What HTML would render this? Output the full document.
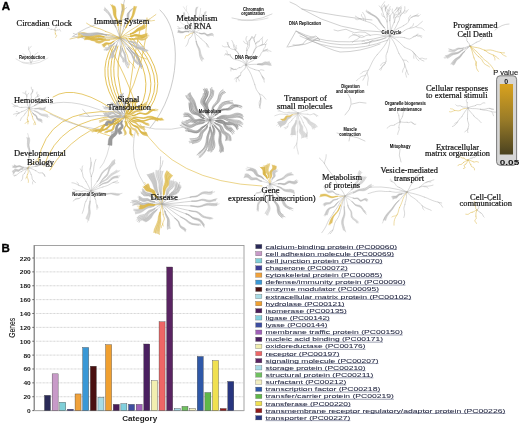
<!DOCTYPE html><html><head><meta charset="utf-8"><style>
*{margin:0;padding:0}
html,body{width:520px;height:425px;overflow:hidden;background:#fff}
svg{display:block;will-change:transform;filter:blur(0.3px)}
text{font-family:"Liberation Sans",sans-serif}
.sf{font-family:"Liberation Serif",serif;font-size:8.5px;fill:#111;stroke:#111;stroke-width:0.2px}
.sm{font-size:4.7px;font-weight:bold;fill:#111;stroke:#111;stroke-width:0.05px}
.yl{font-size:5.7px;font-weight:bold;fill:#1a1a1a}
.cat{font-size:7.6px;font-weight:bold;fill:#222}
.gn{font-size:8.2px;fill:#111;stroke:#111;stroke-width:0.1px}
.pl{font-size:11.5px;font-weight:bold;fill:#000;stroke:#000;stroke-width:0.35px}
.lg{font-size:6.0px;fill:#262a44;stroke:#262a44;stroke-width:0.06px}
.pv{font-size:7px;fill:#111;stroke:#111;stroke-width:0.1px}
.pvb{font-size:7px;font-weight:bold;fill:#111}
</style></head><body>
<svg width="520" height="425" viewBox="0 0 520 425">
<rect width="520" height="425" fill="#fff"/>
<g id="trees"><g fill="none" stroke-linecap="round" stroke-linejoin="round"><path d="M112,46 Q95,75 118,108" stroke="#dfb83c" stroke-width="0.85"/><path d="M114,46 Q99,75 120,108" stroke="#dfb83c" stroke-width="0.85"/><path d="M116,46 Q103,75 122,108" stroke="#dfb83c" stroke-width="0.85"/><path d="M118,46 Q107,75 124,108" stroke="#dfb83c" stroke-width="0.85"/><path d="M121,46 Q112.5,75 126,108" stroke="#dfb83c" stroke-width="0.85"/><path d="M126,38 Q157,77 140,108" stroke="#dfb83c" stroke-width="0.85"/><path d="M129,38 Q163.5,77 144,108" stroke="#dfb83c" stroke-width="0.85"/><path d="M132,38 Q168.5,77 147,108" stroke="#dfb83c" stroke-width="0.85"/><path d="M136,38 Q171,77 150,108" stroke="#dfb83c" stroke-width="0.85"/><path d="M147,18 Q146.5,62 124,106" stroke="#dfb83c" stroke-width="0.7"/><path d="M140,30 Q132,64 128,106" stroke="#dfb83c" stroke-width="0.7"/><path d="M108,44 Q125.5,74 137,108" stroke="#dfb83c" stroke-width="0.7"/><path d="M160,10 C182,30 182,90 150,128" stroke="#b4b4b4" stroke-width="0.7"/><path d="M122,116 Q76.5,81.5 53,97" stroke="#dfb83c" stroke-width="0.75"/><path d="M118,118 Q76,97 50,104" stroke="#b0b0b0" stroke-width="0.5"/><path d="M40,108 Q65,122 110,136" stroke="#dfb83c" stroke-width="0.6"/><path d="M50,114 Q79,130 112,130" stroke="#b0b0b0" stroke-width="0.55"/><path d="M116,112 Q47,107 38,162" stroke="#dfb83c" stroke-width="0.75"/><path d="M118,116 Q59,119 44,166" stroke="#dfb83c" stroke-width="0.75"/><path d="M121,120 Q74.5,129 50,170" stroke="#dfb83c" stroke-width="0.7"/><path d="M140,124 Q172,182 262,186" stroke="#dfb83c" stroke-width="0.6"/><path d="M140,126 Q170,135 205,121" stroke="#b0b0b0" stroke-width="0.5"/><path d="M136,128 Q125,170 158,200" stroke="#b0b0b0" stroke-width="0.5"/><path d="M112,132 Q108,160 100,168" stroke="#b0b0b0" stroke-width="0.45"/><path d="M290,2 Q296,4 302,9 M302,9 Q340,32 384,32 M302,9 Q335,16 372,20 M296,31 Q335,50 386,36 M298,33 Q340,54 386,38 M300,36 Q342,58 388,40 M306,38 Q330,50 340,52 Q360,52 380,44" stroke="#aaa" stroke-width="0.55"/><path d="M287,47 L296,31 L306,37 Q312,42 320,40 L316,36 Q306,38 303,44 L288,47 M293,45 Q305,47 318,38" stroke="#9e9e9e" stroke-width="0.5"/><path d="M334,30 q4,2 8,0 q4,-2 8,1 q4,3 10,1 q5,-1 10,3" stroke="#aaa" stroke-width="0.5"/><path d="M345,196 Q370,180 407,192" stroke="#b0b0b0" stroke-width="0.5"/><path d="M210,120 211.6,120 213.1,120.1 214.6,120.4 216.1,120.8" stroke="#848484" stroke-width="0.62"/><path d="M216.1,120.5 218,120.1 219.9,119.7 221.8,120 223.6,120.9 225.4,122.1 227.2,122.6 229.1,122.4 231.2,121.9 233.2,121.7 235,122.3 236.6,123.9 238,125.9 237.2,129.8 235.9,127.6 234.4,125.8 232.7,124.9 230.8,124.8 228.9,125.1 227,125 225.3,124.3 223.6,122.8 221.8,121.5 219.9,121 218,121 216.1,121.1Z" fill="#d0d0d0" stroke="none"/><path d="M216.1,120.5 218,120.1 219.9,119.7 221.8,120 223.6,120.9 225.4,122.1 227.2,122.6 229.1,122.4 231.2,121.9 233.2,121.7 235,122.3 236.6,123.9 238,125.9" stroke="#848484" stroke-width="0.496"/><path d="M216.1,120.7 218,120.3 220,120 221.9,120.3 223.7,121.3 225.5,122.6 227.3,123.1 229.2,122.9 231.3,122.5 233.3,122.4 235.1,123.1 236.7,124.7 238.1,126.8" stroke="#848484" stroke-width="0.496"/><path d="M216.1,120.8 217.9,120.5 219.7,120.2 221.4,120.6 223.1,121.6 224.8,122.9 226.4,123.5 228.2,123.3 230.1,122.9 232,122.7 233.7,123.4 235.1,125 236.3,127.1" stroke="#848484" stroke-width="0.496"/><path d="M216.1,120.9 218.1,120.7 220.1,120.5 222,120.9 223.9,122.1 225.7,123.5 227.5,124.1 229.5,124.1 231.5,123.7 233.5,123.7 235.4,124.6 237,126.3 238.3,128.6" stroke="#848484" stroke-width="0.496"/><path d="M216.1,121 218,120.8 219.9,120.7 221.8,121.2 223.6,122.4 225.3,123.8 227.1,124.5 229,124.5 230.9,124.2 232.8,124.2 234.6,125.1 236.1,126.8 237.4,129.1" stroke="#848484" stroke-width="0.496"/><path d="M216.1,121.1 218,121 219.9,121 221.8,121.5 223.6,122.8 225.3,124.3 227,125 228.9,125.1 230.8,124.8 232.7,124.9 234.4,125.8 235.9,127.6 237.2,129.8" stroke="#848484" stroke-width="0.496"/><path d="M216.2,120.5 217.6,121.1 219.1,121.5 220.7,121.5 222.4,121.5 223.7,122.3 224.7,123.9 225.6,125.5 226.8,126.4 228.4,126.8 230.1,127 231.5,127.7 232.4,129.2 232.5,134.2 231.7,132.4 230.3,131.3 228.6,130.7 227.1,130 225.9,128.7 225,126.7 224,124.8 222.6,123.6 220.9,123.2 219.1,122.8 217.6,122.1 216,121.1Z" fill="#e4e4e4" stroke="none"/><path d="M216.2,120.5 217.6,121.1 219.1,121.5 220.7,121.5 222.4,121.5 223.7,122.3 224.7,123.9 225.6,125.5 226.8,126.4 228.4,126.8 230.1,127 231.5,127.7 232.4,129.2" stroke="#848484" stroke-width="0.496"/><path d="M216.2,120.7 217.8,121.3 219.5,121.9 221.3,122.1 223.2,122.3 224.7,123.2 225.8,125 226.9,126.8 228.3,128 230,128.5 231.8,129 233.3,129.9 234.3,131.7" stroke="#848484" stroke-width="0.496"/><path d="M216.1,120.8 217.6,121.5 219,122 220.6,122.1 222.3,122.3 223.6,123.2 224.5,124.9 225.4,126.6 226.5,127.7 228.1,128.1 229.7,128.4 231.1,129.3 231.9,130.9" stroke="#848484" stroke-width="0.496"/><path d="M216.1,120.9 217.7,121.7 219.4,122.4 221.3,122.7 223.1,123.1 224.6,124.1 225.7,126 226.8,127.9 228.1,129.2 229.8,129.9 231.5,130.4 233,131.5 234,133.4" stroke="#848484" stroke-width="0.496"/><path d="M216.1,121 217.4,121.8 218.8,122.4 220.3,122.7 221.8,122.9 223.1,123.9 223.9,125.6 224.7,127.4 225.7,128.5 227.1,129 228.6,129.4 229.9,130.2 230.6,131.9" stroke="#848484" stroke-width="0.496"/><path d="M216,121.1 217.6,122.1 219.1,122.8 220.9,123.2 222.6,123.6 224,124.8 225,126.7 225.9,128.7 227.1,130 228.6,130.7 230.3,131.3 231.7,132.4 232.5,134.2" stroke="#848484" stroke-width="0.496"/><path d="M210,120 211.4,120.5 212.6,121.3 213.8,122.2 215,123" stroke="#949494" stroke-width="0.62"/><path d="M215.1,122.7 216.9,123.6 218.9,124.2 220.7,125.1 222.2,126.5 223.1,128.6 224.1,130.5 225.5,132 227.2,133 229,134.1 230.3,135.7 231,137.9 231.1,140.4 225.6,140.7 226,138.3 225.7,136.3 224.8,134.9 223.4,133.9 222.1,133 221.2,131.6 220.6,129.6 220.1,127.6 219.1,126.1 217.7,125.2 216.2,124.4 214.8,123.3Z" fill="#d0d0d0" stroke="none"/><path d="M215.1,122.7 216.9,123.6 218.9,124.2 220.7,125.1 222.2,126.5 223.1,128.6 224.1,130.5 225.5,132 227.2,133 229,134.1 230.3,135.7 231,137.9 231.1,140.4" stroke="#949494" stroke-width="0.496"/><path d="M215,122.9 216.8,123.8 218.6,124.5 220.4,125.4 221.8,126.9 222.7,129 223.6,131 224.8,132.4 226.5,133.5 228.2,134.6 229.5,136.2 230,138.4 230,140.9" stroke="#949494" stroke-width="0.496"/><path d="M215,123 216.4,123.9 218,124.5 219.5,125.3 220.6,126.7 221.2,128.6 221.8,130.4 222.9,131.7 224.3,132.5 225.8,133.4 226.9,134.7 227.3,136.7 227.1,138.9" stroke="#949494" stroke-width="0.496"/><path d="M214.9,123.2 216.3,124.1 217.8,124.8 219.3,125.7 220.3,127.1 220.9,129.1 221.5,130.9 222.5,132.3 223.8,133.2 225.3,134.1 226.3,135.5 226.6,137.4 226.3,139.8" stroke="#949494" stroke-width="0.496"/><path d="M214.8,123.3 216.2,124.4 217.7,125.2 219.1,126.1 220.1,127.6 220.6,129.6 221.2,131.6 222.1,133 223.4,133.9 224.8,134.9 225.7,136.3 226,138.3 225.6,140.7" stroke="#949494" stroke-width="0.496"/><path d="M210,120 211.2,121.2 212.2,122.6 213.2,123.9 214.3,125.2" stroke="#949494" stroke-width="0.62"/><path d="M214.5,125 216.1,126.7 217.8,128.3 219.5,130 220.8,132 221.3,134.5 221.2,137.3 221.2,139.9 221.6,142.3 222.3,144.5 223.2,146.7 223.6,149.1 223.3,151.7 219.3,151.4 219.9,149 219.8,146.7 219.2,144.7 218.7,142.6 218.6,140.3 218.9,137.8 219.3,135.1 219.1,132.7 218.1,130.6 216.7,128.9 215.3,127.2 214.1,125.3Z" fill="#d6d6d6" stroke="none"/><path d="M214.5,125 216.1,126.7 217.8,128.3 219.5,130 220.8,132 221.3,134.5 221.2,137.3 221.2,139.9 221.6,142.3 222.3,144.5 223.2,146.7 223.6,149.1 223.3,151.7" stroke="#949494" stroke-width="0.496"/><path d="M214.4,125 215.9,126.7 217.5,128.3 219.1,130 220.3,131.9 220.7,134.3 220.6,137 220.4,139.5 220.7,141.8 221.5,143.9 222.3,146 222.7,148.3 222.3,150.8" stroke="#949494" stroke-width="0.496"/><path d="M214.3,125.1 215.8,126.9 217.4,128.6 219,130.4 220.2,132.5 220.6,135 220.4,137.7 220.3,140.4 220.5,142.8 221.2,145 222,147.2 222.3,149.6 221.8,152.2" stroke="#949494" stroke-width="0.496"/><path d="M214.2,125.2 215.6,127 217.2,128.7 218.7,130.5 219.8,132.5 220.2,135 219.9,137.8 219.7,140.4 219.9,142.7 220.6,144.9 221.3,147.1 221.5,149.4 221,152" stroke="#949494" stroke-width="0.496"/><path d="M214.2,125.3 215.5,127.2 217.1,129 218.6,130.8 219.7,132.9 220,135.5 219.7,138.3 219.4,141 219.6,143.4 220.2,145.6 220.8,147.8 221,150.2 220.4,152.8" stroke="#949494" stroke-width="0.496"/><path d="M214.1,125.3 215.3,127.2 216.7,128.9 218.1,130.6 219.1,132.7 219.3,135.1 218.9,137.8 218.6,140.3 218.7,142.6 219.2,144.7 219.8,146.7 219.9,149 219.3,151.4" stroke="#949494" stroke-width="0.496"/><path d="M210,120 210.5,121.6 211.2,123 212,124.5 212.5,126" stroke="#848484" stroke-width="0.62"/><path d="M212.9,125.9 214,127.6 214.8,129.5 215,131.5 214.7,133.7 214.1,135.8 214,137.8 214.1,139.8 214.5,141.8 214.9,143.9 214.9,146 214.3,148.1 213,150.1 207.7,150.7 209.3,148.8 210.3,146.9 210.7,144.8 210.7,142.8 210.7,140.8 210.9,138.8 211.5,136.8 212.4,134.6 213.1,132.3 213.3,130.1 212.9,128.1 212.2,126.1Z" fill="#d0d0d0" stroke="none"/><path d="M212.9,125.9 214,127.6 214.8,129.5 215,131.5 214.7,133.7 214.1,135.8 214,137.8 214.1,139.8 214.5,141.8 214.9,143.9 214.9,146 214.3,148.1 213,150.1" stroke="#848484" stroke-width="0.496"/><path d="M212.6,126 213.6,127.6 214.2,129.4 214.3,131.4 213.8,133.4 213.1,135.4 212.9,137.3 212.9,139.1 213.2,141 213.5,142.9 213.4,144.8 212.8,146.7 211.5,148.6" stroke="#848484" stroke-width="0.496"/><path d="M212.4,126 213.2,127.7 213.6,129.4 213.6,131.3 213,133.2 212.2,135.1 211.8,136.9 211.7,138.6 211.9,140.3 212.1,142.1 212,143.9 211.3,145.6 209.9,147.3" stroke="#848484" stroke-width="0.496"/><path d="M212.2,126.1 212.9,128.1 213.3,130.1 213.1,132.3 212.4,134.6 211.5,136.8 210.9,138.8 210.7,140.8 210.7,142.8 210.7,144.8 210.3,146.9 209.3,148.8 207.7,150.7" stroke="#848484" stroke-width="0.496"/><path d="M210,120 210.3,121.8 210.2,123.7 210.2,125.5 210.2,127.3" stroke="#949494" stroke-width="0.62"/><path d="M210.5,127.3 211.1,129.2 211.8,131.1 212.5,133.1 212.8,135.1 212.6,137.2 212,139.3 211.6,141.4 211.5,143.4 211.6,145.4 212,147.5 212.1,149.5 211.9,151.6 208.1,151.2 208.6,149.2 208.6,147.2 208.5,145.3 208.6,143.3 209,141.4 209.7,139.4 210.5,137.3 211,135.3 211,133.3 210.6,131.3 210.2,129.4 209.9,127.4Z" fill="#e4e4e4" stroke="none"/><path d="M210.5,127.3 211.1,129.2 211.8,131.1 212.5,133.1 212.8,135.1 212.6,137.2 212,139.3 211.6,141.4 211.5,143.4 211.6,145.4 212,147.5 212.1,149.5 211.9,151.6" stroke="#949494" stroke-width="0.496"/><path d="M210.3,127.3 210.9,129.3 211.5,131.3 212.1,133.3 212.4,135.4 212.1,137.5 211.5,139.7 211,141.8 210.8,143.9 210.9,146 211.1,148.1 211.2,150.2 210.9,152.3" stroke="#949494" stroke-width="0.496"/><path d="M210.2,127.3 210.6,129.2 211.2,131.1 211.7,132.9 211.9,134.9 211.5,136.9 210.8,138.9 210.3,140.8 210,142.7 210.1,144.7 210.3,146.6 210.4,148.5 210.1,150.4" stroke="#949494" stroke-width="0.496"/><path d="M210.1,127.4 210.4,129.3 210.9,131.3 211.3,133.2 211.5,135.3 211,137.3 210.3,139.4 209.6,141.4 209.3,143.4 209.3,145.4 209.4,147.4 209.4,149.4 209,151.4" stroke="#949494" stroke-width="0.496"/><path d="M209.9,127.4 210.2,129.4 210.6,131.3 211,133.3 211,135.3 210.5,137.3 209.7,139.4 209,141.4 208.6,143.3 208.5,145.3 208.6,147.2 208.6,149.2 208.1,151.2" stroke="#949494" stroke-width="0.496"/><path d="M210.5,127.4 210.2,130 209.6,132.6 208.9,135.2 208.4,137.8 208.2,140.5 208.1,143.2 207.7,145.9 207,148.5 205.7,151 204,153.3 202.1,155.5 200,157.6 196.9,154.8 199.1,153 201.3,151.1 203.1,149 204.5,146.8 205.4,144.4 206,142 206.3,139.5 206.7,137 207.5,134.6 208.4,132.2 209.3,129.8 209.9,127.3Z" fill="#e4e4e4" stroke="none"/><path d="M210.5,127.4 210.2,130 209.6,132.6 208.9,135.2 208.4,137.8 208.2,140.5 208.1,143.2 207.7,145.9 207,148.5 205.7,151 204,153.3 202.1,155.5 200,157.6" stroke="#949494" stroke-width="0.496"/><path d="M210.4,127.3 210,130 209.3,132.6 208.6,135.2 208,137.8 207.7,140.4 207.5,143.1 207.1,145.8 206.3,148.4 205,150.9 203.2,153.1 201.2,155.3 199,157.4" stroke="#949494" stroke-width="0.496"/><path d="M210.2,127.3 209.8,129.6 209.1,131.9 208.3,134.1 207.8,136.4 207.5,138.7 207.4,141.1 207,143.4 206.3,145.7 205.1,147.8 203.4,149.8 201.5,151.6 199.5,153.3" stroke="#949494" stroke-width="0.496"/><path d="M210.1,127.3 209.6,129.6 208.8,131.8 208,134 207.3,136.3 207,138.6 206.8,140.9 206.4,143.2 205.6,145.4 204.4,147.5 202.7,149.4 200.7,151.1 198.7,152.8" stroke="#949494" stroke-width="0.496"/><path d="M209.9,127.3 209.3,129.8 208.4,132.2 207.5,134.6 206.7,137 206.3,139.5 206,142 205.4,144.4 204.5,146.8 203.1,149 201.3,151.1 199.1,153 196.9,154.8" stroke="#949494" stroke-width="0.496"/><path d="M210,120 209.3,121.5 208.5,122.9 207.8,124.4 207.3,125.9" stroke="#949494" stroke-width="0.62"/><path d="M207.6,126.1 207.1,128 206.1,129.6 204.7,131.1 203.4,132.6 202.5,134.3 202,136.4 201.5,138.4 200.6,140.3 199.1,141.6 197,142.5 194.6,143.1 192.3,143.7 189.8,138.8 192.1,138.7 194.5,138.5 196.7,138 198.3,137 199.3,135.6 199.9,133.9 200.5,132.2 201.6,130.8 203.1,129.8 204.8,128.6 206,127.3 206.9,125.8Z" fill="#d6d6d6" stroke="none"/><path d="M207.6,126.1 207.1,128 206.1,129.6 204.7,131.1 203.4,132.6 202.5,134.3 202,136.4 201.5,138.4 200.6,140.3 199.1,141.6 197,142.5 194.6,143.1 192.3,143.7" stroke="#949494" stroke-width="0.496"/><path d="M207.4,126 206.9,127.6 205.9,129.1 204.6,130.3 203.3,131.5 202.4,133 202.1,134.9 201.7,136.7 200.9,138.3 199.5,139.5 197.5,140.2 195.3,140.6 193.1,140.9" stroke="#949494" stroke-width="0.496"/><path d="M207.3,125.9 206.5,127.8 205.3,129.5 203.7,130.9 202.1,132.4 201,134 200.4,136 199.7,138 198.6,139.8 196.8,141.1 194.6,141.9 192,142.4 189.5,142.8" stroke="#949494" stroke-width="0.496"/><path d="M207.1,125.8 206.2,127.6 204.9,129.2 203.3,130.5 201.7,131.8 200.6,133.4 199.9,135.3 199.2,137.2 198.1,138.8 196.4,140 194.1,140.7 191.6,141.1 189.1,141.4" stroke="#949494" stroke-width="0.496"/><path d="M206.9,125.8 206,127.3 204.8,128.6 203.1,129.8 201.6,130.8 200.5,132.2 199.9,133.9 199.3,135.6 198.3,137 196.7,138 194.5,138.5 192.1,138.7 189.8,138.8" stroke="#949494" stroke-width="0.496"/><path d="M210,120 209.1,121.2 208.2,122.5 207.3,123.8 206.2,124.9" stroke="#848484" stroke-width="0.62"/><path d="M206.4,125 205.3,126.2 204,127.1 202.7,128.1 201.7,129.3 200.8,130.7 199.6,132 198,132.6 196.1,132.7 194,132.2 192,131.6 190.1,131.2 188.4,131.2 184.9,128.4 186.8,128.8 188.8,129.5 191.1,130.3 193.3,131.1 195.5,131.3 197.3,130.8 198.7,129.8 199.9,128.5 201.3,127.4 202.9,126.6 204.5,125.7 206,124.7Z" fill="#d0d0d0" stroke="none"/><path d="M206.4,125 205.3,126.2 204,127.1 202.7,128.1 201.7,129.3 200.8,130.7 199.6,132 198,132.6 196.1,132.7 194,132.2 192,131.6 190.1,131.2 188.4,131.2" stroke="#848484" stroke-width="0.496"/><path d="M206.3,124.9 205,126.2 203.5,127.2 202,128.2 200.8,129.5 199.6,130.9 198.3,132.2 196.5,132.8 194.3,132.8 192,132.3 189.8,131.7 187.7,131.2 185.8,131" stroke="#848484" stroke-width="0.496"/><path d="M206.2,124.9 204.8,126 203.3,127 201.8,127.9 200.5,129.1 199.3,130.6 197.9,131.7 196.1,132.3 194,132.3 191.7,131.7 189.4,130.9 187.3,130.4 185.5,130.2" stroke="#848484" stroke-width="0.496"/><path d="M206.1,124.8 204.8,125.7 203.3,126.5 202,127.3 200.8,128.3 199.8,129.6 198.6,130.6 197,131.1 195,130.9 193,130.3 190.9,129.4 189.1,128.8 187.4,128.6" stroke="#848484" stroke-width="0.496"/><path d="M206,124.7 204.5,125.7 202.9,126.6 201.3,127.4 199.9,128.5 198.7,129.8 197.3,130.8 195.5,131.3 193.3,131.1 191.1,130.3 188.8,129.5 186.8,128.8 184.9,128.4" stroke="#848484" stroke-width="0.496"/><path d="M210,120 208.5,120.7 206.9,121.2 205.4,121.8 203.9,122.5" stroke="#949494" stroke-width="0.62"/><path d="M204.1,122.8 202.2,123.6 200.2,124 198.3,124.4 196.3,125 194.5,125.9 192.7,126.9 190.7,127.7 188.7,128.1 186.6,128 184.4,127.4 182.2,126.4 180.1,125.3 182.6,121.2 184.4,122.6 186.3,123.7 188.2,124.6 190,124.9 191.8,124.8 193.5,124.3 195.1,123.5 196.7,123 198.4,122.8 200.2,122.7 202.1,122.6 203.8,122.2Z" fill="#e4e4e4" stroke="none"/><path d="M204.1,122.8 202.2,123.6 200.2,124 198.3,124.4 196.3,125 194.5,125.9 192.7,126.9 190.7,127.7 188.7,128.1 186.6,128 184.4,127.4 182.2,126.4 180.1,125.3" stroke="#949494" stroke-width="0.496"/><path d="M204,122.6 202.4,123.2 200.6,123.6 198.9,123.8 197.2,124.3 195.6,125 194,126 192.4,126.7 190.6,127 188.8,126.9 186.9,126.2 185,125.3 183.1,124.1" stroke="#949494" stroke-width="0.496"/><path d="M203.9,122.5 202.2,123.1 200.4,123.3 198.5,123.5 196.8,123.9 195.1,124.6 193.5,125.5 191.7,126.1 189.9,126.4 188,126.2 186,125.5 184.1,124.4 182.2,123.2" stroke="#949494" stroke-width="0.496"/><path d="M203.9,122.4 202.1,122.9 200.2,123.1 198.3,123.2 196.4,123.5 194.7,124.2 193,125 191.2,125.6 189.4,125.8 187.4,125.5 185.4,124.7 183.4,123.6 181.5,122.3" stroke="#949494" stroke-width="0.496"/><path d="M203.8,122.2 202.1,122.6 200.2,122.7 198.4,122.8 196.7,123 195.1,123.5 193.5,124.3 191.8,124.8 190,124.9 188.2,124.6 186.3,123.7 184.4,122.6 182.6,121.2" stroke="#949494" stroke-width="0.496"/><path d="M210,120 208.6,120.4 207.2,120.4 205.7,120.4 204.3,120.5" stroke="#949494" stroke-width="0.62"/><path d="M204.4,120.8 202.7,121.1 201.1,121.6 199.7,122.5 198.2,123.9 196.7,124.6 194.8,124 192.9,122.9 191.1,122.1 189.5,122.2 187.9,123.1 186.2,124.1 184.5,124.4 186,120.4 187.5,120.4 188.9,119.6 190.3,118.9 191.8,119.1 193.4,120.2 195.2,121.6 196.9,122.4 198.4,122 199.7,120.9 201,120.3 202.6,120.2 204.2,120.2Z" fill="#e4e4e4" stroke="none"/><path d="M204.4,120.8 202.7,121.1 201.1,121.6 199.7,122.5 198.2,123.9 196.7,124.6 194.8,124 192.9,122.9 191.1,122.1 189.5,122.2 187.9,123.1 186.2,124.1 184.5,124.4" stroke="#949494" stroke-width="0.496"/><path d="M204.3,120.6 202.8,120.8 201.4,121.2 200.1,122 198.8,123.3 197.4,123.9 195.7,123.3 194,122.1 192.4,121.2 191,121.2 189.5,122.1 188.1,123.1 186.6,123.3" stroke="#949494" stroke-width="0.496"/><path d="M204.3,120.5 202.6,120.7 201.1,120.9 199.6,121.7 198.3,122.9 196.7,123.5 194.9,122.8 193.1,121.5 191.4,120.6 189.8,120.6 188.3,121.4 186.8,122.3 185.1,122.4" stroke="#949494" stroke-width="0.496"/><path d="M204.2,120.4 202.5,120.4 200.9,120.6 199.4,121.4 198,122.5 196.4,123.1 194.6,122.3 192.7,120.9 190.9,119.9 189.3,119.8 187.8,120.6 186.2,121.4 184.5,121.4" stroke="#949494" stroke-width="0.496"/><path d="M204.2,120.2 202.6,120.2 201,120.3 199.7,120.9 198.4,122 196.9,122.4 195.2,121.6 193.4,120.2 191.8,119.1 190.3,118.9 188.9,119.6 187.5,120.4 186,120.4" stroke="#949494" stroke-width="0.496"/><path d="M204.3,120.8 202.5,120.6 200.8,120.4 199.1,120.6 197.2,121.3 195.4,121.9 193.6,121.4 192.1,120 190.6,118.4 189.1,117 187.5,116.4 185.6,116.5 183.7,116.7 184.6,112.9 186.4,112.9 188.1,113.1 189.6,113.9 191,115.5 192.4,117.4 193.9,119 195.5,119.8 197.3,119.5 199.1,119.1 200.8,119.1 202.5,119.7 204.3,120.2Z" fill="#d6d6d6" stroke="none"/><path d="M204.3,120.8 202.5,120.6 200.8,120.4 199.1,120.6 197.2,121.3 195.4,121.9 193.6,121.4 192.1,120 190.6,118.4 189.1,117 187.5,116.4 185.6,116.5 183.7,116.7" stroke="#949494" stroke-width="0.496"/><path d="M204.3,120.7 202.7,120.4 201.1,120.2 199.5,120.4 197.9,121 196.2,121.6 194.6,121 193.2,119.7 191.9,118 190.5,116.7 189.1,116.2 187.4,116.2 185.6,116.5" stroke="#949494" stroke-width="0.496"/><path d="M204.3,120.6 202.5,120.2 200.7,119.9 199,120 197.1,120.6 195.3,121 193.5,120.4 191.9,118.9 190.5,117.2 189,115.7 187.4,115 185.6,114.9 183.7,115" stroke="#949494" stroke-width="0.496"/><path d="M204.3,120.4 202.5,120 200.7,119.6 198.8,119.7 197,120.2 195.1,120.6 193.3,119.9 191.7,118.3 190.2,116.5 188.7,115 187.1,114.2 185.2,114.1 183.3,114.1" stroke="#949494" stroke-width="0.496"/><path d="M204.3,120.3 202.8,119.9 201.3,119.4 199.7,119.5 198.2,120 196.6,120.3 195.1,119.7 193.8,118.2 192.6,116.4 191.4,115 190.1,114.3 188.5,114.3 186.9,114.4" stroke="#949494" stroke-width="0.496"/><path d="M204.3,120.2 202.5,119.7 200.8,119.1 199.1,119.1 197.3,119.5 195.5,119.8 193.9,119 192.4,117.4 191,115.5 189.6,113.9 188.1,113.1 186.4,112.9 184.6,112.9" stroke="#949494" stroke-width="0.496"/><path d="M210,120 208.4,119.6 206.9,119.4 205.3,118.9 203.8,118.3" stroke="#848484" stroke-width="0.62"/><path d="M203.7,118.7 202,118.3 200.5,117.4 199.1,116.3 197.6,115.3 195.9,114.7 194.1,114.3 192.3,113.7 190.9,112.5 189.9,110.6 189.5,108.4 189.3,105.9 189.1,103.6 192.7,100.2 192.4,102.6 192.3,105.1 192.4,107.5 193,109.5 194.1,110.9 195.6,111.8 197.2,112.4 198.6,113.2 199.8,114.5 201,115.9 202.4,117.2 203.9,118Z" fill="#d6d6d6" stroke="none"/><path d="M203.7,118.7 202,118.3 200.5,117.4 199.1,116.3 197.6,115.3 195.9,114.7 194.1,114.3 192.3,113.7 190.9,112.5 189.9,110.6 189.5,108.4 189.3,105.9 189.1,103.6" stroke="#848484" stroke-width="0.496"/><path d="M203.8,118.5 202,118 200.4,117 199,115.8 197.5,114.7 195.8,114 193.9,113.5 192.1,112.7 190.7,111.4 189.8,109.5 189.3,107.1 189.2,104.5 189.1,102.1" stroke="#848484" stroke-width="0.496"/><path d="M203.8,118.4 202.2,117.9 200.9,116.9 199.6,115.7 198.3,114.6 196.8,114 195.1,113.6 193.5,112.9 192.3,111.7 191.5,109.9 191.2,107.7 191.2,105.3 191.2,103" stroke="#848484" stroke-width="0.496"/><path d="M203.9,118.3 202.2,117.6 200.7,116.5 199.3,115.1 197.9,113.9 196.3,113.1 194.6,112.6 192.9,111.7 191.7,110.3 190.9,108.3 190.6,105.9 190.6,103.3 190.6,100.9" stroke="#848484" stroke-width="0.496"/><path d="M203.9,118.1 202.5,117.5 201.2,116.3 200.2,115.1 199,113.9 197.7,113.3 196.2,112.9 194.8,112.2 193.7,111 193.1,109.2 193,107 193.2,104.7 193.4,102.5" stroke="#848484" stroke-width="0.496"/><path d="M203.9,118 202.4,117.2 201,115.9 199.8,114.5 198.6,113.2 197.2,112.4 195.6,111.8 194.1,110.9 193,109.5 192.4,107.5 192.3,105.1 192.4,102.6 192.7,100.2" stroke="#848484" stroke-width="0.496"/><path d="M210,120 208.4,119.1 206.9,118.3 205.4,117.2 204.1,116.1" stroke="#949494" stroke-width="0.62"/><path d="M203.8,116.4 201.8,115.3 199.8,114.3 197.7,113.2 195.9,111.7 194.6,109.7 193.6,107.4 192.6,105.1 191.4,103.1 189.9,101.4 188.3,99.7 186.8,97.9 185.7,95.8 190.1,92.4 190.8,94.7 191.9,96.6 193.2,98.4 194.3,100.3 195.2,102.5 195.8,104.9 196.5,107.4 197.5,109.7 199,111.4 200.8,112.9 202.6,114.2 204.3,115.7Z" fill="#d0d0d0" stroke="none"/><path d="M203.8,116.4 201.8,115.3 199.8,114.3 197.7,113.2 195.9,111.7 194.6,109.7 193.6,107.4 192.6,105.1 191.4,103.1 189.9,101.4 188.3,99.7 186.8,97.9 185.7,95.8" stroke="#949494" stroke-width="0.496"/><path d="M203.9,116.3 202.3,115.3 200.5,114.4 198.7,113.4 197.2,112.1 196.1,110.3 195.4,108.2 194.7,106.2 193.7,104.5 192.4,103 191,101.6 189.7,100.1 188.8,98.3" stroke="#949494" stroke-width="0.496"/><path d="M204,116.1 202.5,115.1 200.8,114.2 199.1,113.2 197.7,111.9 196.8,110.1 196.2,108 195.5,106 194.6,104.3 193.5,102.9 192.1,101.5 190.9,100.1 190.1,98.3" stroke="#949494" stroke-width="0.496"/><path d="M204.1,116 202.3,114.7 200.4,113.4 198.5,112.2 196.9,110.5 195.8,108.4 195,105.9 194.2,103.6 193.2,101.5 191.9,99.6 190.5,97.9 189.3,96 188.4,93.8" stroke="#949494" stroke-width="0.496"/><path d="M204.2,115.9 202.5,114.5 200.6,113.2 198.8,111.9 197.3,110.2 196.3,108 195.6,105.6 194.9,103.2 193.9,101.1 192.8,99.3 191.4,97.5 190.3,95.6 189.5,93.5" stroke="#949494" stroke-width="0.496"/><path d="M204.3,115.7 202.6,114.2 200.8,112.9 199,111.4 197.5,109.7 196.5,107.4 195.8,104.9 195.2,102.5 194.3,100.3 193.2,98.4 191.9,96.6 190.8,94.7 190.1,92.4" stroke="#949494" stroke-width="0.496"/><path d="M210,120 209.2,118.5 208.5,116.9 207.6,115.4 206.6,113.9" stroke="#949494" stroke-width="0.62"/><path d="M206.3,114.1 205.2,112.7 204.5,111.1 204.3,109.3 203.9,107.6 202.9,106.1 201.6,104.6 200.7,103 200.6,101.1 201.2,99.1 202.3,97.1 203.1,95.2 203.4,93.4 208.5,91.7 207.8,93.4 206.6,95.3 205.2,97.4 204.1,99.4 203.9,101.4 204.4,103.1 205.4,104.6 206,106.3 206,108.2 205.9,110.2 206.2,112.1 207,113.7Z" fill="#e4e4e4" stroke="none"/><path d="M206.3,114.1 205.2,112.7 204.5,111.1 204.3,109.3 203.9,107.6 202.9,106.1 201.6,104.6 200.7,103 200.6,101.1 201.2,99.1 202.3,97.1 203.1,95.2 203.4,93.4" stroke="#949494" stroke-width="0.496"/><path d="M206.5,114 205.4,112.6 204.9,110.9 204.7,109.1 204.4,107.3 203.5,105.8 202.3,104.3 201.5,102.6 201.5,100.8 202.2,98.7 203.4,96.7 204.3,94.8 204.7,93" stroke="#949494" stroke-width="0.496"/><path d="M206.6,113.9 205.7,112.5 205.3,110.8 205.2,109 205,107.2 204.3,105.7 203.1,104.3 202.4,102.7 202.5,100.9 203.3,98.9 204.6,97 205.6,95.1 206.1,93.4" stroke="#949494" stroke-width="0.496"/><path d="M206.8,113.8 206,112.4 205.7,110.7 205.8,108.9 205.7,107.2 205,105.8 204,104.4 203.4,102.8 203.5,101.1 204.5,99.2 205.8,97.4 206.9,95.6 207.4,94" stroke="#949494" stroke-width="0.496"/><path d="M207,113.7 206.2,112.1 205.9,110.2 206,108.2 206,106.3 205.4,104.6 204.4,103.1 203.9,101.4 204.1,99.4 205.2,97.4 206.6,95.3 207.8,93.4 208.5,91.7" stroke="#949494" stroke-width="0.496"/><path d="M210,120 209.8,118.4 209.3,116.9 208.7,115.4 208.2,113.8" stroke="#848484" stroke-width="0.62"/><path d="M207.9,113.9 207.1,112 206.8,109.9 206.5,107.8 205.4,106 203.8,104.2 202.8,102.3 203,100 204.1,97.7 205.1,95.4 205.2,93.2 204.4,91.2 203.3,89.2 206.9,88.5 207.7,90.5 208.3,92.5 207.9,94.6 206.7,96.9 205.4,99.3 204.9,101.5 205.7,103.6 207,105.4 207.8,107.3 207.9,109.5 207.9,111.7 208.4,113.7Z" fill="#d0d0d0" stroke="none"/><path d="M207.9,113.9 207.1,112 206.8,109.9 206.5,107.8 205.4,106 203.8,104.2 202.8,102.3 203,100 204.1,97.7 205.1,95.4 205.2,93.2 204.4,91.2 203.3,89.2" stroke="#848484" stroke-width="0.496"/><path d="M208,113.9 207.3,112.2 207.2,110.3 206.9,108.4 206,106.7 204.5,105.2 203.6,103.5 203.9,101.5 205,99.4 206,97.3 206.1,95.4 205.3,93.6 204.3,91.9" stroke="#848484" stroke-width="0.496"/><path d="M208.1,113.8 207.4,111.8 207.2,109.6 207,107.5 206,105.5 204.5,103.7 203.6,101.7 203.9,99.3 205.1,96.9 206.1,94.6 206.4,92.4 205.6,90.3 204.7,88.2" stroke="#848484" stroke-width="0.496"/><path d="M208.2,113.8 207.7,112 207.6,110 207.4,108 206.6,106.3 205.1,104.7 204.3,102.9 204.7,100.8 205.9,98.7 207.1,96.5 207.3,94.6 206.6,92.8 205.7,91" stroke="#848484" stroke-width="0.496"/><path d="M208.3,113.8 207.8,111.9 207.8,109.8 207.7,107.8 206.9,106 205.5,104.4 204.7,102.5 205.1,100.4 206.4,98.1 207.6,96 207.9,94 207.2,92.1 206.4,90.3" stroke="#848484" stroke-width="0.496"/><path d="M208.4,113.7 207.9,111.7 207.9,109.5 207.8,107.3 207,105.4 205.7,103.6 204.9,101.5 205.4,99.3 206.7,96.9 207.9,94.6 208.3,92.5 207.7,90.5 206.9,88.5" stroke="#848484" stroke-width="0.496"/><path d="M207.9,113.9 207.7,111.8 207.2,109.7 206.5,107.6 206,105.5 206,103.3 206.8,101.2 208,99.1 209.1,97.1 210,95.1 210.4,93 210.5,90.9 210.4,88.7 213.8,90.7 213.7,92.7 213.5,94.6 212.9,96.4 211.8,98.2 210.4,100.1 209,102 207.9,103.9 207.7,105.9 208,107.9 208.4,109.9 208.6,111.8 208.4,113.8Z" fill="#dedede" stroke="none"/><path d="M207.9,113.9 207.7,111.8 207.2,109.7 206.5,107.6 206,105.5 206,103.3 206.8,101.2 208,99.1 209.1,97.1 210,95.1 210.4,93 210.5,90.9 210.4,88.7" stroke="#848484" stroke-width="0.496"/><path d="M208.1,113.8 208,111.6 207.6,109.4 207,107.2 206.5,105 206.6,102.7 207.5,100.5 208.8,98.3 210.1,96.2 211.1,94 211.7,91.9 211.8,89.7 211.8,87.4" stroke="#848484" stroke-width="0.496"/><path d="M208.3,113.8 208.3,111.8 208,109.7 207.5,107.7 207.1,105.7 207.3,103.6 208.2,101.6 209.6,99.6 210.9,97.7 211.9,95.7 212.5,93.8 212.7,91.8 212.7,89.7" stroke="#848484" stroke-width="0.496"/><path d="M208.4,113.8 208.6,111.8 208.4,109.9 208,107.9 207.7,105.9 207.9,103.9 209,102 210.4,100.1 211.8,98.2 212.9,96.4 213.5,94.6 213.7,92.7 213.8,90.7" stroke="#848484" stroke-width="0.496"/><path d="M210,120 210.2,118.4 210.7,116.8 211.3,115.2 211.8,113.7" stroke="#949494" stroke-width="0.62"/><path d="M211.5,113.6 211.7,111.4 211.9,109.1 212.4,107 213.5,105 215.1,103.2 216.5,101.3 217.6,99.4 218.2,97.2 218.7,95 219.5,92.9 220.9,91.1 223,89.6 225.6,92.5 223.4,93.7 221.9,95.2 221,97.1 220.3,99.1 219.6,101 218.4,102.7 216.8,104.3 215,105.9 213.7,107.7 213,109.7 212.6,111.7 212,113.7Z" fill="#dedede" stroke="none"/><path d="M211.5,113.6 211.7,111.4 211.9,109.1 212.4,107 213.5,105 215.1,103.2 216.5,101.3 217.6,99.4 218.2,97.2 218.7,95 219.5,92.9 220.9,91.1 223,89.6" stroke="#949494" stroke-width="0.496"/><path d="M211.7,113.6 212,111.7 212.2,109.7 212.7,107.7 213.8,105.9 215.3,104.4 216.8,102.8 217.8,101.1 218.3,99.1 218.7,97.1 219.5,95.3 220.8,93.7 222.8,92.4" stroke="#949494" stroke-width="0.496"/><path d="M211.8,113.7 212.3,111.6 212.7,109.5 213.3,107.4 214.5,105.5 216.2,103.9 217.8,102.2 218.9,100.4 219.6,98.4 220.2,96.3 221.1,94.4 222.6,92.7 224.7,91.5" stroke="#949494" stroke-width="0.496"/><path d="M212,113.7 212.6,111.7 213,109.7 213.7,107.7 215,105.9 216.8,104.3 218.4,102.7 219.6,101 220.3,99.1 221,97.1 221.9,95.2 223.4,93.7 225.6,92.5" stroke="#949494" stroke-width="0.496"/><path d="M210,120 210.8,118.4 211.8,117 212.9,115.6 213.9,114.2" stroke="#949494" stroke-width="0.62"/><path d="M213.6,114 214.5,112.6 215.6,111.3 216.8,110.1 217.8,108.7 218.6,107.2 219.4,105.6 220.4,104.2 221.7,103 223.3,102.2 225.2,101.6 227.2,101.4 229.2,101.3 233.5,103.9 231.2,103.7 229,103.7 226.8,104 225,104.6 223.4,105.5 222.1,106.8 221,108.2 219.8,109.6 218.5,110.8 217,111.9 215.5,113.1 214.2,114.4Z" fill="#d6d6d6" stroke="none"/><path d="M213.6,114 214.5,112.6 215.6,111.3 216.8,110.1 217.8,108.7 218.6,107.2 219.4,105.6 220.4,104.2 221.7,103 223.3,102.2 225.2,101.6 227.2,101.4 229.2,101.3" stroke="#949494" stroke-width="0.496"/><path d="M213.8,114.1 214.9,112.6 216.3,111.2 217.7,109.9 218.9,108.4 220,106.8 221.1,105.2 222.3,103.7 223.9,102.5 225.8,101.6 227.9,101.1 230.2,100.9 232.6,100.8" stroke="#949494" stroke-width="0.496"/><path d="M214,114.2 215.2,112.8 216.6,111.6 218,110.4 219.3,109.1 220.4,107.6 221.4,106.1 222.7,104.8 224.2,103.7 226.1,103 228.2,102.6 230.5,102.5 232.7,102.6" stroke="#949494" stroke-width="0.496"/><path d="M214.2,114.4 215.5,113.1 217,111.9 218.5,110.8 219.8,109.6 221,108.2 222.1,106.8 223.4,105.5 225,104.6 226.8,104 229,103.7 231.2,103.7 233.5,103.9" stroke="#949494" stroke-width="0.496"/><path d="M210,120 211.4,118.9 212.7,117.5 214,116.3 215.4,115.1" stroke="#848484" stroke-width="0.62"/><path d="M215.2,114.9 216.8,113.6 218.3,112.1 219.6,110.5 221.3,109.3 223.6,108.9 225.9,108.9 227.9,108.3 229.6,107 231.2,105.5 233.1,104.6 235.4,104.7 237.9,105.4 241.3,108 238.6,107 236.1,106.7 234,107.4 232.2,108.7 230.3,109.8 228,110.2 225.4,110.1 222.9,110.3 220.9,111.3 219.2,112.8 217.5,114.2 215.6,115.3Z" fill="#dedede" stroke="none"/><path d="M215.2,114.9 216.8,113.6 218.3,112.1 219.6,110.5 221.3,109.3 223.6,108.9 225.9,108.9 227.9,108.3 229.6,107 231.2,105.5 233.1,104.6 235.4,104.7 237.9,105.4" stroke="#848484" stroke-width="0.496"/><path d="M215.3,115 216.9,113.8 218.3,112.4 219.7,110.8 221.4,109.8 223.6,109.5 225.9,109.5 227.9,109 229.5,107.8 231.1,106.4 232.9,105.5 235.2,105.7 237.6,106.5" stroke="#848484" stroke-width="0.496"/><path d="M215.4,115.1 217.3,113.8 219,112.2 220.7,110.6 222.7,109.4 225.2,109.1 227.8,109 230.1,108.5 232,107.2 233.9,105.8 236.1,105 238.7,105.2 241.5,106.1" stroke="#848484" stroke-width="0.496"/><path d="M215.5,115.2 217.5,113.9 219.2,112.4 221,110.8 223,109.7 225.6,109.4 228.3,109.4 230.6,108.9 232.6,107.7 234.5,106.4 236.7,105.6 239.3,105.9 242.1,106.8" stroke="#848484" stroke-width="0.496"/><path d="M215.6,115.3 217.5,114.2 219.2,112.8 220.9,111.3 222.9,110.3 225.4,110.1 228,110.2 230.3,109.8 232.2,108.7 234,107.4 236.1,106.7 238.6,107 241.3,108" stroke="#848484" stroke-width="0.496"/><path d="M210,120 211.7,119.4 213.5,118.9 215.4,118.7 217.2,118.5" stroke="#949494" stroke-width="0.62"/><path d="M217,118.1 218.8,116.9 220.7,115.9 222.8,115.3 225,115.2 227.3,115.4 229.4,115.3 231.5,114.7 233.5,114 235.6,113.3 237.8,113.1 240.1,113.6 242.3,114.6 243.5,119.6 241.3,118.2 239.1,117.4 236.9,117.2 234.8,117.5 232.7,117.9 230.6,118.1 228.4,117.9 226,117.4 223.6,117.1 221.4,117.3 219.4,118 217.3,118.8Z" fill="#d0d0d0" stroke="none"/><path d="M217,118.1 218.8,116.9 220.7,115.9 222.8,115.3 225,115.2 227.3,115.4 229.4,115.3 231.5,114.7 233.5,114 235.6,113.3 237.8,113.1 240.1,113.6 242.3,114.6" stroke="#949494" stroke-width="0.496"/><path d="M217.1,118.4 219.1,117.3 221.1,116.3 223.2,115.8 225.6,115.9 227.9,116.2 230.2,116.1 232.3,115.7 234.4,115.1 236.6,114.6 238.8,114.5 241.1,115.1 243.4,116.3" stroke="#949494" stroke-width="0.496"/><path d="M217.2,118.6 219.1,117.7 221,116.9 223.1,116.6 225.3,116.7 227.6,117.2 229.7,117.3 231.7,117 233.7,116.5 235.7,116 237.8,116.1 240,116.7 242.1,118" stroke="#949494" stroke-width="0.496"/><path d="M217.3,118.8 219.4,118 221.4,117.3 223.6,117.1 226,117.4 228.4,117.9 230.6,118.1 232.7,117.9 234.8,117.5 236.9,117.2 239.1,117.4 241.3,118.2 243.5,119.6" stroke="#949494" stroke-width="0.496"/><path d="M217.2,118.1 219.1,117.5 221.1,117.1 223.1,117.1 225.2,117.6 227.2,118.4 229.1,119.1 231.1,119.5 233.1,119.8 235.1,120 237.2,120.2 239.2,120.6 241.1,121.4 242,126.8 240.1,125.7 238.1,124.8 236.1,124.3 234,123.7 232,123 230,122.2 228,121.1 225.9,119.9 223.7,119.1 221.6,118.7 219.4,118.7 217.2,118.8Z" fill="#e4e4e4" stroke="none"/><path d="M217.2,118.1 219.1,117.5 221.1,117.1 223.1,117.1 225.2,117.6 227.2,118.4 229.1,119.1 231.1,119.5 233.1,119.8 235.1,120 237.2,120.2 239.2,120.6 241.1,121.4" stroke="#949494" stroke-width="0.496"/><path d="M217.2,118.3 219.3,117.8 221.5,117.5 223.7,117.6 225.9,118.2 228,119.1 230.1,119.9 232.2,120.5 234.4,121 236.5,121.3 238.7,121.6 240.8,122.2 242.9,123.2" stroke="#949494" stroke-width="0.496"/><path d="M217.2,118.5 219.4,118.1 221.6,117.9 223.8,118.1 226,118.8 228.1,119.8 230.2,120.7 232.3,121.4 234.4,121.9 236.6,122.3 238.7,122.7 240.8,123.4 242.8,124.5" stroke="#949494" stroke-width="0.496"/><path d="M217.2,118.7 219.2,118.4 221.1,118.3 223.1,118.6 225,119.3 226.9,120.4 228.8,121.3 230.6,122 232.5,122.5 234.4,122.9 236.3,123.3 238.1,124 239.9,125" stroke="#949494" stroke-width="0.496"/><path d="M217.2,118.8 219.4,118.7 221.6,118.7 223.7,119.1 225.9,119.9 228,121.1 230,122.2 232,123 234,123.7 236.1,124.3 238.1,124.8 240.1,125.7 242,126.8" stroke="#949494" stroke-width="0.496"/><path d="M125,117 127.2,116.8 129.4,116.9 131.6,117.2 133.8,117.3" stroke="#d8b036" stroke-width="0.6"/><path d="M133.8,117.2 136.1,117 138.5,117.2 140.8,117.6 143.2,117.7 145.5,117.2 147.9,116.4 150.2,116.2 152.6,116.5 154.9,117.4 157.2,118.1 159.5,118.4 161.9,118.1 163.8,120 161.2,120.2 158.8,119.8 156.3,118.9 153.8,117.9 151.3,117.4 148.8,117.6 146.3,118.1 143.8,118.5 141.3,118.3 138.8,117.8 136.3,117.4 133.8,117.4Z" fill="#e6cc78" stroke="none"/><path d="M133.8,117.2 136.1,117 138.5,117.2 140.8,117.6 143.2,117.7 145.5,117.2 147.9,116.4 150.2,116.2 152.6,116.5 154.9,117.4 157.2,118.1 159.5,118.4 161.9,118.1" stroke="#d8b036" stroke-width="0.48"/><path d="M133.8,117.3 136.2,117.2 138.6,117.5 141,117.9 143.4,118.1 145.8,117.6 148.2,117 150.6,116.8 153,117.2 155.3,118.1 157.7,118.9 160.1,119.3 162.5,119" stroke="#d8b036" stroke-width="0.48"/><path d="M133.8,117.4 136.3,117.4 138.8,117.8 141.3,118.3 143.8,118.5 146.3,118.1 148.8,117.6 151.3,117.4 153.8,117.9 156.3,118.9 158.8,119.8 161.2,120.2 163.8,120" stroke="#d8b036" stroke-width="0.48"/><path d="M125,117 126.9,116.9 128.7,116.6 130.5,116.1 132.3,115.5" stroke="#d8b036" stroke-width="0.6"/><path d="M132.3,115.4 134.2,115.1 136.1,114.4 137.9,113.4 139.7,112.8 141.7,113.2 143.8,113.7 145.8,113.5 147.5,112.4 149.2,110.8 150.9,109.6 152.8,109.3 154.9,109.7 157.4,110.8 155.1,110.3 153,110.6 151.1,111.7 149.2,113.3 147.3,114.3 145.1,114.5 142.8,113.8 140.6,113.4 138.5,113.9 136.5,114.8 134.5,115.5 132.4,115.6Z" fill="#e6cc78" stroke="none"/><path d="M132.3,115.4 134.2,115.1 136.1,114.4 137.9,113.4 139.7,112.8 141.7,113.2 143.8,113.7 145.8,113.5 147.5,112.4 149.2,110.8 150.9,109.6 152.8,109.3 154.9,109.7" stroke="#d8b036" stroke-width="0.48"/><path d="M132.3,115.5 134.5,115.2 136.6,114.5 138.7,113.5 140.8,112.9 143.1,113.2 145.4,113.7 147.6,113.5 149.6,112.4 151.6,110.8 153.5,109.5 155.7,109.2 158,109.6" stroke="#d8b036" stroke-width="0.48"/><path d="M132.3,115.6 134.3,115.4 136.1,114.7 137.9,113.8 139.8,113.3 141.8,113.7 143.9,114.4 145.9,114.3 147.6,113.2 149.3,111.7 151,110.5 152.9,110.3 155,110.8" stroke="#d8b036" stroke-width="0.48"/><path d="M132.4,115.6 134.5,115.5 136.5,114.8 138.5,113.9 140.6,113.4 142.8,113.8 145.1,114.5 147.3,114.3 149.2,113.3 151.1,111.7 153,110.6 155.1,110.3 157.4,110.8" stroke="#d8b036" stroke-width="0.48"/><path d="M125,117 126.9,117.4 128.9,118 130.8,118.3 132.8,118.5" stroke="#d8b036" stroke-width="0.6"/><path d="M132.8,118.4 135,118.5 137.2,119 139.4,119.7 141.6,120.4 143.8,120.5 146.2,119.8 148.5,118.9 150.8,118.2 153,117.8 155.2,118 157.4,118.5 159.6,119.2 157.8,121.1 155.7,120.3 153.7,119.6 151.6,119.3 149.5,119.5 147.3,120.2 145.1,120.9 143,121.4 140.9,121.2 138.8,120.5 136.8,119.6 134.8,119 132.8,118.7Z" fill="#dfc068" stroke="none"/><path d="M132.8,118.4 135,118.5 137.2,119 139.4,119.7 141.6,120.4 143.8,120.5 146.2,119.8 148.5,118.9 150.8,118.2 153,117.8 155.2,118 157.4,118.5 159.6,119.2" stroke="#d8b036" stroke-width="0.48"/><path d="M132.8,118.5 135.1,118.8 137.3,119.3 139.5,120.1 141.7,120.9 144.1,121 146.4,120.4 148.8,119.6 151.2,118.9 153.5,118.7 155.8,118.9 158.1,119.5 160.3,120.2" stroke="#d8b036" stroke-width="0.48"/><path d="M132.8,118.7 134.8,119 136.8,119.6 138.8,120.5 140.9,121.2 143,121.4 145.1,120.9 147.3,120.2 149.5,119.5 151.6,119.3 153.7,119.6 155.7,120.3 157.8,121.1" stroke="#d8b036" stroke-width="0.48"/><path d="M125,117 126.5,117.6 128,118.4 129.6,119 131.2,119.4" stroke="#d8b036" stroke-width="0.6"/><path d="M131.2,119.3 132.5,119.8 133.9,120.3 135.4,120.6 136.9,120.7 138.4,120.6 139.9,120.6 141.3,121 142.7,121.5 144,122.1 145.3,122.8 146.7,123.2 148.2,123.5 149.1,125.5 147.5,125.2 146,124.6 144.6,123.8 143.2,123 141.8,122.3 140.2,121.9 138.7,121.7 137,121.6 135.5,121.4 133.9,120.9 132.5,120.3 131.1,119.5Z" fill="#ead69a" stroke="none"/><path d="M131.2,119.3 132.5,119.8 133.9,120.3 135.4,120.6 136.9,120.7 138.4,120.6 139.9,120.6 141.3,121 142.7,121.5 144,122.1 145.3,122.8 146.7,123.2 148.2,123.5" stroke="#d8b036" stroke-width="0.48"/><path d="M131.2,119.3 132.6,120 134,120.6 135.5,120.9 137.1,121 138.8,121 140.3,121.2 141.8,121.5 143.3,122.1 144.7,122.8 146.1,123.5 147.6,124 149.1,124.3" stroke="#d8b036" stroke-width="0.48"/><path d="M131.1,119.4 132.4,120.1 133.6,120.6 135,121 136.4,121.1 137.8,121 139.2,121.2 140.5,121.6 141.8,122.1 143,122.9 144.2,123.6 145.5,124.1 146.8,124.4" stroke="#d8b036" stroke-width="0.48"/><path d="M131.1,119.5 132.5,120.3 133.9,120.9 135.5,121.4 137,121.6 138.7,121.7 140.2,121.9 141.8,122.3 143.2,123 144.6,123.8 146,124.6 147.5,125.2 149.1,125.5" stroke="#d8b036" stroke-width="0.48"/><path d="M125,117 126.3,116.4 127.5,115.6 128.8,114.9 130.1,114.4" stroke="#d8b036" stroke-width="0.6"/><path d="M130,114.2 131.5,113.3 132.9,112.3 134.3,111.3 135.9,110.7 137.7,110.3 139.2,109.5 140.5,108.3 141.6,106.7 142.6,105.1 143.8,103.8 145.2,102.9 146.8,102.2 147,104 145.4,104.6 144,105.4 142.8,106.6 141.7,108 140.6,109.5 139.3,110.6 137.8,111.2 136.1,111.5 134.4,112 133,112.8 131.6,113.7 130.1,114.5Z" fill="#ead69a" stroke="none"/><path d="M130,114.2 131.5,113.3 132.9,112.3 134.3,111.3 135.9,110.7 137.7,110.3 139.2,109.5 140.5,108.3 141.6,106.7 142.6,105.1 143.8,103.8 145.2,102.9 146.8,102.2" stroke="#d8b036" stroke-width="0.48"/><path d="M130.1,114.4 131.3,113.7 132.5,112.8 133.7,112 135.1,111.6 136.6,111.4 137.9,110.8 139,109.8 139.9,108.5 140.7,107.1 141.7,106 142.9,105.3 144.3,104.9" stroke="#d8b036" stroke-width="0.48"/><path d="M130.1,114.5 131.6,113.7 133,112.8 134.4,112 136.1,111.5 137.8,111.2 139.3,110.6 140.6,109.5 141.7,108 142.8,106.6 144,105.4 145.4,104.6 147,104" stroke="#d8b036" stroke-width="0.48"/><path d="M125,117 125.7,116 126.7,115.3 127.7,114.6 128.6,113.8" stroke="#d8b036" stroke-width="0.6"/><path d="M128.6,113.7 129.4,112.6 130.1,111.3 130.8,110 131.9,109.2 133.4,108.6 134.6,107.8 135.2,106.4 135.3,104.7 135.3,102.9 135.6,101.4 136.5,100.3 137.7,99.5 137.7,102.1 136.4,102.7 135.6,103.6 135.3,104.9 135.3,106.5 135.2,108.1 134.6,109.2 133.4,109.8 132,110.2 130.9,110.8 130.2,111.8 129.6,113 128.7,113.9Z" fill="#ead69a" stroke="none"/><path d="M128.6,113.7 129.4,112.6 130.1,111.3 130.8,110 131.9,109.2 133.4,108.6 134.6,107.8 135.2,106.4 135.3,104.7 135.3,102.9 135.6,101.4 136.5,100.3 137.7,99.5" stroke="#d8b036" stroke-width="0.48"/><path d="M128.6,113.8 129.4,112.9 129.9,111.7 130.6,110.7 131.6,110 133,109.7 134.1,109 134.7,107.9 134.7,106.4 134.6,104.8 134.8,103.5 135.6,102.6 136.9,102" stroke="#d8b036" stroke-width="0.48"/><path d="M128.7,113.9 129.6,113 130.2,111.8 130.9,110.8 132,110.2 133.4,109.8 134.6,109.2 135.2,108.1 135.3,106.5 135.3,104.9 135.6,103.6 136.4,102.7 137.7,102.1" stroke="#d8b036" stroke-width="0.48"/><path d="M125,117 125.5,116.1 125.7,115.1 126,114.2 126.4,113.3" stroke="#e2c060" stroke-width="0.6"/><path d="M126.3,113.3 126.5,112.2 126.8,111.1 127.4,110.2 128.3,109.5 129.1,108.7 129.2,107.5 128.8,106.2 128.5,104.9 128.7,103.8 129.4,103 130.5,102.3 131.4,101.5 133.4,100.4 132.4,101.3 131.2,102.1 130.3,103 130,104.2 130.2,105.6 130.4,107.1 130.2,108.3 129.2,109.2 128.1,110 127.3,111 126.9,112.2 126.5,113.4Z" fill="#e6cc78" stroke="none"/><path d="M126.3,113.3 126.5,112.2 126.8,111.1 127.4,110.2 128.3,109.5 129.1,108.7 129.2,107.5 128.8,106.2 128.5,104.9 128.7,103.8 129.4,103 130.5,102.3 131.4,101.5" stroke="#e2c060" stroke-width="0.48"/><path d="M126.4,113.3 126.7,112.2 127,111.2 127.7,110.3 128.7,109.5 129.6,108.7 129.7,107.5 129.4,106.2 129.1,104.9 129.3,103.8 130.1,103 131.3,102.2 132.2,101.4" stroke="#e2c060" stroke-width="0.48"/><path d="M126.5,113.4 126.9,112.2 127.3,111 128.1,110 129.2,109.2 130.2,108.3 130.4,107.1 130.2,105.6 130,104.2 130.3,103 131.2,102.1 132.4,101.3 133.4,100.4" stroke="#e2c060" stroke-width="0.48"/><path d="M125,117 126.3,117.6 127.6,118.3 128.7,119.2 129.8,120.2" stroke="#d8b036" stroke-width="0.6"/><path d="M129.9,120 131,120.7 132.2,121.2 133.5,121.6 134.9,121.8 136.1,122.4 137.1,123.3 138,124.3 139,125.3 140.1,126.1 141.3,126.5 142.8,126.6 144.3,126.6 145.1,129.4 143.5,129.2 142,128.9 140.6,128.2 139.4,127.3 138.4,126.1 137.4,124.9 136.3,123.7 135,123 133.6,122.5 132.2,122 130.9,121.2 129.7,120.3Z" fill="#ead69a" stroke="none"/><path d="M129.9,120 131,120.7 132.2,121.2 133.5,121.6 134.9,121.8 136.1,122.4 137.1,123.3 138,124.3 139,125.3 140.1,126.1 141.3,126.5 142.8,126.6 144.3,126.6" stroke="#d8b036" stroke-width="0.48"/><path d="M129.8,120.2 130.9,121 132.1,121.5 133.4,121.9 134.7,122.3 135.9,122.9 136.9,123.9 137.8,125 138.7,126.1 139.8,126.9 141.1,127.3 142.5,127.5 144,127.6" stroke="#d8b036" stroke-width="0.48"/><path d="M129.7,120.3 130.9,121.2 132.2,122 133.6,122.5 135,123 136.3,123.7 137.4,124.9 138.4,126.1 139.4,127.3 140.6,128.2 142,128.9 143.5,129.2 145.1,129.4" stroke="#d8b036" stroke-width="0.48"/><path d="M125,117 126,118.3 127.1,119.5 128.4,120.6 129.7,121.6" stroke="#d8b036" stroke-width="0.6"/><path d="M129.8,121.5 131,122.7 132.1,124 133.4,124.9 135.1,125.5 136.9,126.1 138.2,127.1 139.1,128.5 140,130 141.1,131.3 142.6,132 144.5,132.3 146.5,132.5 147.6,136 145.5,135.5 143.5,135 141.8,134 140.5,132.5 139.6,130.7 138.5,129 137.1,127.7 135.2,126.9 133.4,126 132,124.8 130.8,123.2 129.6,121.7Z" fill="#dfc068" stroke="none"/><path d="M129.8,121.5 131,122.7 132.1,124 133.4,124.9 135.1,125.5 136.9,126.1 138.2,127.1 139.1,128.5 140,130 141.1,131.3 142.6,132 144.5,132.3 146.5,132.5" stroke="#d8b036" stroke-width="0.48"/><path d="M129.8,121.6 130.9,122.9 132.1,124.3 133.6,125.4 135.3,126.1 137.1,126.8 138.5,127.9 139.5,129.5 140.5,131.1 141.7,132.5 143.3,133.3 145.3,133.7 147.4,134.1" stroke="#d8b036" stroke-width="0.48"/><path d="M129.7,121.6 130.7,122.9 131.7,124.2 133,125.2 134.6,125.9 136.3,126.5 137.5,127.5 138.3,129 139.1,130.6 140.2,131.9 141.6,132.7 143.4,133 145.3,133.3" stroke="#d8b036" stroke-width="0.48"/><path d="M129.6,121.7 130.8,123.2 132,124.8 133.4,126 135.2,126.9 137.1,127.7 138.5,129 139.6,130.7 140.5,132.5 141.8,134 143.5,135 145.5,135.5 147.6,136" stroke="#d8b036" stroke-width="0.48"/><path d="M125,117 125.9,118.1 126.8,119.3 127.5,120.5 128.1,121.8" stroke="#e2c060" stroke-width="0.6"/><path d="M128.2,121.8 129.1,122.7 130,123.8 130.6,125 131.1,126.3 131.7,127.4 133,128.2 134.5,128.7 135.9,129.3 136.8,130.2 137.5,131.4 138,132.7 138.8,133.8 138.3,136 137.5,134.8 137,133.3 136.3,131.9 135.4,130.8 134,130.1 132.5,129.4 131.3,128.5 130.6,127.1 130.2,125.6 129.7,124.3 128.8,123.1 128,121.9Z" fill="#ead69a" stroke="none"/><path d="M128.2,121.8 129.1,122.7 130,123.8 130.6,125 131.1,126.3 131.7,127.4 133,128.2 134.5,128.7 135.9,129.3 136.8,130.2 137.5,131.4 138,132.7 138.8,133.8" stroke="#e2c060" stroke-width="0.48"/><path d="M128.1,121.8 128.9,122.8 129.7,123.8 130.2,125 130.5,126.3 131.1,127.4 132.3,128.1 133.7,128.7 135,129.3 135.8,130.2 136.4,131.4 136.8,132.6 137.5,133.7" stroke="#e2c060" stroke-width="0.48"/><path d="M128,121.9 128.8,123.1 129.7,124.3 130.2,125.6 130.6,127.1 131.3,128.5 132.5,129.4 134,130.1 135.4,130.8 136.3,131.9 137,133.3 137.5,134.8 138.3,136" stroke="#e2c060" stroke-width="0.48"/><path d="M125,117 125.4,118.3 125.6,119.6 125.9,120.9 126.4,122.1" stroke="#d8b036" stroke-width="0.6"/><path d="M126.6,122 127,123.2 127.2,124.4 127.5,125.6 128.2,126.6 129.4,127.4 130.5,128.3 131,129.4 131.1,130.6 131,132 131.2,133.2 132,134.2 133.3,134.9 131.5,135.2 130.3,134.5 129.6,133.5 129.5,132.2 129.7,130.8 129.8,129.6 129.4,128.5 128.4,127.6 127.4,126.7 126.8,125.7 126.6,124.5 126.5,123.3 126.3,122.1Z" fill="#dfc068" stroke="none"/><path d="M126.6,122 127,123.2 127.2,124.4 127.5,125.6 128.2,126.6 129.4,127.4 130.5,128.3 131,129.4 131.1,130.6 131,132 131.2,133.2 132,134.2 133.3,134.9" stroke="#d8b036" stroke-width="0.48"/><path d="M126.5,122.1 126.9,123.3 127,124.6 127.3,125.8 128,126.9 129.2,127.8 130.3,128.7 130.8,129.8 130.8,131.2 130.8,132.6 131,133.9 131.7,134.9 133,135.7" stroke="#d8b036" stroke-width="0.48"/><path d="M126.4,122.1 126.7,123.4 126.9,124.8 127.2,126.2 127.9,127.4 129.1,128.4 130.2,129.4 130.7,130.7 130.8,132.1 130.7,133.7 130.9,135.1 131.7,136.2 133,137.1" stroke="#d8b036" stroke-width="0.48"/><path d="M126.3,122.1 126.5,123.3 126.6,124.5 126.8,125.7 127.4,126.7 128.4,127.6 129.4,128.5 129.8,129.6 129.7,130.8 129.5,132.2 129.6,133.5 130.3,134.5 131.5,135.2" stroke="#d8b036" stroke-width="0.48"/><path d="M125,117 125.3,118.1 125.4,119.2 125.3,120.3 125.2,121.4" stroke="#d8b036" stroke-width="0.6"/><path d="M125.3,121.4 125.6,122.5 126,123.6 126.3,124.7 126.1,125.8 125.3,126.9 124.7,128 124.6,129.1 125,130.2 125.7,131.4 126.2,132.5 126.3,133.7 125.7,134.8 124.1,135.4 124.8,134.3 124.8,133.1 124.4,131.9 123.8,130.7 123.5,129.6 123.7,128.4 124.5,127.3 125.3,126.1 125.7,124.9 125.5,123.7 125.2,122.6 125.1,121.4Z" fill="#ead69a" stroke="none"/><path d="M125.3,121.4 125.6,122.5 126,123.6 126.3,124.7 126.1,125.8 125.3,126.9 124.7,128 124.6,129.1 125,130.2 125.7,131.4 126.2,132.5 126.3,133.7 125.7,134.8" stroke="#d8b036" stroke-width="0.48"/><path d="M125.2,121.4 125.4,122.4 125.8,123.4 126,124.4 125.7,125.4 124.9,126.5 124.2,127.5 124.1,128.5 124.4,129.5 125.1,130.5 125.6,131.5 125.6,132.6 125,133.5" stroke="#d8b036" stroke-width="0.48"/><path d="M125.1,121.4 125.2,122.6 125.5,123.7 125.7,124.9 125.3,126.1 124.5,127.3 123.7,128.4 123.5,129.6 123.8,130.7 124.4,131.9 124.8,133.1 124.8,134.3 124.1,135.4" stroke="#d8b036" stroke-width="0.48"/><path d="M125,117 124.4,118.2 123.6,119.3 122.7,120.2 121.8,121.2" stroke="#a8a8a8" stroke-width="0.6"/><path d="M121.9,121.3 121.4,122.6 120.5,123.7 119.3,124.6 118,125.4 117.1,126.4 116.7,127.8 116.6,129.5 116.4,131.1 115.9,132.5 115,133.6 113.7,134.4 112.2,134.9 111.3,132 112.9,131.7 114.2,131.2 115.1,130.3 115.6,129.1 115.8,127.7 116,126.2 116.4,125 117.4,124.2 118.8,123.6 120,123 121,122.1 121.6,121.1Z" fill="#dedede" stroke="none"/><path d="M121.9,121.3 121.4,122.6 120.5,123.7 119.3,124.6 118,125.4 117.1,126.4 116.7,127.8 116.6,129.5 116.4,131.1 115.9,132.5 115,133.6 113.7,134.4 112.2,134.9" stroke="#a8a8a8" stroke-width="0.48"/><path d="M121.8,121.2 121.2,122.5 120.2,123.6 118.9,124.5 117.6,125.3 116.5,126.4 116.1,127.8 115.9,129.5 115.6,131.1 115.1,132.6 114.1,133.7 112.7,134.4 111,135" stroke="#a8a8a8" stroke-width="0.48"/><path d="M121.7,121.2 121.1,122.3 120.2,123.2 119,123.9 117.7,124.6 116.7,125.4 116.3,126.8 116.1,128.2 115.9,129.7 115.4,131 114.5,131.9 113.2,132.5 111.6,132.9" stroke="#a8a8a8" stroke-width="0.48"/><path d="M121.6,121.1 121,122.1 120,123 118.8,123.6 117.4,124.2 116.4,125 116,126.2 115.8,127.7 115.6,129.1 115.1,130.3 114.2,131.2 112.9,131.7 111.3,132" stroke="#a8a8a8" stroke-width="0.48"/><path d="M125,117 124,118.2 122.7,119.1 121.4,119.9 120.2,120.9" stroke="#d8b036" stroke-width="0.6"/><path d="M120.3,121 119.4,122.2 118.2,123 116.7,123.7 115.5,124.4 114.7,125.8 114.3,127.5 113.8,129.2 112.8,130.3 111.4,130.9 109.7,131.2 108.1,131.7 107,132.7 104.4,132.4 105.7,131.4 107.4,130.9 109.3,130.6 111,130 112.1,128.9 112.8,127.2 113.4,125.4 114.4,124.1 115.9,123.4 117.5,122.8 119,121.9 120.1,120.8Z" fill="#ead69a" stroke="none"/><path d="M120.3,121 119.4,122.2 118.2,123 116.7,123.7 115.5,124.4 114.7,125.8 114.3,127.5 113.8,129.2 112.8,130.3 111.4,130.9 109.7,131.2 108.1,131.7 107,132.7" stroke="#d8b036" stroke-width="0.48"/><path d="M120.3,120.9 119.2,122.1 117.9,123 116.4,123.6 115,124.4 114.1,125.8 113.6,127.6 113,129.3 112,130.4 110.4,131.1 108.6,131.4 107,131.9 105.8,132.9" stroke="#d8b036" stroke-width="0.48"/><path d="M120.2,120.9 119.1,122 117.7,122.9 116.1,123.5 114.7,124.3 113.7,125.6 113.2,127.4 112.6,129.1 111.5,130.2 109.9,130.8 108,131.2 106.3,131.7 105.1,132.7" stroke="#d8b036" stroke-width="0.48"/><path d="M120.1,120.8 119,121.9 117.5,122.8 115.9,123.4 114.4,124.1 113.4,125.4 112.8,127.2 112.1,128.9 111,130 109.3,130.6 107.4,130.9 105.7,131.4 104.4,132.4" stroke="#d8b036" stroke-width="0.48"/><path d="M125,117 123.1,117.9 121.4,119.1 119.7,120.4 118,121.6" stroke="#d8b036" stroke-width="0.6"/><path d="M118.1,121.8 116.4,122.9 114.5,123.7 112.6,124.4 110.9,125.4 109.4,126.9 107.9,128.5 106.2,129.6 104.3,130.2 102.1,130.4 99.8,130.3 97.7,130.6 95.8,131.2 93.5,130 95.6,129.4 97.9,129.3 100.3,129.4 102.6,129.4 104.8,128.9 106.7,127.8 108.3,126.3 110,124.9 111.9,123.9 114,123.2 116.1,122.5 118,121.5Z" fill="#dfc068" stroke="none"/><path d="M118.1,121.8 116.4,122.9 114.5,123.7 112.6,124.4 110.9,125.4 109.4,126.9 107.9,128.5 106.2,129.6 104.3,130.2 102.1,130.4 99.8,130.3 97.7,130.6 95.8,131.2" stroke="#d8b036" stroke-width="0.48"/><path d="M118.1,121.7 116.1,122.9 113.9,123.8 111.8,124.6 109.8,125.7 108,127.3 106.2,128.9 104.3,130.2 102,130.8 99.5,131 97,131 94.5,131.3 92.4,132" stroke="#d8b036" stroke-width="0.48"/><path d="M118,121.6 116,122.8 113.8,123.6 111.5,124.4 109.5,125.5 107.6,127.1 105.8,128.7 103.8,129.9 101.5,130.5 98.9,130.7 96.3,130.7 93.9,130.9 91.6,131.6" stroke="#d8b036" stroke-width="0.48"/><path d="M118,121.5 116.1,122.5 114,123.2 111.9,123.9 110,124.9 108.3,126.3 106.7,127.8 104.8,128.9 102.6,129.4 100.3,129.4 97.9,129.3 95.6,129.4 93.5,130" stroke="#d8b036" stroke-width="0.48"/><path d="M125,117 123.5,117.9 121.8,118.5 120.1,119 118.4,119.4" stroke="#d8b036" stroke-width="0.6"/><path d="M118.4,119.6 116.7,120.2 115.2,121.3 113.9,122.6 112.5,123.9 110.8,124.6 108.9,124.7 106.9,124.9 105.3,125.7 104,127.1 102.9,129 102,131 100.9,132.5 98.6,131.5 99.9,130 101.1,128 102.2,126.2 103.7,124.8 105.6,124.1 107.7,123.9 109.8,123.9 111.6,123.3 113.2,122.1 114.8,120.8 116.5,119.8 118.3,119.3Z" fill="#dfc068" stroke="none"/><path d="M118.4,119.6 116.7,120.2 115.2,121.3 113.9,122.6 112.5,123.9 110.8,124.6 108.9,124.7 106.9,124.9 105.3,125.7 104,127.1 102.9,129 102,131 100.9,132.5" stroke="#d8b036" stroke-width="0.48"/><path d="M118.4,119.5 116.4,120.2 114.6,121.3 113,122.7 111.3,124.1 109.4,124.9 107.2,125.1 105,125.4 103.1,126.2 101.5,127.8 100.3,129.8 99.1,131.9 97.7,133.6" stroke="#d8b036" stroke-width="0.48"/><path d="M118.4,119.4 116.6,119.9 115.1,120.8 113.7,122.1 112.3,123.3 110.6,123.9 108.7,123.9 106.7,124 105,124.7 103.7,126 102.6,127.8 101.6,129.7 100.5,131.2" stroke="#d8b036" stroke-width="0.48"/><path d="M118.3,119.3 116.5,119.8 114.8,120.8 113.2,122.1 111.6,123.3 109.8,123.9 107.7,123.9 105.6,124.1 103.7,124.8 102.2,126.2 101.1,128 99.9,130 98.6,131.5" stroke="#d8b036" stroke-width="0.48"/><path d="M125,117 123.6,117.1 122.2,117.4 120.8,117.9 119.4,118.3" stroke="#e2c060" stroke-width="0.6"/><path d="M119.4,118.4 117.8,118.7 116.1,118.8 114.5,119.1 112.9,119.9 111.4,120.8 109.7,121 107.9,120.6 106.2,120.1 104.5,120.1 102.9,120.8 101.3,121.8 99.7,122.4 99.2,120.7 100.9,120.2 102.5,119.3 104.1,118.7 105.8,118.9 107.6,119.5 109.4,120 111.1,119.9 112.7,119.1 114.3,118.4 116,118.2 117.7,118.3 119.4,118.1Z" fill="#ead69a" stroke="none"/><path d="M119.4,118.4 117.8,118.7 116.1,118.8 114.5,119.1 112.9,119.9 111.4,120.8 109.7,121 107.9,120.6 106.2,120.1 104.5,120.1 102.9,120.8 101.3,121.8 99.7,122.4" stroke="#e2c060" stroke-width="0.48"/><path d="M119.4,118.3 118,118.4 116.5,118.4 115.1,118.6 113.8,119.3 112.5,120.2 111,120.3 109.5,119.8 108,119.2 106.5,119.1 105.2,119.7 103.9,120.6 102.5,121.2" stroke="#e2c060" stroke-width="0.48"/><path d="M119.4,118.1 117.7,118.3 116,118.2 114.3,118.4 112.7,119.1 111.1,119.9 109.4,120 107.6,119.5 105.8,118.9 104.1,118.7 102.5,119.3 100.9,120.2 99.2,120.7" stroke="#e2c060" stroke-width="0.48"/><path d="M125,117 121.6,116.7 118.1,116.5 114.7,116.3 111.2,116.1 107.8,116 104.3,115.8" stroke="#a8a8a8" stroke-width="0.6"/><path d="M104.3,115.8 101.9,115.7 99.4,115.5 96.9,115.5 94.4,115.8 92,116.2 89.5,116.4 87,116.4 84.6,116.2 82.1,116 79.6,115.9" stroke="#a8a8a8" stroke-width="0.6"/><path d="M89.5,116.4 88,115.2 86.5,114 85.3,112.5 84.2,110.9 82.8,109.6" stroke="#a8a8a8" stroke-width="0.54"/><path d="M125,117 123.8,117.2 122.6,117.4 121.4,117.3 120.2,117.1" stroke="#a8a8a8" stroke-width="0.6"/><path d="M120.2,117.3 119.1,117.4 117.9,117.3 116.8,117 115.7,116.9 114.6,117.1 113.4,117.7 112.3,118.2 111.1,118.4 110,118.1 108.9,117.4 107.9,116.6 106.8,115.8 106,113.2 107.1,114.1 108.2,115.2 109.3,116 110.5,116.5 111.7,116.5 112.9,116.2 114.1,115.8 115.3,115.7 116.5,116 117.7,116.5 118.9,116.8 120.2,116.9Z" fill="#d0d0d0" stroke="none"/><path d="M120.2,117.3 119.1,117.4 117.9,117.3 116.8,117 115.7,116.9 114.6,117.1 113.4,117.7 112.3,118.2 111.1,118.4 110,118.1 108.9,117.4 107.9,116.6 106.8,115.8" stroke="#a8a8a8" stroke-width="0.48"/><path d="M120.2,117.2 119,117.2 117.8,117 116.6,116.6 115.5,116.5 114.3,116.7 113.1,117.2 111.9,117.6 110.6,117.7 109.5,117.4 108.3,116.6 107.2,115.7 106.2,114.9" stroke="#a8a8a8" stroke-width="0.48"/><path d="M120.2,117.1 118.9,117 117.7,116.7 116.5,116.3 115.3,116.1 114.1,116.2 112.9,116.7 111.6,117 110.4,117.1 109.2,116.7 108.1,115.9 106.9,114.9 105.8,114" stroke="#a8a8a8" stroke-width="0.48"/><path d="M120.2,116.9 118.9,116.8 117.7,116.5 116.5,116 115.3,115.7 114.1,115.8 112.9,116.2 111.7,116.5 110.5,116.5 109.3,116 108.2,115.2 107.1,114.1 106,113.2" stroke="#a8a8a8" stroke-width="0.48"/><path d="M125,117 123.8,116.9 122.6,116.6 121.5,116.2 120.4,115.6" stroke="#a8a8a8" stroke-width="0.6"/><path d="M120.3,115.8 119,115.9 117.7,115.9 116.4,115.7 115.3,115 114.2,114.1 113,113.6 111.6,113.6 110.2,114.2 108.8,115.1 107.4,115.8 106.1,116.1 104.9,115.9 103.3,113.1 104.7,113.6 106.2,113.4 107.7,112.9 109.3,112.2 110.9,111.8 112.3,111.9 113.7,112.6 114.9,113.8 116.2,114.6 117.5,115.1 119,115.2 120.4,115.4Z" fill="#d6d6d6" stroke="none"/><path d="M120.3,115.8 119,115.9 117.7,115.9 116.4,115.7 115.3,115 114.2,114.1 113,113.6 111.6,113.6 110.2,114.2 108.8,115.1 107.4,115.8 106.1,116.1 104.9,115.9" stroke="#a8a8a8" stroke-width="0.48"/><path d="M120.4,115.6 119,115.6 117.7,115.5 116.4,115.2 115.3,114.4 114.1,113.4 112.9,112.8 111.6,112.7 110.2,113.3 108.7,114 107.3,114.7 105.9,114.9 104.7,114.6" stroke="#a8a8a8" stroke-width="0.48"/><path d="M120.4,115.4 119,115.2 117.5,115.1 116.2,114.6 114.9,113.8 113.7,112.6 112.3,111.9 110.9,111.8 109.3,112.2 107.7,112.9 106.2,113.4 104.7,113.6 103.3,113.1" stroke="#a8a8a8" stroke-width="0.48"/><path d="M125,117 123.7,116.3 122.6,115.4 121.4,114.6 120.2,113.9" stroke="#a8a8a8" stroke-width="0.6"/><path d="M120.1,114.1 118.7,113.6 117.2,113.3 115.8,112.9 114.6,112 113.7,110.8 112.7,109.6 111.5,108.9 109.9,108.7 108.2,108.9 106.5,109.1 105,109 103.7,108.2 105.5,106.3 106.7,107.2 108,107.5 109.6,107.4 111.2,107.3 112.6,107.6 113.8,108.4 114.6,109.7 115.4,111.1 116.5,112.1 117.7,112.7 119.1,113.1 120.3,113.8Z" fill="#e4e4e4" stroke="none"/><path d="M120.1,114.1 118.7,113.6 117.2,113.3 115.8,112.9 114.6,112 113.7,110.8 112.7,109.6 111.5,108.9 109.9,108.7 108.2,108.9 106.5,109.1 105,109 103.7,108.2" stroke="#a8a8a8" stroke-width="0.48"/><path d="M120.2,113.9 118.7,113.3 117.2,112.8 115.7,112.2 114.4,111.3 113.4,109.8 112.3,108.5 111,107.7 109.4,107.4 107.5,107.5 105.7,107.5 104.1,107.2 102.8,106.4" stroke="#a8a8a8" stroke-width="0.48"/><path d="M120.3,113.8 119.1,113.1 117.7,112.7 116.5,112.1 115.4,111.1 114.6,109.7 113.8,108.4 112.6,107.6 111.2,107.3 109.6,107.4 108,107.5 106.7,107.2 105.5,106.3" stroke="#a8a8a8" stroke-width="0.48"/><path d="M125,117 124.1,116 123.1,115.2 122,114.4 121.1,113.5" stroke="#a8a8a8" stroke-width="0.6"/><path d="M120.9,113.6 120,113 118.9,112.4 117.9,111.8 117.1,111 116.7,109.9 116.4,108.6 115.9,107.5 115.2,106.7 114.2,106.1 112.9,105.7 111.7,105.2 110.6,104.6 112.2,102.6 113.2,103.4 114.3,103.9 115.4,104.5 116.3,105.2 117,106.2 117.3,107.4 117.5,108.8 117.8,110.1 118.5,111.1 119.4,111.8 120.4,112.5 121.2,113.3Z" fill="#d6d6d6" stroke="none"/><path d="M120.9,113.6 120,113 118.9,112.4 117.9,111.8 117.1,111 116.7,109.9 116.4,108.6 115.9,107.5 115.2,106.7 114.2,106.1 112.9,105.7 111.7,105.2 110.6,104.6" stroke="#a8a8a8" stroke-width="0.48"/><path d="M121,113.5 120,112.7 118.9,112.1 117.9,111.4 117.1,110.4 116.6,109.2 116.2,107.8 115.8,106.5 115,105.6 113.9,104.8 112.7,104.3 111.4,103.7 110.4,103" stroke="#a8a8a8" stroke-width="0.48"/><path d="M121.1,113.4 120.2,112.6 119.2,111.9 118.2,111.2 117.5,110.3 117,109 116.8,107.6 116.4,106.4 115.7,105.4 114.7,104.7 113.5,104.1 112.3,103.6 111.3,102.8" stroke="#a8a8a8" stroke-width="0.48"/><path d="M121.2,113.3 120.4,112.5 119.4,111.8 118.5,111.1 117.8,110.1 117.5,108.8 117.3,107.4 117,106.2 116.3,105.2 115.4,104.5 114.3,103.9 113.2,103.4 112.2,102.6" stroke="#a8a8a8" stroke-width="0.48"/><path d="M125,117 124.6,116 124.2,114.9 123.5,114 122.8,113.2" stroke="#a8a8a8" stroke-width="0.6"/><path d="M122.6,113.3 121.9,112.5 121.4,111.6 121.1,110.6 121,109.5 120.8,108.5 120.2,107.7 119.4,107 118.4,106.3 117.5,105.6 116.9,104.7 116.7,103.7 116.8,102.6 118.1,100.7 118,102 118.1,103.1 118.6,104.1 119.4,105 120.3,105.8 121,106.6 121.6,107.6 121.7,108.8 121.7,110 121.9,111.2 122.3,112.2 122.9,113.1Z" fill="#d0d0d0" stroke="none"/><path d="M122.6,113.3 121.9,112.5 121.4,111.6 121.1,110.6 121,109.5 120.8,108.5 120.2,107.7 119.4,107 118.4,106.3 117.5,105.6 116.9,104.7 116.7,103.7 116.8,102.6" stroke="#a8a8a8" stroke-width="0.48"/><path d="M122.7,113.2 122,112.3 121.4,111.2 121.1,110 121,108.8 120.7,107.6 120.1,106.5 119.2,105.7 118.2,104.8 117.3,103.9 116.7,102.9 116.5,101.7 116.5,100.3" stroke="#a8a8a8" stroke-width="0.48"/><path d="M122.8,113.2 122.2,112.3 121.8,111.4 121.6,110.3 121.5,109.1 121.4,108.1 120.9,107.2 120.1,106.4 119.2,105.7 118.4,104.9 117.9,104 117.7,102.9 117.8,101.7" stroke="#a8a8a8" stroke-width="0.48"/><path d="M122.9,113.1 122.3,112.2 121.9,111.2 121.7,110 121.7,108.8 121.6,107.6 121,106.6 120.3,105.8 119.4,105 118.6,104.1 118.1,103.1 118,102 118.1,100.7" stroke="#a8a8a8" stroke-width="0.48"/><path d="M125,117 124.7,115.7 124.8,114.4 124.7,113 124.5,111.7" stroke="#949494" stroke-width="0.6"/><path d="M124.3,111.8 123.8,110.4 123.5,108.9 123.5,107.4 123.7,105.9 123.8,104.4 123.3,103 122.5,101.6 121.5,100.2 120.6,98.9 120.2,97.4 120.1,96 120.5,94.4 123.3,93.3 122.8,94.9 122.7,96.5 122.9,98 123.6,99.5 124.4,100.9 125.1,102.4 125.4,103.9 125.1,105.5 124.6,107.1 124.4,108.7 124.5,110.2 124.8,111.7Z" fill="#d0d0d0" stroke="none"/><path d="M124.3,111.8 123.8,110.4 123.5,108.9 123.5,107.4 123.7,105.9 123.8,104.4 123.3,103 122.5,101.6 121.5,100.2 120.6,98.9 120.2,97.4 120.1,96 120.5,94.4" stroke="#949494" stroke-width="0.48"/><path d="M124.5,111.7 124.1,110.3 123.9,108.9 124.1,107.4 124.4,105.8 124.6,104.3 124.3,102.9 123.5,101.5 122.6,100.2 121.8,98.8 121.5,97.4 121.5,95.9 122,94.4" stroke="#949494" stroke-width="0.48"/><path d="M124.8,111.7 124.5,110.2 124.4,108.7 124.6,107.1 125.1,105.5 125.4,103.9 125.1,102.4 124.4,100.9 123.6,99.5 122.9,98 122.7,96.5 122.8,94.9 123.3,93.3" stroke="#949494" stroke-width="0.48"/><path d="M125,117 125,116 125.2,115 125.6,114.1 125.9,113.1" stroke="#d8b036" stroke-width="0.6"/><path d="M125.8,113.1 126.1,112.2 126.1,111.1 125.7,110 125.1,108.9 125,107.9 125.7,107 126.8,106.1 127.6,105.2 127.9,104.2 127.5,103.1 126.7,102 125.8,100.9 127.1,103 127.9,104 128.6,104.9 128.9,105.8 128.5,106.6 127.6,107.4 126.5,108.1 125.7,108.8 125.7,109.7 126.2,110.6 126.6,111.5 126.5,112.4 126,113.2Z" fill="#ead69a" stroke="none"/><path d="M125.8,113.1 126.1,112.2 126.1,111.1 125.7,110 125.1,108.9 125,107.9 125.7,107 126.8,106.1 127.6,105.2 127.9,104.2 127.5,103.1 126.7,102 125.8,100.9" stroke="#d8b036" stroke-width="0.48"/><path d="M125.9,113.1 126.3,112.2 126.4,111.3 126,110.3 125.5,109.2 125.4,108.3 126.1,107.4 127.2,106.6 128.1,105.8 128.4,104.9 128.1,103.9 127.3,102.8 126.5,101.7" stroke="#d8b036" stroke-width="0.48"/><path d="M126,113.2 126.5,112.4 126.6,111.5 126.2,110.6 125.7,109.7 125.7,108.8 126.5,108.1 127.6,107.4 128.5,106.6 128.9,105.8 128.6,104.9 127.9,104 127.1,103" stroke="#d8b036" stroke-width="0.48"/><path d="M125,117 125.4,115.9 126,115 126.7,114.2 127.4,113.3" stroke="#d8b036" stroke-width="0.6"/><path d="M127.3,113.3 127.8,112 128.1,110.7 128.6,109.5 129.6,108.6 131,107.9 132.1,107.1 132.5,105.8 132.4,104.3 132.3,102.7 132.6,101.3 133.5,100.4 135,99.8 135.4,102 133.9,102.4 133,103.2 132.6,104.4 132.8,105.8 132.9,107.2 132.4,108.3 131.3,108.9 129.9,109.4 128.9,110.2 128.4,111.2 128,112.3 127.5,113.4Z" fill="#e6cc78" stroke="none"/><path d="M127.3,113.3 127.8,112 128.1,110.7 128.6,109.5 129.6,108.6 131,107.9 132.1,107.1 132.5,105.8 132.4,104.3 132.3,102.7 132.6,101.3 133.5,100.4 135,99.8" stroke="#d8b036" stroke-width="0.48"/><path d="M127.4,113.3 127.9,112.2 128.1,111 128.6,109.9 129.6,109.1 131,108.5 132,107.8 132.4,106.6 132.3,105.2 132.1,103.7 132.4,102.4 133.3,101.6 134.8,101.1" stroke="#d8b036" stroke-width="0.48"/><path d="M127.5,113.3 128,112.2 128.3,110.9 128.9,109.8 129.9,108.9 131.4,108.3 132.5,107.6 133,106.4 132.9,104.9 132.8,103.3 133.1,102.1 134.1,101.2 135.6,100.6" stroke="#d8b036" stroke-width="0.48"/><path d="M127.5,113.4 128,112.3 128.4,111.2 128.9,110.2 129.9,109.4 131.3,108.9 132.4,108.3 132.9,107.2 132.8,105.8 132.6,104.4 133,103.2 133.9,102.4 135.4,102" stroke="#d8b036" stroke-width="0.48"/><path d="M125,117 125.9,116.2 126.7,115.2 127.6,114.4 128.6,113.8" stroke="#d8b036" stroke-width="0.6"/><path d="M128.5,113.7 129.7,112.9 130.8,112.1 131.6,111 132.3,109.7 133,108.4 134.1,107.6 135.6,107.2 137.2,107.1 138.6,106.7 139.8,106 140.6,104.9 141.3,103.5 142.4,104.5 141.7,105.8 140.8,106.9 139.5,107.6 138,107.8 136.3,107.9 134.8,108.2 133.6,108.9 132.8,110.2 132.1,111.5 131.1,112.5 129.9,113.2 128.7,113.9Z" fill="#e6cc78" stroke="none"/><path d="M128.5,113.7 129.7,112.9 130.8,112.1 131.6,111 132.3,109.7 133,108.4 134.1,107.6 135.6,107.2 137.2,107.1 138.6,106.7 139.8,106 140.6,104.9 141.3,103.5" stroke="#d8b036" stroke-width="0.48"/><path d="M128.6,113.7 129.7,113.1 130.8,112.3 131.7,111.3 132.3,110 133,108.7 134.1,108 135.5,107.7 137.1,107.6 138.5,107.3 139.7,106.6 140.5,105.5 141.1,104.2" stroke="#d8b036" stroke-width="0.48"/><path d="M128.6,113.8 129.8,113.2 130.8,112.5 131.7,111.5 132.3,110.3 133,109.1 134.1,108.4 135.5,108.2 137,108.1 138.4,107.9 139.6,107.3 140.4,106.2 141,104.9" stroke="#d8b036" stroke-width="0.48"/><path d="M128.7,113.9 129.9,113.2 131.1,112.5 132.1,111.5 132.8,110.2 133.6,108.9 134.8,108.2 136.3,107.9 138,107.8 139.5,107.6 140.8,106.9 141.7,105.8 142.4,104.5" stroke="#d8b036" stroke-width="0.48"/><path d="M125,117 126.4,116.7 127.7,116.1 129,115.4 130.3,114.8" stroke="#e2c060" stroke-width="0.6"/><path d="M130.2,114.7 131.7,114.1 133.1,113.3 134.4,112.3 135.7,111.4 137.1,110.7 138.7,110.4 140.3,110 141.8,109.4 143,108.5 144.2,107.2 145.2,105.7 146.2,104.3 146,106.2 145,107.4 144,108.8 142.9,109.9 141.6,110.8 140.1,111.2 138.6,111.4 137,111.6 135.6,112.1 134.4,113 133.1,113.8 131.8,114.5 130.3,114.9Z" fill="#e6cc78" stroke="none"/><path d="M130.2,114.7 131.7,114.1 133.1,113.3 134.4,112.3 135.7,111.4 137.1,110.7 138.7,110.4 140.3,110 141.8,109.4 143,108.5 144.2,107.2 145.2,105.7 146.2,104.3" stroke="#e2c060" stroke-width="0.48"/><path d="M130.3,114.8 131.8,114.3 133.2,113.5 134.6,112.6 135.9,111.6 137.4,111 139,110.7 140.7,110.4 142.2,109.9 143.5,108.9 144.7,107.6 145.7,106.2 146.8,104.8" stroke="#e2c060" stroke-width="0.48"/><path d="M130.3,114.9 131.8,114.5 133.1,113.8 134.4,113 135.6,112.1 137,111.6 138.6,111.4 140.1,111.2 141.6,110.8 142.9,109.9 144,108.8 145,107.4 146,106.2" stroke="#e2c060" stroke-width="0.48"/><path d="M118.5,122.7 117.3,124.4 116.1,126.3 115.5,128.5 115.4,130.4 115.1,131.9 114,133.2 112.2,134.6 110.2,136.3 108.8,138.6 108.3,140.9 108.2,142.9 107.8,145 112,145.5 112.1,143.4 112.1,141 112.3,139.3 113.1,138.1 114.3,137 115.9,135.4 117.3,133.4 117.8,130.9 117.7,128.5 117.9,126.7 118.7,125.1 119.5,123.3Z" fill="#9a9a9a" stroke="#888" stroke-width="0.3"/><path d="M121.4,120.8 120.8,121.8 120.3,123.2 120.5,124.7 121,125.6 121.3,126 121,126.6 119.8,127.4 118.3,128.8 117.7,130.8 118.1,132.3 118.6,133.4 119,134.6 122.2,133.3 121.7,132.2 120.8,130.7 120.6,130 120.9,130 121.5,129.5 122.5,128.5 123.3,127.1 123.2,125.2 122.2,123.7 122.1,122.9 122.3,122.3 122.6,121.2Z" fill="#9a9a9a" stroke="#888" stroke-width="0.3"/><path d="M115.9,118.4 114.8,118.6 113.4,119 112.5,120.1 112.1,121 112.1,121.4 111.4,121.5 110.1,121.1 108.2,120.7 106.4,121.4 105.6,122.6 105.1,123.7 104.5,124.7 107.1,126.1 107.7,125 108.1,123.5 108.6,122.9 108.8,123.1 109.5,123.4 110.8,123.7 112.3,123.5 113.6,122.2 114.2,120.7 114.6,120.1 115.2,119.9 116.1,119.6Z" fill="#9a9a9a" stroke="#888" stroke-width="0.3"/><path d="M72,37 Q98,16 150,20" stroke="#b8b8b8" stroke-width="0.6"/><path d="M70,39 Q100,30 119,37" stroke="#d0b050" stroke-width="0.6"/><path d="M120,38 116.4,38.1 112.8,38 109.2,37.9 105.6,37.8 102,37.8 98.4,37.8" stroke="#a8a8a8" stroke-width="0.55"/><path d="M98.4,37.8 95.9,38 93.4,38.3 90.9,38.6 88.4,38.6 85.8,38.3 83.3,38 80.8,37.5 78.3,37 75.8,36.6 73.3,36.2" stroke="#a8a8a8" stroke-width="0.55"/><path d="M83.3,38 81.4,36.9 79.5,35.7 77.5,34.9 75.4,34.2 73.3,33.4" stroke="#a8a8a8" stroke-width="0.49500000000000005"/><path d="M120,38 116,37.4 112,37.1 108,37 103.9,36.8" stroke="#d8b036" stroke-width="0.55"/><path d="M103.9,37.2 101.8,37.1 99.6,37 97.4,37.1 95.2,37.7 93,38.2 90.9,38.1 88.8,37.6 86.6,37.1 84.5,36.8 82.3,37 80.1,37.6 77.9,38.3 78.2,33.3 80.4,33 82.6,32.6 84.8,32.7 86.9,33.4 89,34.3 91.1,35.1 93.2,35.5 95.4,35.3 97.6,35.2 99.7,35.4 101.9,35.9 104,36.5Z" fill="#ead69a" stroke="none"/><path d="M103.9,37.2 101.8,37.1 99.6,37 97.4,37.1 95.2,37.7 93,38.2 90.9,38.1 88.8,37.6 86.6,37.1 84.5,36.8 82.3,37 80.1,37.6 77.9,38.3" stroke="#d8b036" stroke-width="0.44000000000000006"/><path d="M103.9,37.1 101.8,36.9 99.6,36.7 97.4,36.8 95.2,37.2 93,37.6 90.8,37.5 88.7,37 86.6,36.3 84.4,36 82.3,36.1 80.1,36.7 77.8,37.3" stroke="#d8b036" stroke-width="0.44000000000000006"/><path d="M103.9,36.9 102.1,36.7 100.2,36.4 98.3,36.4 96.4,36.8 94.5,37.2 92.6,37 90.7,36.4 88.9,35.7 87,35.3 85.1,35.4 83.2,35.9 81.3,36.5" stroke="#d8b036" stroke-width="0.44000000000000006"/><path d="M103.9,36.8 102.1,36.4 100.2,36.1 98.3,36 96.4,36.3 94.5,36.7 92.6,36.4 90.7,35.8 88.9,35 87,34.5 85.1,34.5 83.2,35 81.3,35.5" stroke="#d8b036" stroke-width="0.44000000000000006"/><path d="M104,36.6 101.9,36.2 99.8,35.7 97.7,35.6 95.5,35.8 93.4,36 91.3,35.7 89.2,35 87.1,34.1 85,33.6 82.9,33.5 80.8,33.9 78.6,34.4" stroke="#d8b036" stroke-width="0.44000000000000006"/><path d="M104,36.5 101.9,35.9 99.7,35.4 97.6,35.2 95.4,35.3 93.2,35.5 91.1,35.1 89,34.3 86.9,33.4 84.8,32.7 82.6,32.6 80.4,33 78.2,33.3" stroke="#d8b036" stroke-width="0.44000000000000006"/><path d="M120,38 116.3,38.3 112.7,38.7 109,39.1 105.4,39.2" stroke="#d8b036" stroke-width="0.55"/><path d="M105.4,39.5 103.6,39.8 101.9,39.9 100.2,39.9 98.4,40.1 96.7,40.6 94.9,40.9 93.1,40.8 91.4,40.4 89.7,39.8 87.9,39.5 86.2,39.6 84.4,39.8 85.8,35.9 87.4,35.9 89,36.1 90.6,36.7 92.2,37.4 93.8,38.1 95.5,38.5 97.1,38.4 98.7,38.2 100.4,38.3 102,38.6 103.7,38.9 105.3,38.9Z" fill="#dfc068" stroke="none"/><path d="M105.4,39.5 103.6,39.8 101.9,39.9 100.2,39.9 98.4,40.1 96.7,40.6 94.9,40.9 93.1,40.8 91.4,40.4 89.7,39.8 87.9,39.5 86.2,39.6 84.4,39.8" stroke="#d8b036" stroke-width="0.44000000000000006"/><path d="M105.4,39.4 103.6,39.6 101.8,39.6 100,39.6 98.2,39.7 96.5,40.1 94.7,40.4 92.9,40.3 91.1,39.8 89.3,39.2 87.6,38.8 85.8,38.8 84,38.9" stroke="#d8b036" stroke-width="0.44000000000000006"/><path d="M105.4,39.3 103.7,39.4 102.1,39.3 100.5,39.2 98.9,39.3 97.3,39.7 95.7,39.9 94,39.7 92.4,39.2 90.8,38.6 89.2,38.2 87.6,38.2 86,38.3" stroke="#d8b036" stroke-width="0.44000000000000006"/><path d="M105.3,39.2 103.6,39.2 101.8,39.1 100.1,38.9 98.3,39 96.6,39.3 94.8,39.4 93.1,39.2 91.3,38.6 89.6,37.9 87.9,37.4 86.1,37.3 84.4,37.3" stroke="#d8b036" stroke-width="0.44000000000000006"/><path d="M105.3,39.1 103.4,39.1 101.5,38.9 99.6,38.6 97.6,38.6 95.7,38.8 93.8,38.9 91.9,38.6 90,38 88.1,37.2 86.2,36.6 84.3,36.4 82.4,36.4" stroke="#d8b036" stroke-width="0.44000000000000006"/><path d="M105.3,38.9 103.7,38.9 102,38.6 100.4,38.3 98.7,38.2 97.1,38.4 95.5,38.5 93.8,38.1 92.2,37.4 90.6,36.7 89,36.1 87.4,35.9 85.8,35.9" stroke="#d8b036" stroke-width="0.44000000000000006"/><path d="M120,38 116.5,37.5 113.1,36.7 109.7,35.8 106.3,35" stroke="#a8a8a8" stroke-width="0.55"/><path d="M106.3,35.3 104.4,35 102.5,34.6 100.7,34.3 98.8,34.3 96.8,34.5 94.9,35 93,35.4 91.1,35.7 89.2,35.9 87.3,36 85.4,35.9 83.5,35.9 79.1,32.8 81.4,33 83.7,33.2 85.9,33.3 88.2,33.3 90.5,33.2 92.8,32.9 95.2,32.7 97.5,32.7 99.7,33 102,33.6 104.2,34.2 106.4,34.8Z" fill="#d0d0d0" stroke="none"/><path d="M106.3,35.3 104.4,35 102.5,34.6 100.7,34.3 98.8,34.3 96.8,34.5 94.9,35 93,35.4 91.1,35.7 89.2,35.9 87.3,36 85.4,35.9 83.5,35.9" stroke="#a8a8a8" stroke-width="0.44000000000000006"/><path d="M106.3,35.1 104.4,34.7 102.5,34.3 100.6,33.9 98.7,33.8 96.8,34 94.8,34.3 92.8,34.7 90.9,35 89,35.1 87.1,35.1 85.1,35 83.2,34.9" stroke="#a8a8a8" stroke-width="0.44000000000000006"/><path d="M106.3,35 104.3,34.5 102.2,33.9 100.2,33.5 98.1,33.3 96,33.3 93.8,33.6 91.7,33.9 89.6,34.1 87.5,34.2 85.4,34.1 83.3,34 81.2,33.9" stroke="#a8a8a8" stroke-width="0.44000000000000006"/><path d="M106.4,34.8 104.2,34.2 102,33.6 99.7,33 97.5,32.7 95.2,32.7 92.8,32.9 90.5,33.2 88.2,33.3 85.9,33.3 83.7,33.2 81.4,33 79.1,32.8" stroke="#a8a8a8" stroke-width="0.44000000000000006"/><path d="M120,38 117.6,36.9 115.3,35.7 113,34.5 110.6,33.3 108.2,32.3 105.7,31.5" stroke="#d8b036" stroke-width="0.55"/><path d="M105.7,31.5 103.8,30.5 101.9,29.7 100,28.9 97.9,28.3 95.9,27.7 94,27.1 92,26.3 90.1,25.4 88.3,24.3 86.6,23.2" stroke="#d8b036" stroke-width="0.55"/><path d="M120,38 117.5,38.7 114.9,39.2 112.3,39.5 109.7,39.9" stroke="#e2c060" stroke-width="0.55"/><path d="M109.7,40.1 108.6,40.5 107.5,40.6 106.3,40.7 105.1,40.8 104,41.3 103,42 101.9,42.6 100.8,43.1 99.7,43.3 98.5,43.2 97.3,42.9 96,42.6 94,39.9 95.4,40.3 96.7,40.8 98.1,41.1 99.4,41.1 100.6,40.8 101.9,40.3 103.1,39.8 104.4,39.6 105.7,39.6 107,39.7 108.3,39.8 109.6,39.7Z" fill="#dfc068" stroke="none"/><path d="M109.7,40.1 108.6,40.5 107.5,40.6 106.3,40.7 105.1,40.8 104,41.3 103,42 101.9,42.6 100.8,43.1 99.7,43.3 98.5,43.2 97.3,42.9 96,42.6" stroke="#e2c060" stroke-width="0.44000000000000006"/><path d="M109.7,40 108.5,40.3 107.2,40.3 106,40.3 104.7,40.4 103.6,40.8 102.4,41.4 101.2,42 100.1,42.5 98.8,42.6 97.5,42.4 96.2,42.1 95,41.8" stroke="#e2c060" stroke-width="0.44000000000000006"/><path d="M109.7,39.8 108.4,40 107,40.1 105.7,40 104.4,40 103.1,40.3 101.8,40.9 100.6,41.5 99.3,41.8 98,41.9 96.7,41.7 95.3,41.3 93.9,40.9" stroke="#e2c060" stroke-width="0.44000000000000006"/><path d="M109.6,39.7 108.3,39.8 107,39.7 105.7,39.6 104.4,39.6 103.1,39.8 101.9,40.3 100.6,40.8 99.4,41.1 98.1,41.1 96.7,40.8 95.4,40.3 94,39.9" stroke="#e2c060" stroke-width="0.44000000000000006"/><path d="M120,38 119.6,34.9 119,31.8 118.4,28.7 118,25.6" stroke="#d8b036" stroke-width="0.55"/><path d="M117.7,25.6 117.5,23.8 117.1,22 116.4,20.2 115.4,18.5 114.4,16.8 113.7,15.1 113.3,13.3 113.1,11.5 112.8,9.7 112.4,7.9 111.7,6.1 110.6,4.5 114.8,6.1 115.5,7.6 115.9,9.2 116.1,10.9 116,12.6 116,14.3 116.1,16 116.5,17.5 117.2,19.1 117.8,20.6 118.2,22.2 118.3,23.9 118.2,25.5Z" fill="#e6cc78" stroke="none"/><path d="M117.7,25.6 117.5,23.8 117.1,22 116.4,20.2 115.4,18.5 114.4,16.8 113.7,15.1 113.3,13.3 113.1,11.5 112.8,9.7 112.4,7.9 111.7,6.1 110.6,4.5" stroke="#d8b036" stroke-width="0.44000000000000006"/><path d="M117.9,25.6 117.7,23.9 117.4,22.2 116.8,20.5 115.9,18.9 115,17.4 114.4,15.7 114.1,14.1 113.9,12.3 113.8,10.6 113.5,8.9 112.9,7.3 111.9,5.8" stroke="#d8b036" stroke-width="0.44000000000000006"/><path d="M118,25.6 117.9,23.7 117.6,22 117.1,20.2 116.3,18.5 115.4,16.9 114.8,15.2 114.5,13.4 114.4,11.6 114.3,9.7 114,7.9 113.4,6.2 112.5,4.6" stroke="#d8b036" stroke-width="0.44000000000000006"/><path d="M118.1,25.5 118.1,23.9 118,22.3 117.5,20.8 116.8,19.3 116.1,17.8 115.6,16.3 115.5,14.7 115.5,13.1 115.5,11.4 115.3,9.8 114.9,8.2 114,6.8" stroke="#d8b036" stroke-width="0.44000000000000006"/><path d="M118.2,25.5 118.3,23.9 118.2,22.2 117.8,20.6 117.2,19.1 116.5,17.5 116.1,16 116,14.3 116,12.6 116.1,10.9 115.9,9.2 115.5,7.6 114.8,6.1" stroke="#d8b036" stroke-width="0.44000000000000006"/><path d="M120,38 120.4,34.9 120.5,31.7 120.7,28.6 121,25.4" stroke="#e2c060" stroke-width="0.55"/><path d="M120.8,25.4 120.8,23.6 120.7,21.8 120.6,19.9 120.6,18.1 120.8,16.3 121.2,14.6 121.6,12.8 121.9,11 121.9,9.2 121.8,7.3 121.6,5.5 121.2,3.7 124.1,4.8 124.3,6.6 124.4,8.3 124.3,10.1 124,11.8 123.6,13.5 123,15.2 122.4,16.9 122,18.6 121.7,20.3 121.6,22 121.5,23.7 121.3,25.5Z" fill="#e6cc78" stroke="none"/><path d="M120.8,25.4 120.8,23.6 120.7,21.8 120.6,19.9 120.6,18.1 120.8,16.3 121.2,14.6 121.6,12.8 121.9,11 121.9,9.2 121.8,7.3 121.6,5.5 121.2,3.7" stroke="#e2c060" stroke-width="0.44000000000000006"/><path d="M121,25.4 121.2,23.7 121.2,21.9 121.2,20.1 121.3,18.4 121.6,16.6 122.1,14.9 122.6,13.2 122.9,11.5 123.1,9.7 123.1,7.9 122.9,6.1 122.7,4.4" stroke="#e2c060" stroke-width="0.44000000000000006"/><path d="M121.3,25.5 121.5,23.7 121.6,22 121.7,20.3 122,18.6 122.4,16.9 123,15.2 123.6,13.5 124,11.8 124.3,10.1 124.4,8.3 124.3,6.6 124.1,4.8" stroke="#e2c060" stroke-width="0.44000000000000006"/><path d="M120,38 121.3,35.1 122.4,32.2 123.3,29.2 124.2,26.1" stroke="#a8a8a8" stroke-width="0.55"/><path d="M124.1,26.1 124.4,24.6 124.6,23.2 125.1,21.9 126,20.7 126.9,19.4 127.2,18 127.1,16.4 127,14.9 127.5,13.5 128.4,12.3 129.5,11.2 130.2,9.9 133.1,8.1 132.1,9.5 130.8,10.8 129.7,12.2 129.1,13.7 128.9,15.4 128.8,17.2 128.3,18.8 127.2,20.1 126.1,21.5 125.4,23 124.9,24.6 124.3,26.2Z" fill="#dedede" stroke="none"/><path d="M124.1,26.1 124.4,24.6 124.6,23.2 125.1,21.9 126,20.7 126.9,19.4 127.2,18 127.1,16.4 127,14.9 127.5,13.5 128.4,12.3 129.5,11.2 130.2,9.9" stroke="#a8a8a8" stroke-width="0.44000000000000006"/><path d="M124.2,26.1 124.5,24.7 124.8,23.2 125.4,21.8 126.4,20.6 127.3,19.3 127.7,17.9 127.6,16.3 127.6,14.7 128.1,13.3 129.1,12.1 130.2,10.9 131.1,9.7" stroke="#a8a8a8" stroke-width="0.44000000000000006"/><path d="M124.2,26.1 124.7,24.6 125.1,23 125.8,21.6 126.9,20.2 127.9,18.9 128.3,17.3 128.3,15.6 128.4,14 129,12.4 130.1,11.1 131.3,9.9 132.2,8.5" stroke="#a8a8a8" stroke-width="0.44000000000000006"/><path d="M124.3,26.2 124.9,24.6 125.4,23 126.1,21.5 127.2,20.1 128.3,18.8 128.8,17.2 128.9,15.4 129.1,13.7 129.7,12.2 130.8,10.8 132.1,9.5 133.1,8.1" stroke="#a8a8a8" stroke-width="0.44000000000000006"/><path d="M120,38 119,35.2 118,32.4 116.9,29.6 115.7,26.9" stroke="#a8a8a8" stroke-width="0.55"/><path d="M115.5,27 114.7,25.5 113.8,24 112.9,22.5 112.1,21 111.4,19.4 110.7,17.9 109.9,16.4 109,14.9 107.9,13.6 106.6,12.3 105.3,11.1 103.9,10 104.7,7.5 106.1,8.8 107.4,10.2 108.6,11.7 109.7,13.2 110.7,14.8 111.4,16.5 112.1,18.3 112.7,20.1 113.5,21.8 114.3,23.5 115.1,25.1 115.8,26.9Z" fill="#e4e4e4" stroke="none"/><path d="M115.5,27 114.7,25.5 113.8,24 112.9,22.5 112.1,21 111.4,19.4 110.7,17.9 109.9,16.4 109,14.9 107.9,13.6 106.6,12.3 105.3,11.1 103.9,10" stroke="#a8a8a8" stroke-width="0.44000000000000006"/><path d="M115.7,26.9 114.9,25.3 114,23.7 113.2,22.2 112.4,20.6 111.8,18.9 111.1,17.3 110.3,15.6 109.4,14.1 108.3,12.7 107,11.3 105.7,10 104.3,8.8" stroke="#a8a8a8" stroke-width="0.44000000000000006"/><path d="M115.8,26.9 115.1,25.1 114.3,23.5 113.5,21.8 112.7,20.1 112.1,18.3 111.4,16.5 110.7,14.8 109.7,13.2 108.6,11.7 107.4,10.2 106.1,8.8 104.7,7.5" stroke="#a8a8a8" stroke-width="0.44000000000000006"/><path d="M120,38 121.4,35.4 122.7,32.7 124.2,30.1 125.9,27.7" stroke="#d8b036" stroke-width="0.55"/><path d="M125.7,27.6 126.4,25.8 127.2,24 128,22.3 129.1,20.7 130.1,19.2 131.1,17.5 131.9,15.8 132.4,13.9 132.8,12 133.2,10.1 133.5,8.1 134,6.2 136.6,6.6 136,8.5 135.4,10.4 134.9,12.4 134.3,14.3 133.6,16.1 132.6,17.9 131.5,19.5 130.2,21 129,22.6 127.9,24.3 127,26 126,27.8Z" fill="#e6cc78" stroke="none"/><path d="M125.7,27.6 126.4,25.8 127.2,24 128,22.3 129.1,20.7 130.1,19.2 131.1,17.5 131.9,15.8 132.4,13.9 132.8,12 133.2,10.1 133.5,8.1 134,6.2" stroke="#d8b036" stroke-width="0.44000000000000006"/><path d="M125.8,27.6 126.6,25.9 127.4,24.1 128.4,22.4 129.4,20.8 130.6,19.3 131.6,17.6 132.4,15.9 133.1,14 133.5,12.1 133.9,10.2 134.3,8.2 134.9,6.4" stroke="#d8b036" stroke-width="0.44000000000000006"/><path d="M125.9,27.7 126.7,26.1 127.5,24.5 128.5,23 129.5,21.5 130.7,20.1 131.7,18.6 132.5,17 133.1,15.3 133.6,13.5 134,11.7 134.4,10 134.9,8.2" stroke="#d8b036" stroke-width="0.44000000000000006"/><path d="M126,27.8 127,26 127.9,24.3 129,22.6 130.2,21 131.5,19.5 132.6,17.9 133.6,16.1 134.3,14.3 134.9,12.4 135.4,10.4 136,8.5 136.6,6.6" stroke="#d8b036" stroke-width="0.44000000000000006"/><path d="M120,38 119.9,35.1 119.8,32.3 120,29.4 120.3,26.6 120.5,23.8 120.7,20.9" stroke="#a8a8a8" stroke-width="0.55"/><path d="M120.7,20.9 120.7,18.7 120.8,16.4 121.2,14.2 121.7,12 122.3,9.8 122.8,7.6 123.3,5.4 123.8,3.2 124.3,1 124.8,-1.2" stroke="#a8a8a8" stroke-width="0.55"/><path d="M121.7,12 122.5,10.9 123.3,9.9 124.4,9.1 125.6,8.4 126.6,7.6" stroke="#a8a8a8" stroke-width="0.49500000000000005"/><path d="M120,38 122.8,35.9 125.5,33.8 128.3,31.8 131.2,29.9 134.1,28.1 137.1,26.3" stroke="#d8b036" stroke-width="0.55"/><path d="M137.1,26.3 138.9,25 140.7,23.7 142.5,22.5 144.5,21.5 146.6,20.5 148.5,19.5 150.5,18.4 152.3,17.1 154.1,15.8 155.9,14.5" stroke="#d8b036" stroke-width="0.55"/><path d="M146.6,20.5 148.1,20.6 149.7,20.9 151.3,20.9 152.9,20.6 154.5,20.4" stroke="#d8b036" stroke-width="0.49500000000000005"/><path d="M120,38 122.5,36.7 125.1,35.7 127.8,34.8 130.5,34" stroke="#d8b036" stroke-width="0.55"/><path d="M130.3,33.7 131.7,33.1 132.9,32.4 134.1,31.5 135.3,30.5 136.3,29.4 137.5,28.5 138.7,27.8 140,27.1 141.3,26.4 142.5,25.7 143.6,24.8 144.7,23.7 145.3,27.9 144.2,28.7 143,29.3 141.8,29.8 140.4,30.2 139.1,30.6 137.9,31.1 136.7,31.7 135.6,32.4 134.4,33.1 133.2,33.6 131.9,34 130.6,34.3Z" fill="#e6cc78" stroke="none"/><path d="M130.3,33.7 131.7,33.1 132.9,32.4 134.1,31.5 135.3,30.5 136.3,29.4 137.5,28.5 138.7,27.8 140,27.1 141.3,26.4 142.5,25.7 143.6,24.8 144.7,23.7" stroke="#d8b036" stroke-width="0.44000000000000006"/><path d="M130.4,33.8 131.6,33.3 132.8,32.7 133.9,31.9 135,31 136,30.1 137.1,29.3 138.2,28.6 139.4,28.1 140.6,27.5 141.7,26.9 142.8,26.1 143.8,25.1" stroke="#d8b036" stroke-width="0.44000000000000006"/><path d="M130.4,33.9 131.9,33.4 133.3,32.7 134.7,31.9 136,31 137.2,30 138.6,29.1 139.9,28.4 141.4,27.7 142.8,27 144.2,26.3 145.5,25.4 146.7,24.4" stroke="#d8b036" stroke-width="0.44000000000000006"/><path d="M130.5,34 131.9,33.6 133.4,33 134.7,32.3 136,31.4 137.2,30.4 138.5,29.7 139.9,29 141.3,28.4 142.7,27.8 144.1,27.1 145.4,26.3 146.6,25.3" stroke="#d8b036" stroke-width="0.44000000000000006"/><path d="M130.5,34.2 132,33.8 133.4,33.3 134.8,32.6 136.1,31.7 137.3,30.9 138.7,30.1 140,29.5 141.5,29 142.9,28.4 144.3,27.8 145.7,27.1 146.9,26.1" stroke="#d8b036" stroke-width="0.44000000000000006"/><path d="M130.6,34.3 131.9,34 133.2,33.6 134.4,33.1 135.6,32.4 136.7,31.7 137.9,31.1 139.1,30.6 140.4,30.2 141.8,29.8 143,29.3 144.2,28.7 145.3,27.9" stroke="#d8b036" stroke-width="0.44000000000000006"/><path d="M120,38 122.6,37.8 125.2,37.3 127.8,36.7 130.4,36.2" stroke="#d8b036" stroke-width="0.55"/><path d="M130.3,35.9 131.7,35.5 133,35 134.4,34.6 135.8,34.3 137.2,34.5 138.7,34.8 140.1,35 141.5,35 142.9,34.7 144.3,34.3 145.7,33.8 147.2,33.5 147,37.5 145.6,37.6 144.3,37.8 142.9,37.9 141.5,37.9 140.2,37.7 138.8,37.2 137.3,36.6 135.9,36.2 134.5,36.1 133.2,36.3 131.8,36.5 130.4,36.5Z" fill="#e6cc78" stroke="none"/><path d="M130.3,35.9 131.7,35.5 133,35 134.4,34.6 135.8,34.3 137.2,34.5 138.7,34.8 140.1,35 141.5,35 142.9,34.7 144.3,34.3 145.7,33.8 147.2,33.5" stroke="#d8b036" stroke-width="0.44000000000000006"/><path d="M130.3,36.1 131.7,35.7 133,35.3 134.4,34.9 135.8,34.7 137.2,34.9 138.6,35.2 140.1,35.5 141.5,35.6 142.8,35.4 144.2,35 145.6,34.6 147,34.3" stroke="#d8b036" stroke-width="0.44000000000000006"/><path d="M130.3,36.2 131.8,35.9 133.3,35.5 134.8,35.2 136.3,35 137.8,35.3 139.3,35.7 140.9,36 142.4,36.1 143.9,36 145.3,35.7 146.8,35.3 148.3,35.1" stroke="#d8b036" stroke-width="0.44000000000000006"/><path d="M130.4,36.3 131.9,36.1 133.4,35.7 135,35.4 136.5,35.4 138.1,35.7 139.7,36.1 141.3,36.5 142.8,36.7 144.4,36.6 145.9,36.3 147.4,36.1 149,35.9" stroke="#d8b036" stroke-width="0.44000000000000006"/><path d="M130.4,36.4 131.8,36.3 133.2,36 134.5,35.8 135.9,35.8 137.4,36.2 138.8,36.7 140.2,37.1 141.6,37.3 143,37.3 144.4,37.1 145.8,36.8 147.2,36.7" stroke="#d8b036" stroke-width="0.44000000000000006"/><path d="M130.4,36.5 131.8,36.5 133.2,36.3 134.5,36.1 135.9,36.2 137.3,36.6 138.8,37.2 140.2,37.7 141.5,37.9 142.9,37.9 144.3,37.8 145.6,37.6 147,37.5" stroke="#d8b036" stroke-width="0.44000000000000006"/><path d="M120,38 122.4,38.4 124.9,38.7 127.3,38.8 129.8,38.8" stroke="#d8b036" stroke-width="0.55"/><path d="M129.8,38.6 131.2,38.7 132.7,38.8 134.1,38.6 135.5,38.1 137,37.6 138.4,37.5 139.8,37.7 141.3,37.9 142.7,37.9 144.1,37.4 145.5,36.6 146.9,35.7 146.4,38.8 145.1,39.4 143.7,40 142.3,40.3 140.9,40.2 139.5,39.7 138.1,39.3 136.7,39.2 135.3,39.5 133.9,39.8 132.5,39.7 131.1,39.4 129.7,39Z" fill="#ead69a" stroke="none"/><path d="M129.8,38.6 131.2,38.7 132.7,38.8 134.1,38.6 135.5,38.1 137,37.6 138.4,37.5 139.8,37.7 141.3,37.9 142.7,37.9 144.1,37.4 145.5,36.6 146.9,35.7" stroke="#d8b036" stroke-width="0.44000000000000006"/><path d="M129.8,38.7 131,38.9 132.2,39 133.5,39 134.7,38.5 135.9,38.1 137.2,38 138.4,38.3 139.6,38.7 140.8,38.8 142.1,38.4 143.2,37.6 144.4,36.9" stroke="#d8b036" stroke-width="0.44000000000000006"/><path d="M129.8,38.9 131.2,39.1 132.7,39.4 134.2,39.4 135.7,39 137.2,38.7 138.7,38.7 140.2,39 141.6,39.4 143.1,39.5 144.6,39.1 146.1,38.4 147.5,37.7" stroke="#d8b036" stroke-width="0.44000000000000006"/><path d="M129.7,39 131.1,39.4 132.5,39.7 133.9,39.8 135.3,39.5 136.7,39.2 138.1,39.3 139.5,39.7 140.9,40.2 142.3,40.3 143.7,40 145.1,39.4 146.4,38.8" stroke="#d8b036" stroke-width="0.44000000000000006"/><path d="M120,38 122.5,38.7 125,39.7 127.4,40.7 129.9,41.5" stroke="#a8a8a8" stroke-width="0.55"/><path d="M130,41.3 131.2,41.6 132.5,41.7 133.9,41.8 135.2,42.1 136.3,42.7 137.4,43.6 138.3,44.6 139.3,45.5 140.4,46.2 141.6,46.7 142.9,47 144.2,47.2 142.7,49.8 141.5,49.4 140.4,49 139.3,48.3 138.3,47.5 137.5,46.4 136.6,45.2 135.7,44.1 134.6,43.4 133.4,42.9 132.2,42.6 131,42.2 129.8,41.7Z" fill="#dedede" stroke="none"/><path d="M130,41.3 131.2,41.6 132.5,41.7 133.9,41.8 135.2,42.1 136.3,42.7 137.4,43.6 138.3,44.6 139.3,45.5 140.4,46.2 141.6,46.7 142.9,47 144.2,47.2" stroke="#a8a8a8" stroke-width="0.44000000000000006"/><path d="M129.9,41.5 131.1,41.9 132.4,42.1 133.6,42.3 134.9,42.7 136,43.4 136.9,44.4 137.8,45.5 138.8,46.4 139.8,47.2 140.9,47.8 142.1,48.2 143.4,48.5" stroke="#a8a8a8" stroke-width="0.44000000000000006"/><path d="M129.8,41.7 131,42.2 132.2,42.6 133.4,42.9 134.6,43.4 135.7,44.1 136.6,45.2 137.5,46.4 138.3,47.5 139.3,48.3 140.4,49 141.5,49.4 142.7,49.8" stroke="#a8a8a8" stroke-width="0.44000000000000006"/><path d="M120,38 122.6,39.1 125,40.6 127.3,42.1 129.8,43.5" stroke="#a8a8a8" stroke-width="0.55"/><path d="M129.8,43.3 131.4,44 132.8,44.7 134.2,45.5 135.6,46.3 137.1,47 138.7,47.5 140.3,48 141.9,48.3 143.5,48.7 145.1,49.2 146.6,49.8 148.1,50.5 145.3,51.9 144,51.1 142.7,50.5 141.4,49.9 140,49.4 138.5,49 137.1,48.5 135.8,47.9 134.6,47.1 133.4,46.1 132.2,45.2 130.9,44.4 129.7,43.7Z" fill="#dedede" stroke="none"/><path d="M129.8,43.3 131.4,44 132.8,44.7 134.2,45.5 135.6,46.3 137.1,47 138.7,47.5 140.3,48 141.9,48.3 143.5,48.7 145.1,49.2 146.6,49.8 148.1,50.5" stroke="#a8a8a8" stroke-width="0.44000000000000006"/><path d="M129.8,43.5 131.2,44.1 132.6,44.9 134,45.7 135.4,46.6 136.8,47.4 138.3,47.9 139.9,48.4 141.4,48.8 143,49.2 144.5,49.7 146,50.4 147.4,51.1" stroke="#a8a8a8" stroke-width="0.44000000000000006"/><path d="M129.7,43.6 131,44.2 132.2,44.9 133.3,45.7 134.5,46.6 135.7,47.3 137,47.8 138.3,48.2 139.7,48.6 141.1,49 142.4,49.5 143.7,50.1 144.9,50.8" stroke="#a8a8a8" stroke-width="0.44000000000000006"/><path d="M129.7,43.7 130.9,44.4 132.2,45.2 133.4,46.1 134.6,47.1 135.8,47.9 137.1,48.5 138.5,49 140,49.4 141.4,49.9 142.7,50.5 144,51.1 145.3,51.9" stroke="#a8a8a8" stroke-width="0.44000000000000006"/><path d="M120,38 122.1,39.7 124.1,41.5 126,43.4 128,45.3 130,47.1 132,48.9" stroke="#d8b036" stroke-width="0.55"/><path d="M132,48.9 133.4,50 134.8,51.1 136,52.4 137,53.9 138.1,55.3 139.5,56.5 141.1,57.3 142.9,57.9 144.8,58.4 146.5,59" stroke="#d8b036" stroke-width="0.55"/><path d="M137,53.9 136.9,55.4 136.6,56.8 136.6,58.3 136.9,59.7 137.1,61.2" stroke="#d8b036" stroke-width="0.49500000000000005"/><path d="M120,38 122.2,40.2 124.3,42.6 126.4,45 128.6,47.2" stroke="#949494" stroke-width="0.55"/><path d="M128.7,47.1 130,48.5 131.2,49.9 132.4,51.3 133.9,52.5 135.4,53.7 136.8,55 137.9,56.5 138.7,58.3 139.4,60.1 140.1,61.9 141,63.6 142.1,65.1 141.6,68.7 140.5,66.9 139.7,64.9 139,62.9 138.3,60.8 137.5,58.8 136.4,57 135.1,55.4 133.5,54 132.1,52.4 130.9,50.8 129.7,49 128.4,47.4Z" fill="#d0d0d0" stroke="none"/><path d="M128.7,47.1 130,48.5 131.2,49.9 132.4,51.3 133.9,52.5 135.4,53.7 136.8,55 137.9,56.5 138.7,58.3 139.4,60.1 140.1,61.9 141,63.6 142.1,65.1" stroke="#949494" stroke-width="0.44000000000000006"/><path d="M128.6,47.2 129.8,48.7 131,50.3 132.3,51.8 133.7,53.2 135.2,54.5 136.6,55.9 137.7,57.6 138.5,59.4 139.1,61.4 139.8,63.3 140.7,65.1 141.7,66.8" stroke="#949494" stroke-width="0.44000000000000006"/><path d="M128.4,47.4 129.7,49 130.9,50.8 132.1,52.4 133.5,54 135.1,55.4 136.4,57 137.5,58.8 138.3,60.8 139,62.9 139.7,64.9 140.5,66.9 141.6,68.7" stroke="#949494" stroke-width="0.44000000000000006"/><path d="M120,38 121.6,40.7 123.3,43.4 125.2,45.9 127.2,48.4" stroke="#a8a8a8" stroke-width="0.55"/><path d="M127.3,48.3 128.3,49.6 129.4,50.8 130.6,52 131.7,53.3 132.6,54.7 133.3,56.2 134,57.7 134.9,59.2 135.9,60.5 137,61.7 138.4,62.8 139.7,63.8 137.8,64.5 136.5,63.4 135.4,62.3 134.3,61.1 133.4,59.7 132.8,58.2 132.2,56.6 131.6,55.1 130.8,53.6 129.9,52.4 128.9,51.1 127.9,49.8 127,48.5Z" fill="#e4e4e4" stroke="none"/><path d="M127.3,48.3 128.3,49.6 129.4,50.8 130.6,52 131.7,53.3 132.6,54.7 133.3,56.2 134,57.7 134.9,59.2 135.9,60.5 137,61.7 138.4,62.8 139.7,63.8" stroke="#a8a8a8" stroke-width="0.44000000000000006"/><path d="M127.2,48.3 128.1,49.6 129.2,50.9 130.3,52 131.3,53.3 132.2,54.6 132.8,56.2 133.5,57.7 134.2,59.1 135.1,60.4 136.3,61.6 137.5,62.6 138.8,63.7" stroke="#a8a8a8" stroke-width="0.44000000000000006"/><path d="M127.1,48.4 128.1,49.8 129.2,51.2 130.3,52.5 131.4,53.9 132.2,55.4 132.9,57 133.6,58.6 134.4,60.2 135.4,61.6 136.5,62.9 137.8,64.1 139.2,65.3" stroke="#a8a8a8" stroke-width="0.44000000000000006"/><path d="M127,48.5 127.9,49.8 128.9,51.1 129.9,52.4 130.8,53.6 131.6,55.1 132.2,56.6 132.8,58.2 133.4,59.7 134.3,61.1 135.4,62.3 136.5,63.4 137.8,64.5" stroke="#a8a8a8" stroke-width="0.44000000000000006"/><path d="M120,38 121,40.3 122.1,42.6 123.2,45 124.2,47.3 125,49.7 125.8,52.1" stroke="#d8b036" stroke-width="0.55"/><path d="M125.8,52.1 126.7,53.8 127.4,55.5 127.8,57.3 128.2,59.1 129,60.8 130.3,62.2 131.7,63.6 133,65 134.1,66.5 134.8,68.2" stroke="#d8b036" stroke-width="0.55"/><path d="M129,60.8 129,62.2 129.2,63.6 129,65 128.6,66.4 128.3,67.8" stroke="#d8b036" stroke-width="0.49500000000000005"/><path d="M120,38 120.8,40.5 121.4,43.1 121.8,45.7 122.3,48.3" stroke="#a8a8a8" stroke-width="0.55"/><path d="M122.4,48.2 123,49.6 123.6,50.9 124.4,52.2 125.1,53.5 125.6,54.9 125.8,56.3 126,57.8 126.2,59.3 126.6,60.7 127.2,62 128,63.3 129.1,64.5 127.7,68 126.7,66.5 125.9,65 125.3,63.4 125,61.7 124.9,59.9 124.8,58.2 124.7,56.4 124.3,54.8 123.6,53.2 123,51.6 122.4,50 122.1,48.3Z" fill="#e4e4e4" stroke="none"/><path d="M122.4,48.2 123,49.6 123.6,50.9 124.4,52.2 125.1,53.5 125.6,54.9 125.8,56.3 126,57.8 126.2,59.3 126.6,60.7 127.2,62 128,63.3 129.1,64.5" stroke="#a8a8a8" stroke-width="0.44000000000000006"/><path d="M122.3,48.3 122.7,49.7 123.2,51 123.9,52.4 124.6,53.7 125,55.1 125.1,56.6 125.2,58.1 125.3,59.6 125.6,61.1 126.2,62.4 126.9,63.7 127.9,64.9" stroke="#a8a8a8" stroke-width="0.44000000000000006"/><path d="M122.1,48.3 122.4,50 123,51.6 123.6,53.2 124.3,54.8 124.7,56.4 124.8,58.2 124.9,59.9 125,61.7 125.3,63.4 125.9,65 126.7,66.5 127.7,68" stroke="#a8a8a8" stroke-width="0.44000000000000006"/><path d="M120,38 119.9,40.5 120,42.9 120.3,45.3 120.6,47.8" stroke="#b8b8b8" stroke-width="0.55"/><path d="M120.7,47.8 121.1,49 121.3,50.2 121.4,51.4 121.2,52.6 121,53.8 121.2,55 121.8,56.2 122.7,57.2 123.6,58.3 124.3,59.4 124.7,60.5 124.8,61.7 122.7,61.7 122.8,60.5 122.6,59.3 122,58.2 121.2,57.2 120.4,56.1 120,54.9 119.9,53.8 120.3,52.5 120.6,51.3 120.7,50.1 120.6,49 120.4,47.8Z" fill="#e4e4e4" stroke="none"/><path d="M120.7,47.8 121.1,49 121.3,50.2 121.4,51.4 121.2,52.6 121,53.8 121.2,55 121.8,56.2 122.7,57.2 123.6,58.3 124.3,59.4 124.7,60.5 124.8,61.7" stroke="#b8b8b8" stroke-width="0.44000000000000006"/><path d="M120.6,47.8 120.9,48.9 121.1,50 121.1,51.1 120.9,52.3 120.6,53.4 120.7,54.5 121.3,55.6 122.1,56.6 123,57.6 123.6,58.6 123.9,59.7 123.9,60.8" stroke="#b8b8b8" stroke-width="0.44000000000000006"/><path d="M120.5,47.8 120.7,49 120.9,50.3 120.9,51.5 120.6,52.8 120.3,54.1 120.4,55.4 120.9,56.6 121.8,57.7 122.6,58.9 123.3,60 123.6,61.2 123.6,62.5" stroke="#b8b8b8" stroke-width="0.44000000000000006"/><path d="M120.4,47.8 120.6,49 120.7,50.1 120.6,51.3 120.3,52.5 119.9,53.8 120,54.9 120.4,56.1 121.2,57.2 122,58.2 122.6,59.3 122.8,60.5 122.7,61.7" stroke="#b8b8b8" stroke-width="0.44000000000000006"/><path d="M120,38 119.2,39.7 118.2,41.4 117.3,43.1 116.6,44.9" stroke="#a8a8a8" stroke-width="0.55"/><path d="M116.8,45 116.6,46 116.4,47.1 116.3,48.1 116,49.1 115.5,50 114.9,50.9 114.3,51.8 113.9,52.7 113.8,53.7 113.8,54.8 114,56 114.2,57.2 110.6,58.3 110.6,57 110.7,55.7 110.9,54.5 111.3,53.3 112,52.3 112.8,51.3 113.6,50.3 114.4,49.3 115,48.2 115.4,47.1 115.8,45.9 116.3,44.8Z" fill="#d0d0d0" stroke="none"/><path d="M116.8,45 116.6,46 116.4,47.1 116.3,48.1 116,49.1 115.5,50 114.9,50.9 114.3,51.8 113.9,52.7 113.8,53.7 113.8,54.8 114,56 114.2,57.2" stroke="#a8a8a8" stroke-width="0.44000000000000006"/><path d="M116.6,44.9 116.2,46 115.9,47.1 115.6,48.2 115.2,49.2 114.5,50.2 113.8,51.1 113.1,52.1 112.6,53.1 112.3,54.2 112.2,55.4 112.3,56.6 112.4,57.8" stroke="#a8a8a8" stroke-width="0.44000000000000006"/><path d="M116.3,44.8 115.8,45.9 115.4,47.1 115,48.2 114.4,49.3 113.6,50.3 112.8,51.3 112,52.3 111.3,53.3 110.9,54.5 110.7,55.7 110.6,57 110.6,58.3" stroke="#a8a8a8" stroke-width="0.44000000000000006"/><path d="M120,38 118.8,39.5 117.3,40.8 115.8,42 114.3,43.2" stroke="#a8a8a8" stroke-width="0.55"/><path d="M114.5,43.4 114,44.2 113.5,45 112.9,45.6 112.1,46 111.2,46.4 110.6,47.1 110.2,48 109.8,49 109.2,49.6 108.2,49.9 107.2,50 106.3,50.4 104.7,47.8 105.6,47.7 106.7,47.7 107.8,47.6 108.5,47.2 109,46.4 109.5,45.6 110.2,45.1 111.2,45 112.2,44.7 112.9,44.3 113.5,43.6 114.2,43.1Z" fill="#e4e4e4" stroke="none"/><path d="M114.5,43.4 114,44.2 113.5,45 112.9,45.6 112.1,46 111.2,46.4 110.6,47.1 110.2,48 109.8,49 109.2,49.6 108.2,49.9 107.2,50 106.3,50.4" stroke="#a8a8a8" stroke-width="0.44000000000000006"/><path d="M114.4,43.3 113.8,44.1 113.2,44.9 112.4,45.6 111.4,46 110.4,46.3 109.7,47 109.2,48 108.7,48.9 107.9,49.6 106.9,49.8 105.7,50 104.7,50.3" stroke="#a8a8a8" stroke-width="0.44000000000000006"/><path d="M114.3,43.2 113.6,43.9 112.9,44.7 112.1,45.3 111.1,45.6 110,46 109.3,46.6 108.7,47.5 108.2,48.4 107.4,49 106.2,49.2 105,49.3 104,49.6" stroke="#a8a8a8" stroke-width="0.44000000000000006"/><path d="M114.2,43.1 113.5,43.6 112.9,44.3 112.2,44.7 111.2,45 110.2,45.1 109.5,45.6 109,46.4 108.5,47.2 107.8,47.6 106.7,47.7 105.6,47.7 104.7,47.8" stroke="#a8a8a8" stroke-width="0.44000000000000006"/><path d="M120,38 118.4,38.7 116.8,39.4 115.3,40.3 113.8,41.3" stroke="#d8b036" stroke-width="0.55"/><path d="M113.9,41.5 113.2,42.1 112.5,42.8 111.7,43.6 110.9,44.1 109.9,44.2 108.8,44.1 107.8,44.2 106.9,44.5 106.1,45.1 105.3,45.9 104.6,46.7 103.8,47.2 101.9,44.7 102.8,44.3 103.7,43.7 104.6,43.1 105.5,42.7 106.5,42.5 107.7,42.7 108.9,42.9 110,42.9 111,42.6 111.9,42.1 112.8,41.5 113.7,41.1Z" fill="#dfc068" stroke="none"/><path d="M113.9,41.5 113.2,42.1 112.5,42.8 111.7,43.6 110.9,44.1 109.9,44.2 108.8,44.1 107.8,44.2 106.9,44.5 106.1,45.1 105.3,45.9 104.6,46.7 103.8,47.2" stroke="#d8b036" stroke-width="0.44000000000000006"/><path d="M113.8,41.3 113,41.8 112.1,42.5 111.3,43.1 110.4,43.5 109.3,43.6 108.1,43.5 107,43.4 106,43.6 105.2,44.2 104.3,44.9 103.5,45.6 102.6,46.1" stroke="#d8b036" stroke-width="0.44000000000000006"/><path d="M113.7,41.1 112.8,41.5 111.9,42.1 111,42.6 110,42.9 108.9,42.9 107.7,42.7 106.5,42.5 105.5,42.7 104.6,43.1 103.7,43.7 102.8,44.3 101.9,44.7" stroke="#d8b036" stroke-width="0.44000000000000006"/><path d="M162,204 161.6,200.4 161,196.9 160.8,193.3 160.7,189.7 160.6,186 160.3,182.5" stroke="#a8a8a8" stroke-width="0.5"/><path d="M160.3,182.5 160,179.9 159.7,177.3 159.5,174.8 159.7,172.2 160,169.6 160.2,167 160.4,164.4 160.5,161.8 160.5,159.3 160.6,156.7" stroke="#a8a8a8" stroke-width="0.5"/><path d="M160,169.6 160.6,167.9 161.6,166.2 162.2,164.5 162.6,162.7 162.9,160.8" stroke="#a8a8a8" stroke-width="0.45"/><path d="M162,204 160.9,201.7 159.9,199.4 159.1,197 158.3,194.6" stroke="#b8b8b8" stroke-width="0.5"/><path d="M157.9,194.8 156.8,193.2 155.7,191.6 154.7,189.9 154,188.1 153.4,186.3 152.8,184.5 152,182.7 151.1,181 150.1,179.4 149,177.7 147.9,176.1 147,174.4 153.7,172.3 154.2,174.1 154.8,175.9 155.4,177.7 156,179.4 156.5,181.3 156.8,183.1 156.9,185.1 157.1,187 157.3,188.9 157.8,190.8 158.3,192.6 158.8,194.4Z" fill="#d0d0d0" stroke="none"/><path d="M157.9,194.8 156.8,193.2 155.7,191.6 154.7,189.9 154,188.1 153.4,186.3 152.8,184.5 152,182.7 151.1,181 150.1,179.4 149,177.7 147.9,176.1 147,174.4" stroke="#b8b8b8" stroke-width="0.4"/><path d="M158,194.7 157.1,193.2 156.2,191.7 155.4,190.2 154.8,188.5 154.4,186.9 153.9,185.2 153.3,183.6 152.6,182 151.7,180.5 150.7,179 149.8,177.5 149,175.9" stroke="#b8b8b8" stroke-width="0.4"/><path d="M158.2,194.6 157.4,193.1 156.6,191.5 155.9,189.8 155.4,188.1 155,186.4 154.6,184.6 154.1,182.9 153.4,181.3 152.6,179.7 151.7,178.1 150.8,176.5 150.1,174.9" stroke="#b8b8b8" stroke-width="0.4"/><path d="M158.4,194.6 157.7,192.9 157,191.3 156.4,189.6 156,187.8 155.7,186 155.4,184.2 154.9,182.5 154.3,180.8 153.6,179.1 152.8,177.5 152,175.9 151.4,174.2" stroke="#b8b8b8" stroke-width="0.4"/><path d="M158.6,194.5 158.1,192.9 157.5,191.3 157,189.6 156.7,187.9 156.5,186.1 156.3,184.4 156,182.6 155.5,181 154.9,179.4 154.2,177.9 153.5,176.3 153,174.6" stroke="#b8b8b8" stroke-width="0.4"/><path d="M158.8,194.4 158.3,192.6 157.8,190.8 157.3,188.9 157.1,187 156.9,185.1 156.8,183.1 156.5,181.3 156,179.4 155.4,177.7 154.8,175.9 154.2,174.1 153.7,172.3" stroke="#b8b8b8" stroke-width="0.4"/><path d="M162,204 162,201.5 161.7,199 161.2,196.5 160.8,194" stroke="#a8a8a8" stroke-width="0.5"/><path d="M160.3,194 159.7,192.1 159.2,190.1 158.9,188.1 158.9,186.1 158.9,184.1 158.5,182.2 157.8,180.2 157,178.2 156.3,176.3 155.9,174.3 155.9,172.3 156,170.3 163.1,171.1 162.5,173.1 162.1,175 162,176.9 162.3,178.7 162.6,180.6 162.8,182.5 162.7,184.4 162.2,186.3 161.7,188.2 161.4,190.1 161.4,192 161.4,193.9Z" fill="#e4e4e4" stroke="none"/><path d="M160.3,194 159.7,192.1 159.2,190.1 158.9,188.1 158.9,186.1 158.9,184.1 158.5,182.2 157.8,180.2 157,178.2 156.3,176.3 155.9,174.3 155.9,172.3 156,170.3" stroke="#a8a8a8" stroke-width="0.4"/><path d="M160.7,194 160.3,192 159.9,190.1 159.8,188.1 160,186.1 160.1,184 159.9,182.1 159.4,180.1 158.8,178.1 158.2,176.2 158,174.2 158,172.2 158.4,170.2" stroke="#a8a8a8" stroke-width="0.4"/><path d="M161,194 160.8,192 160.7,190.1 160.8,188.2 161.1,186.2 161.4,184.2 161.4,182.3 161,180.4 160.5,178.5 160.1,176.6 160,174.6 160.3,172.7 160.7,170.7" stroke="#a8a8a8" stroke-width="0.4"/><path d="M161.4,193.9 161.4,192 161.4,190.1 161.7,188.2 162.2,186.3 162.7,184.4 162.8,182.5 162.6,180.6 162.3,178.7 162,176.9 162.1,175 162.5,173.1 163.1,171.1" stroke="#a8a8a8" stroke-width="0.4"/><path d="M162,204 162.3,201.6 162.5,199.3 163,196.9 163.6,194.6" stroke="#d8b036" stroke-width="0.5"/><path d="M163.1,194.5 163.1,192.5 163,190.4 163,188.4 163.5,186.4 164.3,184.5 164.9,182.6 165.1,180.5 164.9,178.4 164.7,176.3 165,174.3 165.8,172.4 166.9,170.6 172.8,175.6 171.3,176.9 170.2,178.4 169.6,180 169.4,181.7 169.2,183.5 168.7,185.1 167.7,186.6 166.4,188.1 165.6,189.7 165.1,191.4 164.8,193.1 164.2,194.7Z" fill="#e6cc78" stroke="none"/><path d="M163.1,194.5 163.1,192.5 163,190.4 163,188.4 163.5,186.4 164.3,184.5 164.9,182.6 165.1,180.5 164.9,178.4 164.7,176.3 165,174.3 165.8,172.4 166.9,170.6" stroke="#d8b036" stroke-width="0.4"/><path d="M163.5,194.6 163.7,192.6 163.8,190.6 163.9,188.7 164.5,186.8 165.5,185 166.2,183.1 166.5,181.2 166.5,179.1 166.4,177.1 166.8,175.1 167.8,173.4 169,171.6" stroke="#d8b036" stroke-width="0.4"/><path d="M163.8,194.7 164.2,193 164.4,191.4 164.6,189.7 165.3,188.2 166.4,186.7 167.2,185.2 167.6,183.6 167.6,181.9 167.6,180.2 168,178.6 169,177.2 170.3,175.8" stroke="#d8b036" stroke-width="0.4"/><path d="M164.2,194.7 164.8,193.1 165.1,191.4 165.6,189.7 166.4,188.1 167.7,186.6 168.7,185.1 169.2,183.5 169.4,181.7 169.6,180 170.2,178.4 171.3,176.9 172.8,175.6" stroke="#d8b036" stroke-width="0.4"/><path d="M162,204 163,202.1 164.1,200.3 165,198.5 165.8,196.5" stroke="#b8b8b8" stroke-width="0.5"/><path d="M165.4,196.3 165.9,195 166.2,193.7 166.3,192.2 166.4,190.7 166.7,189.4 167.5,188.2 168.5,187.2 169.2,186 169.5,184.6 169.4,183.1 169.3,181.5 169.5,180.1 175.5,181.4 174.9,182.8 174.6,184.3 174.3,185.8 173.5,187.1 172.4,188.2 171.1,189.2 169.9,190.3 169.1,191.5 168.6,192.9 168,194.3 167.2,195.5 166.2,196.7Z" fill="#dedede" stroke="none"/><path d="M165.4,196.3 165.9,195 166.2,193.7 166.3,192.2 166.4,190.7 166.7,189.4 167.5,188.2 168.5,187.2 169.2,186 169.5,184.6 169.4,183.1 169.3,181.5 169.5,180.1" stroke="#b8b8b8" stroke-width="0.4"/><path d="M165.5,196.4 166.1,195.2 166.5,194 166.6,192.6 166.8,191.3 167.1,190 168,189 168.9,188 169.7,187 170,185.7 170,184.3 170,182.8 170.1,181.5" stroke="#b8b8b8" stroke-width="0.4"/><path d="M165.7,196.5 166.4,195.2 166.9,193.9 167.2,192.5 167.4,191.1 168,189.8 168.9,188.7 170,187.7 170.8,186.5 171.3,185.2 171.4,183.7 171.5,182.2 171.8,180.8" stroke="#b8b8b8" stroke-width="0.4"/><path d="M165.9,196.5 166.7,195.2 167.4,193.9 167.8,192.4 168.2,190.8 168.9,189.4 170,188.2 171.2,187.1 172.1,185.9 172.7,184.5 173,182.9 173.2,181.2 173.6,179.7" stroke="#b8b8b8" stroke-width="0.4"/><path d="M166,196.6 166.9,195.6 167.5,194.4 168,193.2 168.3,191.9 169,190.7 170,189.8 171.2,188.9 172.2,187.9 172.8,186.7 173,185.3 173.2,183.9 173.6,182.7" stroke="#b8b8b8" stroke-width="0.4"/><path d="M166.2,196.7 167.2,195.5 168,194.3 168.6,192.9 169.1,191.5 169.9,190.3 171.1,189.2 172.4,188.2 173.5,187.1 174.3,185.8 174.6,184.3 174.9,182.8 175.5,181.4" stroke="#b8b8b8" stroke-width="0.4"/><path d="M162,204 160.7,202.5 159.6,200.9 158.6,199.2 157.4,197.6" stroke="#d8b036" stroke-width="0.5"/><path d="M157.1,197.9 155.8,197 154.5,196.2 153.4,195.1 152.7,193.8 151.9,192.5 150.5,191.9 148.7,191.6 146.9,191.2 145.7,190.4 144.8,189.2 144.1,187.9 142.9,187 148.1,183.6 149,184.8 149.4,186.3 149.9,187.8 150.8,188.8 152.2,189.4 153.7,190 154.8,190.9 155.2,192.4 155.5,193.9 156.1,195.2 157,196.2 157.8,197.4Z" fill="#dfc068" stroke="none"/><path d="M157.1,197.9 155.8,197 154.5,196.2 153.4,195.1 152.7,193.8 151.9,192.5 150.5,191.9 148.7,191.6 146.9,191.2 145.7,190.4 144.8,189.2 144.1,187.9 142.9,187" stroke="#d8b036" stroke-width="0.4"/><path d="M157.2,197.8 156.1,196.8 154.9,195.9 153.9,194.8 153.3,193.4 152.6,192 151.2,191.3 149.5,190.9 147.8,190.5 146.6,189.6 145.8,188.3 145.1,186.9 144,186" stroke="#d8b036" stroke-width="0.4"/><path d="M157.4,197.6 156.4,196.6 155.2,195.6 154.4,194.4 153.8,192.9 153.2,191.5 151.9,190.7 150.2,190.2 148.6,189.7 147.4,188.8 146.7,187.4 146.1,185.9 145,184.9" stroke="#d8b036" stroke-width="0.4"/><path d="M157.6,197.5 156.5,196.2 155.4,195 154.5,193.6 153.9,191.9 153.2,190.3 151.8,189.3 150.1,188.6 148.4,187.9 147.2,186.8 146.4,185.2 145.6,183.5 144.5,182.3" stroke="#d8b036" stroke-width="0.4"/><path d="M157.8,197.4 157,196.2 156.1,195.2 155.5,193.9 155.2,192.4 154.8,190.9 153.7,190 152.2,189.4 150.8,188.8 149.9,187.8 149.4,186.3 149,184.8 148.1,183.6" stroke="#d8b036" stroke-width="0.4"/><path d="M162,204 163.5,202.5 165.1,201.1 166.7,199.8 168.1,198.2" stroke="#949494" stroke-width="0.5"/><path d="M167.7,197.9 168.4,196.5 169.1,195.1 169.9,193.8 170.9,192.8 172.1,191.9 173.2,190.9 174.1,189.8 174.8,188.4 175.2,186.9 175.5,185.2 175.8,183.5 176.3,182 181.2,187 180.4,188.2 179.8,189.6 179.1,190.9 178.4,192.2 177.4,193.2 176.1,194 174.7,194.6 173.1,195.1 171.8,195.8 170.6,196.7 169.6,197.7 168.5,198.6Z" fill="#dedede" stroke="none"/><path d="M167.7,197.9 168.4,196.5 169.1,195.1 169.9,193.8 170.9,192.8 172.1,191.9 173.2,190.9 174.1,189.8 174.8,188.4 175.2,186.9 175.5,185.2 175.8,183.5 176.3,182" stroke="#949494" stroke-width="0.4"/><path d="M167.9,198 168.6,196.7 169.4,195.4 170.3,194.2 171.4,193.2 172.7,192.4 173.9,191.5 174.9,190.4 175.6,189 176.1,187.5 176.5,185.9 176.9,184.3 177.4,182.8" stroke="#949494" stroke-width="0.4"/><path d="M168,198.2 169,196.8 169.9,195.4 171,194.2 172.3,193.2 173.7,192.3 175.1,191.3 176.3,190.2 177.2,188.8 177.9,187.2 178.5,185.5 179,183.9 179.7,182.3" stroke="#949494" stroke-width="0.4"/><path d="M168.2,198.3 169.1,197.1 170.1,196 171.1,194.9 172.4,194 173.8,193.3 175.2,192.5 176.3,191.5 177.2,190.3 177.9,188.9 178.5,187.4 179,185.8 179.7,184.5" stroke="#949494" stroke-width="0.4"/><path d="M168.3,198.5 169.4,197.4 170.4,196.3 171.5,195.3 172.8,194.5 174.3,193.9 175.8,193.1 177,192.2 178,191.1 178.7,189.7 179.3,188.2 179.9,186.8 180.7,185.5" stroke="#949494" stroke-width="0.4"/><path d="M168.5,198.6 169.6,197.7 170.6,196.7 171.8,195.8 173.1,195.1 174.7,194.6 176.1,194 177.4,193.2 178.4,192.2 179.1,190.9 179.8,189.6 180.4,188.2 181.2,187" stroke="#949494" stroke-width="0.4"/><path d="M162,204 160.4,203.1 158.9,202.1 157.5,200.9 156.1,199.7" stroke="#a8a8a8" stroke-width="0.5"/><path d="M155.9,200 154.6,199.5 153.3,199.1 152,198.5 151,197.6 150.1,196.6 148.8,196 147.3,196 145.6,196.1 144.2,195.9 143.1,195.2 142.1,194.1 141.1,193.3 142.8,188.6 143.8,189.7 144.7,191.1 145.7,192.1 147.1,192.7 148.6,192.9 150.1,193.3 151.2,194.1 152.1,195.5 152.9,196.8 154.1,197.7 155.3,198.4 156.4,199.4Z" fill="#d6d6d6" stroke="none"/><path d="M155.9,200 154.6,199.5 153.3,199.1 152,198.5 151,197.6 150.1,196.6 148.8,196 147.3,196 145.6,196.1 144.2,195.9 143.1,195.2 142.1,194.1 141.1,193.3" stroke="#a8a8a8" stroke-width="0.4"/><path d="M156,199.9 154.7,199.2 153.3,198.7 152,198.1 151,197.1 150,195.9 148.7,195.3 147.1,195.1 145.5,195.1 144,194.8 142.8,194 141.8,192.9 140.7,192" stroke="#a8a8a8" stroke-width="0.4"/><path d="M156.1,199.7 155,199.1 153.8,198.7 152.7,198.1 151.9,197.1 151.1,195.9 150,195.3 148.6,195.2 147.1,195.3 145.8,195 144.8,194.2 144,193.1 143.1,192.2" stroke="#a8a8a8" stroke-width="0.4"/><path d="M156.2,199.6 155.1,198.9 154,198.4 152.9,197.7 152.1,196.7 151.4,195.5 150.3,194.8 149,194.7 147.5,194.7 146.3,194.3 145.3,193.4 144.6,192.3 143.7,191.3" stroke="#a8a8a8" stroke-width="0.4"/><path d="M156.3,199.5 155.1,198.6 153.8,197.9 152.7,197.1 151.7,195.9 150.9,194.5 149.7,193.7 148.1,193.4 146.5,193.2 145.1,192.7 144.1,191.7 143.1,190.4 142.1,189.3" stroke="#a8a8a8" stroke-width="0.4"/><path d="M156.4,199.4 155.3,198.4 154.1,197.7 152.9,196.8 152.1,195.5 151.2,194.1 150.1,193.3 148.6,192.9 147.1,192.7 145.7,192.1 144.7,191.1 143.8,189.7 142.8,188.6" stroke="#a8a8a8" stroke-width="0.4"/><path d="M162,204 159.8,203.8 157.5,203.8 155.3,204 153,204.2" stroke="#a8a8a8" stroke-width="0.5"/><path d="M153,204.6 151.3,204.8 149.6,204.7 147.9,204.7 146.2,205.1 144.5,205.9 142.8,206.2 141,205.9 139.4,205.1 137.7,204.5 136,204.5 134.2,205 132.5,205.6 131.7,200.6 133.5,200.3 135.3,200.1 137.1,200.5 138.8,201.4 140.5,202.5 142.3,203.1 144.1,203.2 145.9,202.8 147.7,202.7 149.5,203.1 151.2,203.6 153,203.9Z" fill="#e4e4e4" stroke="none"/><path d="M153,204.6 151.3,204.8 149.6,204.7 147.9,204.7 146.2,205.1 144.5,205.9 142.8,206.2 141,205.9 139.4,205.1 137.7,204.5 136,204.5 134.2,205 132.5,205.6" stroke="#a8a8a8" stroke-width="0.4"/><path d="M153,204.5 151.4,204.5 149.9,204.3 148.3,204.3 146.7,204.7 145,205.4 143.4,205.6 141.8,205.2 140.3,204.4 138.7,203.8 137.1,203.7 135.5,204.2 133.8,204.7" stroke="#a8a8a8" stroke-width="0.4"/><path d="M153,204.3 151.5,204.3 149.9,204 148.3,203.9 146.8,204.2 145.2,204.8 143.6,205 142,204.5 140.5,203.7 139,203 137.4,202.9 135.8,203.3 134.2,203.8" stroke="#a8a8a8" stroke-width="0.4"/><path d="M153,204.2 151.2,204.1 149.3,203.7 147.4,203.5 145.5,203.7 143.6,204.2 141.7,204.3 139.9,203.8 138,202.8 136.2,202 134.3,201.8 132.4,202.1 130.5,202.5" stroke="#a8a8a8" stroke-width="0.4"/><path d="M153,204 151.4,203.8 149.8,203.4 148.1,203.1 146.5,203.3 144.9,203.7 143.2,203.8 141.6,203.2 140,202.2 138.4,201.4 136.8,201.1 135.2,201.4 133.5,201.7" stroke="#a8a8a8" stroke-width="0.4"/><path d="M153,203.9 151.2,203.6 149.5,203.1 147.7,202.7 145.9,202.8 144.1,203.2 142.3,203.1 140.5,202.5 138.8,201.4 137.1,200.5 135.3,200.1 133.5,200.3 131.7,200.6" stroke="#a8a8a8" stroke-width="0.4"/><path d="M162,204 160,204.6 157.9,204.9 155.8,205.3 153.8,206" stroke="#b8b8b8" stroke-width="0.5"/><path d="M153.9,206.3 152.4,206.9 150.8,207.4 149.2,207.8 147.6,208.2 146.1,209 144.7,210 143.3,211.1 141.8,212.1 140.3,212.8 138.8,213.3 137.1,213.6 135.5,213.9 133.7,209.2 135.5,209.2 137.2,209.2 138.9,209 140.6,208.6 142.1,207.9 143.7,207.2 145.2,206.5 146.9,206 148.6,205.9 150.3,205.9 152,205.8 153.7,205.6Z" fill="#dedede" stroke="none"/><path d="M153.9,206.3 152.4,206.9 150.8,207.4 149.2,207.8 147.6,208.2 146.1,209 144.7,210 143.3,211.1 141.8,212.1 140.3,212.8 138.8,213.3 137.1,213.6 135.5,213.9" stroke="#b8b8b8" stroke-width="0.4"/><path d="M153.9,206.2 152.3,206.7 150.7,207.1 149.1,207.4 147.5,207.8 146,208.5 144.6,209.4 143.2,210.4 141.7,211.3 140.2,212 138.6,212.4 137,212.7 135.3,212.9" stroke="#b8b8b8" stroke-width="0.4"/><path d="M153.8,206 152.4,206.4 151,206.7 149.5,206.9 148.1,207.2 146.7,207.7 145.4,208.6 144.1,209.5 142.8,210.2 141.5,210.8 140,211.1 138.5,211.3 137,211.3" stroke="#b8b8b8" stroke-width="0.4"/><path d="M153.8,205.9 152.3,206.2 150.8,206.4 149.3,206.5 147.8,206.8 146.3,207.3 145,208.1 143.6,208.9 142.3,209.6 140.9,210.1 139.4,210.4 137.8,210.5 136.2,210.5" stroke="#b8b8b8" stroke-width="0.4"/><path d="M153.8,205.7 152,206 150.3,206.2 148.5,206.3 146.8,206.5 145.1,207.1 143.5,207.8 142,208.7 140.4,209.4 138.7,209.9 137,210.2 135.2,210.3 133.4,210.3" stroke="#b8b8b8" stroke-width="0.4"/><path d="M153.7,205.6 152,205.8 150.3,205.9 148.6,205.9 146.9,206 145.2,206.5 143.7,207.2 142.1,207.9 140.6,208.6 138.9,209 137.2,209.2 135.5,209.2 133.7,209.2" stroke="#b8b8b8" stroke-width="0.4"/><path d="M162,204 160.1,203.5 158.2,203.2 156.3,202.7 154.4,202" stroke="#a8a8a8" stroke-width="0.5"/><path d="M154.3,202.3 153,202.2 151.7,202.1 150.5,201.9 149.4,201.3 148.2,200.9 146.8,201 145.4,201.4 144.1,201.7 142.8,201.6 141.6,201.1 140.5,200.5 139.2,200.4 138.8,196.2 140.1,196.6 141.4,197.4 142.6,198.2 143.9,198.6 145.3,198.6 146.8,198.5 148.2,198.7 149.4,199.4 150.6,200.3 151.9,200.9 153.2,201.2 154.5,201.7Z" fill="#d6d6d6" stroke="none"/><path d="M154.3,202.3 153,202.2 151.7,202.1 150.5,201.9 149.4,201.3 148.2,200.9 146.8,201 145.4,201.4 144.1,201.7 142.8,201.6 141.6,201.1 140.5,200.5 139.2,200.4" stroke="#a8a8a8" stroke-width="0.4"/><path d="M154.4,202.1 153,201.9 151.7,201.8 150.4,201.4 149.1,200.8 147.9,200.3 146.5,200.3 145,200.6 143.6,200.8 142.2,200.6 141,200 139.7,199.4 138.4,199.2" stroke="#a8a8a8" stroke-width="0.4"/><path d="M154.4,202 153.1,201.7 151.8,201.5 150.6,201.1 149.4,200.4 148.2,199.8 146.8,199.7 145.4,200 144,200.2 142.7,199.9 141.5,199.3 140.3,198.6 139,198.3" stroke="#a8a8a8" stroke-width="0.4"/><path d="M154.5,201.8 153.1,201.5 151.7,201.1 150.4,200.6 149.1,199.8 147.8,199.1 146.3,199 144.8,199.2 143.3,199.3 141.9,198.9 140.6,198.2 139.3,197.4 137.9,197.1" stroke="#a8a8a8" stroke-width="0.4"/><path d="M154.5,201.7 153.2,201.2 151.9,200.9 150.6,200.3 149.4,199.4 148.2,198.7 146.8,198.5 145.3,198.6 143.9,198.6 142.6,198.2 141.4,197.4 140.1,196.6 138.8,196.2" stroke="#a8a8a8" stroke-width="0.4"/><path d="M162,204 160.2,204.2 158.4,204.3 156.6,204.5 154.8,204.8" stroke="#d8b036" stroke-width="0.5"/><path d="M154.8,205.1 153.5,205.5 152.2,205.6 150.9,205.6 149.5,205.7 148.2,206 147,206.6 145.7,207.3 144.4,208 143.2,208.6 141.9,208.9 140.5,209 139.2,208.8 140,204.7 141.3,205.1 142.5,205.3 143.7,205.3 144.9,205 146.1,204.6 147.3,204.1 148.5,203.8 149.7,203.8 151,204 152.2,204.3 153.5,204.5 154.7,204.5Z" fill="#dfc068" stroke="none"/><path d="M154.8,205.1 153.5,205.5 152.2,205.6 150.9,205.6 149.5,205.7 148.2,206 147,206.6 145.7,207.3 144.4,208 143.2,208.6 141.9,208.9 140.5,209 139.2,208.8" stroke="#d8b036" stroke-width="0.4"/><path d="M154.8,205 153.4,205.2 152,205.3 150.6,205.3 149.2,205.3 147.8,205.5 146.5,206.1 145.2,206.7 143.8,207.4 142.5,207.8 141.1,208.1 139.7,208.1 138.3,207.9" stroke="#d8b036" stroke-width="0.4"/><path d="M154.8,204.8 153.5,205 152.2,205 150.9,204.8 149.6,204.8 148.3,204.9 147.1,205.4 145.8,206 144.6,206.5 143.4,206.9 142.1,207.1 140.8,207.1 139.5,206.8" stroke="#d8b036" stroke-width="0.4"/><path d="M154.7,204.7 153.3,204.8 151.8,204.7 150.3,204.5 148.8,204.4 147.3,204.5 145.9,204.9 144.5,205.4 143.1,206 141.7,206.3 140.2,206.4 138.7,206.3 137.2,206" stroke="#d8b036" stroke-width="0.4"/><path d="M154.7,204.5 153.5,204.5 152.2,204.3 151,204 149.7,203.8 148.5,203.8 147.3,204.1 146.1,204.6 144.9,205 143.7,205.3 142.5,205.3 141.3,205.1 140,204.7" stroke="#d8b036" stroke-width="0.4"/><path d="M162,204 160.1,204.9 158.3,206 156.6,207.2 154.9,208.5" stroke="#a8a8a8" stroke-width="0.5"/><path d="M155.1,208.8 153.8,210 152.3,211 150.8,211.8 149.4,212.9 148.2,214.4 147.2,216 146,217.3 144.5,218.2 142.8,218.8 141.2,219.6 140,220.9 139,222.5 137,217.8 138.1,216.5 139.5,215.5 141.2,215 143,214.7 144.7,214.2 146,213.2 147.2,211.9 148.4,210.7 149.9,210 151.6,209.6 153.2,209 154.7,208.2Z" fill="#dedede" stroke="none"/><path d="M155.1,208.8 153.8,210 152.3,211 150.8,211.8 149.4,212.9 148.2,214.4 147.2,216 146,217.3 144.5,218.2 142.8,218.8 141.2,219.6 140,220.9 139,222.5" stroke="#a8a8a8" stroke-width="0.4"/><path d="M155,208.6 153.5,209.7 151.9,210.6 150.2,211.4 148.7,212.4 147.5,213.8 146.3,215.4 145,216.7 143.3,217.5 141.5,218.1 139.8,218.8 138.4,220.1 137.3,221.7" stroke="#a8a8a8" stroke-width="0.4"/><path d="M154.9,208.4 153.3,209.4 151.7,210.2 149.9,210.8 148.3,211.7 147,213 145.8,214.5 144.4,215.7 142.7,216.4 140.8,216.9 139.1,217.6 137.6,218.7 136.5,220.2" stroke="#a8a8a8" stroke-width="0.4"/><path d="M154.7,208.2 153.2,209 151.6,209.6 149.9,210 148.4,210.7 147.2,211.9 146,213.2 144.7,214.2 143,214.7 141.2,215 139.5,215.5 138.1,216.5 137,217.8" stroke="#a8a8a8" stroke-width="0.4"/><path d="M162,204 160.8,205.6 159.6,207.1 158.2,208.5 156.7,209.8" stroke="#b8b8b8" stroke-width="0.5"/><path d="M157,210 156.2,211.1 155.3,212.1 154.4,213.1 153.5,214.1 152.8,215.3 152.1,216.6 151.4,217.8 150.5,218.8 149.5,219.8 148.4,220.6 147.2,221.2 146,221.9 141.2,219.4 142.8,218.9 144.3,218.4 145.7,217.8 147,217 148.2,216.1 149.3,215.1 150.3,214 151.4,213 152.6,212.1 153.9,211.2 155.2,210.4 156.4,209.5Z" fill="#d0d0d0" stroke="none"/><path d="M157,210 156.2,211.1 155.3,212.1 154.4,213.1 153.5,214.1 152.8,215.3 152.1,216.6 151.4,217.8 150.5,218.8 149.5,219.8 148.4,220.6 147.2,221.2 146,221.9" stroke="#b8b8b8" stroke-width="0.4"/><path d="M156.9,209.9 156,211 155,211.9 154,212.9 153.1,213.9 152.3,215.1 151.5,216.3 150.7,217.5 149.8,218.5 148.7,219.4 147.5,220.2 146.3,220.8 144.9,221.4" stroke="#b8b8b8" stroke-width="0.4"/><path d="M156.7,209.8 155.8,210.8 154.7,211.8 153.6,212.7 152.6,213.7 151.7,214.8 150.9,216 150,217.2 149,218.2 147.9,219.1 146.6,219.8 145.3,220.5 143.9,221" stroke="#b8b8b8" stroke-width="0.4"/><path d="M156.6,209.7 155.6,210.7 154.5,211.5 153.4,212.4 152.3,213.3 151.4,214.4 150.6,215.5 149.7,216.6 148.7,217.6 147.5,218.4 146.2,219 144.9,219.6 143.5,220.1" stroke="#b8b8b8" stroke-width="0.4"/><path d="M156.5,209.6 155.3,210.6 154,211.6 152.7,212.5 151.5,213.5 150.4,214.6 149.4,215.8 148.3,216.9 147.2,218 145.8,218.8 144.4,219.5 142.8,220.1 141.2,220.7" stroke="#b8b8b8" stroke-width="0.4"/><path d="M156.4,209.5 155.2,210.4 153.9,211.2 152.6,212.1 151.4,213 150.3,214 149.3,215.1 148.2,216.1 147,217 145.7,217.8 144.3,218.4 142.8,218.9 141.2,219.4" stroke="#b8b8b8" stroke-width="0.4"/><path d="M162,204 161.7,206.1 161.2,208.1 160.6,210.2 160.3,212.2" stroke="#d8b036" stroke-width="0.5"/><path d="M160.7,212.3 160.6,214.2 160.5,216 160.6,217.9 160.8,219.8 160.9,221.7 160.7,223.6 160.4,225.4 160.1,227.2 159.7,229 159.4,230.9 159.3,232.7 159.4,234.6 153.7,232.5 154,230.8 154.4,229.1 155.1,227.4 155.8,225.7 156.6,224.1 157.2,222.4 157.8,220.7 158.1,219 158.3,217.2 158.7,215.5 159.2,213.8 159.8,212.1Z" fill="#ead69a" stroke="none"/><path d="M160.7,212.3 160.6,214.2 160.5,216 160.6,217.9 160.8,219.8 160.9,221.7 160.7,223.6 160.4,225.4 160.1,227.2 159.7,229 159.4,230.9 159.3,232.7 159.4,234.6" stroke="#d8b036" stroke-width="0.4"/><path d="M160.4,212.2 160.2,213.8 160,215.4 160,217 160.1,218.6 160.1,220.1 159.8,221.7 159.4,223.2 159,224.7 158.5,226.2 158.2,227.8 158,229.3 158,230.9" stroke="#d8b036" stroke-width="0.4"/><path d="M160.1,212.2 159.6,213.9 159.3,215.7 159.1,217.5 159,219.3 158.8,221.1 158.4,222.8 157.8,224.5 157.2,226.3 156.6,228 156.1,229.7 155.7,231.5 155.6,233.3" stroke="#d8b036" stroke-width="0.4"/><path d="M159.8,212.1 159.2,213.8 158.7,215.5 158.3,217.2 158.1,219 157.8,220.7 157.2,222.4 156.6,224.1 155.8,225.7 155.1,227.4 154.4,229.1 154,230.8 153.7,232.5" stroke="#d8b036" stroke-width="0.4"/><path d="M162,204 162.2,205.8 162.5,207.6 162.6,209.4 162.8,211.2 163,212.9 163.2,214.7" stroke="#d8b036" stroke-width="0.5"/><path d="M163.2,214.7 163.4,215.8 163.9,216.9 164.3,218 164.3,219.1 163.9,220.3 163.3,221.5 162.9,222.6 162.7,223.7 162.8,224.9 163.2,226" stroke="#d8b036" stroke-width="0.5"/><path d="M162.7,223.7 162.5,224.6 161.9,225.3 161.5,226 161.4,226.9 161.4,227.8" stroke="#d8b036" stroke-width="0.45"/><path d="M162,204 162.5,205.9 163.2,207.7 164.1,209.5 164.9,211.3" stroke="#a8a8a8" stroke-width="0.5"/><path d="M165.2,211.2 165.6,212.6 166.2,214 166.9,215.3 167.7,216.6 168.6,217.9 169.2,219.3 169.5,220.8 169.7,222.3 169.7,223.9 169.7,225.4 169.9,226.9 170.3,228.4 167.5,229.4 167.3,227.9 167.3,226.3 167.4,224.7 167.6,223.1 167.6,221.5 167.5,220 167.1,218.5 166.4,217.2 165.8,215.8 165.3,214.4 165,212.9 164.7,211.3Z" fill="#d6d6d6" stroke="none"/><path d="M165.2,211.2 165.6,212.6 166.2,214 166.9,215.3 167.7,216.6 168.6,217.9 169.2,219.3 169.5,220.8 169.7,222.3 169.7,223.9 169.7,225.4 169.9,226.9 170.3,228.4" stroke="#a8a8a8" stroke-width="0.4"/><path d="M165,211.2 165.3,212.5 165.7,213.7 166.3,214.8 167,215.9 167.7,217 168.2,218.2 168.4,219.4 168.4,220.7 168.3,222.1 168.3,223.4 168.3,224.7 168.6,225.9" stroke="#a8a8a8" stroke-width="0.4"/><path d="M164.9,211.3 165.1,212.6 165.4,213.8 165.9,214.9 166.6,216.1 167.2,217.2 167.6,218.4 167.8,219.7 167.7,221 167.6,222.4 167.4,223.7 167.4,225 167.7,226.2" stroke="#a8a8a8" stroke-width="0.4"/><path d="M164.7,211.3 165,212.9 165.3,214.4 165.8,215.8 166.4,217.2 167.1,218.5 167.5,220 167.6,221.5 167.6,223.1 167.4,224.7 167.3,226.3 167.3,227.9 167.5,229.4" stroke="#a8a8a8" stroke-width="0.4"/><path d="M162,204 169,202 176,200.3 183.1,198.7 190.2,197.2" stroke="#a8a8a8" stroke-width="0.5"/><path d="M190.1,197 192,196.5 193.9,196.3 195.9,195.9 197.7,195.2 199.3,194 201,192.8 202.8,192 204.7,191.7 206.8,191.8 208.8,192 210.7,191.8 212.6,191.1 212.1,193.8 210.4,194.3 208.5,194.3 206.5,194 204.5,193.7 202.6,193.8 200.9,194.4 199.2,195.4 197.6,196.4 195.8,197 194,197.1 192.1,197.1 190.2,197.4Z" fill="#dedede" stroke="none"/><path d="M190.1,197 192,196.5 193.9,196.3 195.9,195.9 197.7,195.2 199.3,194 201,192.8 202.8,192 204.7,191.7 206.8,191.8 208.8,192 210.7,191.8 212.6,191.1" stroke="#a8a8a8" stroke-width="0.4"/><path d="M190.2,197.2 192.2,196.8 194.3,196.6 196.4,196.3 198.4,195.6 200.3,194.4 202.1,193.3 204.1,192.5 206.2,192.3 208.4,192.5 210.6,192.6 212.7,192.5 214.7,191.8" stroke="#a8a8a8" stroke-width="0.4"/><path d="M190.2,197.4 192.1,197.1 194,197.1 195.8,197 197.6,196.4 199.2,195.4 200.9,194.4 202.6,193.8 204.5,193.7 206.5,194 208.5,194.3 210.4,194.3 212.1,193.8" stroke="#a8a8a8" stroke-width="0.4"/><path d="M162,204 169.5,203.6 177,202.9 184.4,202 191.9,201.2" stroke="#a8a8a8" stroke-width="0.5"/><path d="M191.9,201 194,200.9 196.1,200.8 198.1,200.4 200.2,199.7 202.3,199.2 204.4,199.3 206.5,199.8 208.6,200.2 210.8,200.2 212.8,199.8 214.9,199.1 217,198.7 215.7,200.7 213.7,201 211.8,201.5 209.8,201.9 207.8,201.8 205.8,201.2 203.8,200.6 201.8,200.3 199.8,200.7 197.8,201.2 195.9,201.4 193.9,201.4 191.9,201.3Z" fill="#dedede" stroke="none"/><path d="M191.9,201 194,200.9 196.1,200.8 198.1,200.4 200.2,199.7 202.3,199.2 204.4,199.3 206.5,199.8 208.6,200.2 210.8,200.2 212.8,199.8 214.9,199.1 217,198.7" stroke="#a8a8a8" stroke-width="0.4"/><path d="M191.9,201.2 193.8,201.1 195.8,201.1 197.7,200.8 199.7,200.2 201.6,199.8 203.6,200 205.6,200.5 207.6,201 209.5,201.1 211.5,200.7 213.4,200.1 215.4,199.7" stroke="#a8a8a8" stroke-width="0.4"/><path d="M191.9,201.3 193.9,201.4 195.9,201.4 197.8,201.2 199.8,200.7 201.8,200.3 203.8,200.6 205.8,201.2 207.8,201.8 209.8,201.9 211.8,201.5 213.7,201 215.7,200.7" stroke="#a8a8a8" stroke-width="0.4"/><path d="M162,204 169.2,204.7 176.4,205.3 183.7,205.6 190.9,205.9" stroke="#a8a8a8" stroke-width="0.5"/><path d="M190.9,205.7 193.2,205.8 195.4,206 197.6,206.2 199.8,205.9 202,205.2 204.2,204.3 206.4,203.6 208.6,203.4 210.8,203.4 213,203.5 215.2,203.4 217.4,202.9 217,205.4 214.8,205.8 212.6,205.7 210.4,205.4 208.3,205.2 206.1,205.3 203.9,205.8 201.8,206.5 199.6,207.1 197.4,207.2 195.2,206.8 193.1,206.4 190.9,206.1Z" fill="#d6d6d6" stroke="none"/><path d="M190.9,205.7 193.2,205.8 195.4,206 197.6,206.2 199.8,205.9 202,205.2 204.2,204.3 206.4,203.6 208.6,203.4 210.8,203.4 213,203.5 215.2,203.4 217.4,202.9" stroke="#a8a8a8" stroke-width="0.4"/><path d="M190.9,205.9 193.3,206.1 195.6,206.5 198,206.7 200.3,206.5 202.7,205.9 205,205 207.3,204.4 209.7,204.2 212,204.3 214.4,204.5 216.8,204.5 219.1,203.9" stroke="#a8a8a8" stroke-width="0.4"/><path d="M190.9,206.1 193.1,206.4 195.2,206.8 197.4,207.2 199.6,207.1 201.8,206.5 203.9,205.8 206.1,205.3 208.3,205.2 210.4,205.4 212.6,205.7 214.8,205.8 217,205.4" stroke="#a8a8a8" stroke-width="0.4"/><path d="M162,204 168.8,205.5 175.6,207.3 182.4,209 189.2,210.5" stroke="#a8a8a8" stroke-width="0.5"/><path d="M189.3,210.4 191.3,210.8 193.4,211 195.5,211.2 197.5,211.7 199.4,212.7 201.1,214.1 202.8,215.4 204.7,216.4 206.7,216.9 208.8,217.2 210.9,217.6 212.9,218.3 210.1,219.3 208.3,218.6 206.4,218.2 204.6,217.8 202.8,217.3 201.2,216.3 199.7,214.9 198.2,213.4 196.5,212.3 194.7,211.8 192.9,211.5 191,211.2 189.2,210.7Z" fill="#dedede" stroke="none"/><path d="M189.3,210.4 191.3,210.8 193.4,211 195.5,211.2 197.5,211.7 199.4,212.7 201.1,214.1 202.8,215.4 204.7,216.4 206.7,216.9 208.8,217.2 210.9,217.6 212.9,218.3" stroke="#a8a8a8" stroke-width="0.4"/><path d="M189.2,210.5 191.2,211 193.2,211.3 195.3,211.5 197.2,212.1 199,213.1 200.7,214.6 202.4,215.9 204.2,217 206.1,217.5 208.1,217.9 210.1,218.3 212,219" stroke="#a8a8a8" stroke-width="0.4"/><path d="M189.2,210.7 191,211.2 192.9,211.5 194.7,211.8 196.5,212.3 198.2,213.4 199.7,214.9 201.2,216.3 202.8,217.3 204.6,217.8 206.4,218.2 208.3,218.6 210.1,219.3" stroke="#a8a8a8" stroke-width="0.4"/><path d="M162,204 168,206.5 174,209.1 180,211.6 186.1,213.9" stroke="#a8a8a8" stroke-width="0.5"/><path d="M186.1,213.7 187.8,214.2 189.4,215 190.9,216 192.4,217 194,217.7 195.8,218 197.6,218.4 199.3,219 200.8,220 202.1,221.3 203.2,222.9 204.4,224.4 204.2,227.3 203.1,225.6 202,223.8 200.7,222.3 199.2,221.1 197.5,220.3 195.7,219.7 193.9,219.1 192.3,218.2 190.8,217 189.3,215.8 187.7,214.8 186,214Z" fill="#d6d6d6" stroke="none"/><path d="M186.1,213.7 187.8,214.2 189.4,215 190.9,216 192.4,217 194,217.7 195.8,218 197.6,218.4 199.3,219 200.8,220 202.1,221.3 203.2,222.9 204.4,224.4" stroke="#a8a8a8" stroke-width="0.4"/><path d="M186.1,213.8 187.8,214.4 189.4,215.3 190.8,216.3 192.3,217.4 193.9,218.2 195.7,218.6 197.5,219 199.2,219.7 200.7,220.7 202,222.1 203.1,223.7 204.2,225.3" stroke="#a8a8a8" stroke-width="0.4"/><path d="M186,213.9 187.7,214.6 189.3,215.5 190.7,216.7 192.2,217.8 193.8,218.6 195.6,219.1 197.3,219.5 199,220.3 200.5,221.4 201.7,222.8 202.8,224.5 203.9,226.1" stroke="#a8a8a8" stroke-width="0.4"/><path d="M186,214 187.7,214.8 189.3,215.8 190.8,217 192.3,218.2 193.9,219.1 195.7,219.7 197.5,220.3 199.2,221.1 200.7,222.3 202,223.8 203.1,225.6 204.2,227.3" stroke="#a8a8a8" stroke-width="0.4"/><path d="M162,204 166.8,207.1 171.5,210.5 176.2,213.9 180.9,217.1" stroke="#a8a8a8" stroke-width="0.5"/><path d="M181,217 182.6,217.7 184.2,218.4 185.7,219.3 187.2,220.2 188.5,221.3 190,222.3 191.6,223 193.3,223.5 195.1,223.8 197,223.9 198.9,224 200.7,224.1 198.5,225.3 196.8,225.1 195.1,224.9 193.3,224.7 191.7,224.4 190.1,223.8 188.7,223 187.4,221.9 186.2,220.8 185,219.7 183.6,218.8 182.2,218 180.8,217.2Z" fill="#dedede" stroke="none"/><path d="M181,217 182.6,217.7 184.2,218.4 185.7,219.3 187.2,220.2 188.5,221.3 190,222.3 191.6,223 193.3,223.5 195.1,223.8 197,223.9 198.9,224 200.7,224.1" stroke="#a8a8a8" stroke-width="0.4"/><path d="M180.9,217.1 182.5,217.9 184.1,218.8 185.6,219.7 187.1,220.7 188.5,221.9 190,223 191.6,223.8 193.3,224.4 195.2,224.7 197.1,224.9 199,225.1 200.8,225.3" stroke="#a8a8a8" stroke-width="0.4"/><path d="M180.8,217.2 182.2,218 183.6,218.8 185,219.7 186.2,220.8 187.4,221.9 188.7,223 190.1,223.8 191.7,224.4 193.3,224.7 195.1,224.9 196.8,225.1 198.5,225.3" stroke="#a8a8a8" stroke-width="0.4"/><path d="M162,204 165,207.7 168.1,211.3 171.4,214.7 174.8,218.1" stroke="#a8a8a8" stroke-width="0.5"/><path d="M174.9,218 175.9,218.8 177,219.6 178.1,220.5 178.9,221.6 179.4,222.9 179.9,224.3 180.6,225.4 181.6,226.3 182.8,227.1 184.1,227.7 185.2,228.5 186.1,229.6 185.3,231.8 184.5,230.6 183.4,229.7 182.1,228.8 180.9,227.9 180,226.9 179.3,225.5 178.9,224 178.4,222.5 177.7,221.3 176.7,220.2 175.6,219.2 174.7,218.2Z" fill="#d6d6d6" stroke="none"/><path d="M174.9,218 175.9,218.8 177,219.6 178.1,220.5 178.9,221.6 179.4,222.9 179.9,224.3 180.6,225.4 181.6,226.3 182.8,227.1 184.1,227.7 185.2,228.5 186.1,229.6" stroke="#a8a8a8" stroke-width="0.4"/><path d="M174.8,218.1 175.8,219 176.9,219.9 177.9,220.9 178.7,222.1 179.2,223.5 179.6,225 180.3,226.2 181.3,227.2 182.5,228 183.8,228.8 185,229.7 185.8,230.8" stroke="#a8a8a8" stroke-width="0.4"/><path d="M174.7,218.2 175.6,219.2 176.7,220.2 177.7,221.3 178.4,222.5 178.9,224 179.3,225.5 180,226.9 180.9,227.9 182.1,228.8 183.4,229.7 184.5,230.6 185.3,231.8" stroke="#a8a8a8" stroke-width="0.4"/><path d="M91,191 93.1,188.8 95.3,186.9 97.7,185 100.1,183.2" stroke="#b8b8b8" stroke-width="0.45"/><path d="M99.9,183 101.1,181 102.4,179.1 103.9,177.3 105.5,175.6 107,173.9 108,171.7 108.6,169.3 109.3,167 110.3,164.8 111.6,163 113.2,161.3 114.8,159.5 115.2,163.4 113.7,164.9 112,166.3 110.7,167.9 109.7,169.7 109,171.7 108.3,173.8 107.4,175.7 105.9,177.2 104.2,178.5 102.7,180 101.4,181.6 100.2,183.3Z" fill="#d6d6d6" stroke="none"/><path d="M99.9,183 101.1,181 102.4,179.1 103.9,177.3 105.5,175.6 107,173.9 108,171.7 108.6,169.3 109.3,167 110.3,164.8 111.6,163 113.2,161.3 114.8,159.5" stroke="#b8b8b8" stroke-width="0.36000000000000004"/><path d="M100.1,183.2 101.2,181.4 102.4,179.6 103.9,178.1 105.5,176.6 107,175.1 107.9,173.1 108.5,171 109.1,168.8 110.1,166.9 111.4,165.3 113,163.8 114.5,162.2" stroke="#b8b8b8" stroke-width="0.36000000000000004"/><path d="M100.2,183.3 101.4,181.6 102.7,180 104.2,178.5 105.9,177.2 107.4,175.7 108.3,173.8 109,171.7 109.7,169.7 110.7,167.9 112,166.3 113.7,164.9 115.2,163.4" stroke="#b8b8b8" stroke-width="0.36000000000000004"/><path d="M100,183 101.4,181.9 102.8,181 104.3,180.1 105.8,179.2 107.1,178 108.2,176.6 109.4,175.2 110.7,174 112.1,173.1 113.6,172.2 115.1,171.2 116.4,170.1 119.9,170.6 118.4,171.7 116.6,172.7 114.9,173.6 113.2,174.6 111.6,175.7 110.1,177.1 108.7,178.5 107.2,179.7 105.4,180.6 103.6,181.4 101.9,182.3 100.2,183.3Z" fill="#e4e4e4" stroke="none"/><path d="M100,183 101.4,181.9 102.8,181 104.3,180.1 105.8,179.2 107.1,178 108.2,176.6 109.4,175.2 110.7,174 112.1,173.1 113.6,172.2 115.1,171.2 116.4,170.1" stroke="#b8b8b8" stroke-width="0.36000000000000004"/><path d="M100.1,183.2 101.5,182.2 103,181.4 104.5,180.6 106,179.8 107.3,178.7 108.4,177.3 109.6,176.1 110.9,175 112.4,174.1 113.9,173.3 115.4,172.5 116.7,171.4" stroke="#b8b8b8" stroke-width="0.36000000000000004"/><path d="M100.2,183.3 101.9,182.3 103.6,181.4 105.4,180.6 107.2,179.7 108.7,178.5 110.1,177.1 111.6,175.7 113.2,174.6 114.9,173.6 116.6,172.7 118.4,171.7 119.9,170.6" stroke="#b8b8b8" stroke-width="0.36000000000000004"/><path d="M91,191 92.3,188.5 94,186.1 95.7,183.8 97.3,181.5" stroke="#b8b8b8" stroke-width="0.45"/><path d="M97.2,181.4 98.3,179.6 99.3,177.7 100.2,175.7 101.1,173.8 102.3,172 103.9,170.5 105.7,169.1 107.4,167.7 108.9,166.2 110.2,164.5 111.4,162.7 112.4,160.8 115.1,160.7 113.8,162.6 112.5,164.4 111,166.1 109.2,167.7 107.3,169.1 105.4,170.5 103.6,172 102.2,173.8 101.1,175.8 100,177.8 98.8,179.7 97.4,181.6Z" fill="#e4e4e4" stroke="none"/><path d="M97.2,181.4 98.3,179.6 99.3,177.7 100.2,175.7 101.1,173.8 102.3,172 103.9,170.5 105.7,169.1 107.4,167.7 108.9,166.2 110.2,164.5 111.4,162.7 112.4,160.8" stroke="#b8b8b8" stroke-width="0.36000000000000004"/><path d="M97.2,181.5 98.5,179.5 99.7,177.5 100.7,175.4 101.8,173.3 103.1,171.4 104.9,169.8 106.8,168.3 108.6,166.8 110.3,165.2 111.8,163.4 113.1,161.5 114.3,159.5" stroke="#b8b8b8" stroke-width="0.36000000000000004"/><path d="M97.3,181.5 98.6,179.7 99.7,177.8 100.7,175.9 101.7,173.9 103.1,172.2 104.8,170.7 106.6,169.3 108.4,167.9 110,166.5 111.5,164.8 112.7,163 113.8,161.1" stroke="#b8b8b8" stroke-width="0.36000000000000004"/><path d="M97.4,181.6 98.8,179.7 100,177.8 101.1,175.8 102.2,173.8 103.6,172 105.4,170.5 107.3,169.1 109.2,167.7 111,166.1 112.5,164.4 113.8,162.6 115.1,160.7" stroke="#b8b8b8" stroke-width="0.36000000000000004"/><path d="M91,191 93.2,189.8 95.3,188.3 97.5,186.9 99.7,185.7" stroke="#b8b8b8" stroke-width="0.45"/><path d="M99.6,185.5 101,184.5 102.4,183.6 104,182.9 105.6,182.5 107.2,181.9 108.6,180.8 109.8,179.5 111,178.2 112.4,177.2 114,176.6 115.8,176.3 117.6,176.1 118.6,177.8 116.8,177.9 115,178.1 113.3,178.6 111.8,179.5 110.5,180.6 109.2,181.8 107.8,182.8 106.1,183.2 104.4,183.6 102.7,184.1 101.2,184.9 99.8,185.8Z" fill="#d6d6d6" stroke="none"/><path d="M99.6,185.5 101,184.5 102.4,183.6 104,182.9 105.6,182.5 107.2,181.9 108.6,180.8 109.8,179.5 111,178.2 112.4,177.2 114,176.6 115.8,176.3 117.6,176.1" stroke="#b8b8b8" stroke-width="0.36000000000000004"/><path d="M99.7,185.6 101.2,184.5 102.8,183.6 104.6,182.9 106.5,182.3 108.3,181.7 109.8,180.6 111.2,179.2 112.6,177.9 114.2,176.9 116,176.2 118,175.9 119.9,175.6" stroke="#b8b8b8" stroke-width="0.36000000000000004"/><path d="M99.7,185.7 101.2,184.7 102.8,183.8 104.5,183.2 106.3,182.8 108.1,182.2 109.6,181.2 110.9,179.9 112.3,178.7 113.8,177.7 115.5,177.1 117.4,176.9 119.3,176.7" stroke="#b8b8b8" stroke-width="0.36000000000000004"/><path d="M99.8,185.8 101.2,184.9 102.7,184.1 104.4,183.6 106.1,183.2 107.8,182.8 109.2,181.8 110.5,180.6 111.8,179.5 113.3,178.6 115,178.1 116.8,177.9 118.6,177.8" stroke="#b8b8b8" stroke-width="0.36000000000000004"/><path d="M91,191 91.3,188.6 91.4,186.2 91.4,183.8 91.3,181.4 91.3,179 91.3,176.6" stroke="#a8a8a8" stroke-width="0.45"/><path d="M91.3,176.6 90.8,174.8 90.3,173 90,171.1 90.1,169.2 90.4,167.3 90.7,165.3 90.9,163.4 90.9,161.6 90.7,159.7 90.5,157.8" stroke="#a8a8a8" stroke-width="0.45"/><path d="M90.1,169.2 90.5,167.8 91.1,166.5 91.3,165.1 91.3,163.6 91.4,162.2" stroke="#a8a8a8" stroke-width="0.405"/><path d="M91.3,176.6 91.9,174.9 92.6,173.2 93.2,171.5 93.6,169.8 93.8,168 94,166.2 94.3,164.5 94.7,162.7 95.3,161 96,159.3" stroke="#a8a8a8" stroke-width="0.45"/><path d="M91,191 90.1,189.5 89.3,187.8 88.5,186.2 87.7,184.6 86.8,183 85.9,181.5" stroke="#a8a8a8" stroke-width="0.45"/><path d="M85.9,181.5 85.3,180.3 84.5,179.1 83.7,178 83.1,176.7 82.8,175.3 82.6,173.9 82.3,172.5 81.8,171.3 81.2,170.1 80.4,168.9" stroke="#a8a8a8" stroke-width="0.45"/><path d="M81.8,171.3 82.2,170.2 82.1,169.1 82.1,168 82.2,166.9 82.7,165.9" stroke="#a8a8a8" stroke-width="0.405"/><path d="M91,191 89.5,190.3 87.9,189.7 86.4,189.2 84.9,188.5 83.5,187.6 82.1,186.6" stroke="#a8a8a8" stroke-width="0.45"/><path d="M82.1,186.6 81.1,186.2 80,185.9 79,185.5 78.1,185 77.1,184.4 76.1,183.9 75.1,183.5 74.1,183.1 73,182.9 71.9,182.8" stroke="#a8a8a8" stroke-width="0.45"/><path d="M79,185.5 78.5,184.9 78.4,184 78.1,183.3 77.6,182.7 76.9,182.1" stroke="#a8a8a8" stroke-width="0.405"/><path d="M91,191 89.5,191.4 88,191.6 86.5,191.3 85,190.9 83.5,190.9 82,191.3" stroke="#a8a8a8" stroke-width="0.45"/><path d="M82,191.3 81.1,191.4 80.2,191.2 79.2,191 78.3,190.8 77.4,190.9 76.5,191 75.5,191.3 74.6,191.6 73.7,191.8 72.8,191.8" stroke="#a8a8a8" stroke-width="0.45"/><path d="M76.5,191 75.9,190.5 75.3,190 74.5,189.8 73.7,189.6 73.1,189.2" stroke="#a8a8a8" stroke-width="0.405"/><path d="M91,191 89.6,191.9 88.3,192.9 86.8,193.7 85.4,194.4 83.9,195.2 82.5,196" stroke="#a8a8a8" stroke-width="0.45"/><path d="M82.5,196 81.6,196.6 80.8,197.3 80,198 79.1,198.5 78,198.8 76.9,199 75.9,199.3 74.9,199.7 74.1,200.3 73.2,201" stroke="#a8a8a8" stroke-width="0.45"/><path d="M79.1,198.5 78.3,198.6 77.5,198.4 76.6,198.4 75.8,198.7 75.1,199.1" stroke="#a8a8a8" stroke-width="0.405"/><path d="M91,191 89.9,192.6 88.9,194.3 88.2,196.1 87.5,198 86.7,199.8 85.8,201.5" stroke="#a8a8a8" stroke-width="0.45"/><path d="M85.8,201.5 85.3,202.6 84.8,203.8 84.6,205 84.4,206.2 84.1,207.4 83.8,208.6 83.5,209.8 83.1,211 82.7,212.1 82.3,213.3" stroke="#a8a8a8" stroke-width="0.45"/><path d="M91,191 90.6,193.5 90.3,196.1 90.1,198.6 90.1,201.2" stroke="#b8b8b8" stroke-width="0.45"/><path d="M90.3,201.2 90.3,202.8 90.1,204.4 89.9,206.1 89.9,207.7 90.1,209.3 90.3,211 90.4,212.7 90.2,214.3 89.9,215.9 89.4,217.5 89,219.1 88.7,220.7 85.9,218.5 86.4,217.1 87,215.7 87.6,214.3 88.2,212.8 88.5,211.4 88.6,209.9 88.5,208.4 88.6,206.9 88.8,205.5 89.2,204 89.6,202.6 89.9,201.1Z" fill="#e4e4e4" stroke="none"/><path d="M90.3,201.2 90.3,202.8 90.1,204.4 89.9,206.1 89.9,207.7 90.1,209.3 90.3,211 90.4,212.7 90.2,214.3 89.9,215.9 89.4,217.5 89,219.1 88.7,220.7" stroke="#b8b8b8" stroke-width="0.36000000000000004"/><path d="M90.2,201.2 90,202.9 89.8,204.7 89.5,206.4 89.4,208.2 89.5,210 89.6,211.8 89.6,213.5 89.4,215.3 88.9,217 88.4,218.7 87.8,220.4 87.5,222.2" stroke="#b8b8b8" stroke-width="0.36000000000000004"/><path d="M90,201.2 89.8,202.6 89.5,204.1 89.2,205.6 89,207.1 89.1,208.6 89.2,210.2 89.1,211.7 88.9,213.2 88.4,214.6 87.8,216.1 87.3,217.5 86.9,219" stroke="#b8b8b8" stroke-width="0.36000000000000004"/><path d="M89.9,201.1 89.6,202.6 89.2,204 88.8,205.5 88.6,206.9 88.5,208.4 88.6,209.9 88.5,211.4 88.2,212.8 87.6,214.3 87,215.7 86.4,217.1 85.9,218.5" stroke="#b8b8b8" stroke-width="0.36000000000000004"/><path d="M91,191 91.7,192.3 92.5,193.6 93.3,194.9 94,196.2 94.7,197.5 95.2,199" stroke="#a8a8a8" stroke-width="0.45"/><path d="M95.2,199 95.6,199.8 95.9,200.7 95.9,201.6 96,202.6 96.2,203.5 96.5,204.3 97,205.2 97.4,206 97.7,206.9 97.9,207.8" stroke="#a8a8a8" stroke-width="0.45"/><path d="M97,205.2 96.7,206 96.6,206.8 96.8,207.6 97,208.5 96.9,209.3" stroke="#a8a8a8" stroke-width="0.405"/><path d="M91,191 93.2,191.4 95.4,192 97.6,192.5 99.8,192.8" stroke="#b8b8b8" stroke-width="0.45"/><path d="M99.8,192.7 101.7,192.9 103.5,193.2 105.3,193.5 107.2,193.6 109.1,193.4 111,193.1 112.9,193 114.7,193.2 116.6,193.5 118.4,193.8 120.3,193.7 122.1,193.3 119.3,195.1 117.7,195.4 116,195.3 114.4,194.9 112.8,194.5 111.2,194.1 109.5,194.1 107.9,194.3 106.2,194.4 104.6,194.2 103,193.8 101.4,193.3 99.8,193Z" fill="#d6d6d6" stroke="none"/><path d="M99.8,192.7 101.7,192.9 103.5,193.2 105.3,193.5 107.2,193.6 109.1,193.4 111,193.1 112.9,193 114.7,193.2 116.6,193.5 118.4,193.8 120.3,193.7 122.1,193.3" stroke="#b8b8b8" stroke-width="0.36000000000000004"/><path d="M99.8,192.8 101.4,193.1 102.9,193.4 104.4,193.8 106,193.9 107.6,193.7 109.2,193.5 110.8,193.4 112.3,193.7 113.9,194.1 115.4,194.4 117,194.4 118.6,194.1" stroke="#b8b8b8" stroke-width="0.36000000000000004"/><path d="M99.8,193 101.4,193.3 103,193.8 104.6,194.2 106.2,194.4 107.9,194.3 109.5,194.1 111.2,194.1 112.8,194.5 114.4,194.9 116,195.3 117.7,195.4 119.3,195.1" stroke="#b8b8b8" stroke-width="0.36000000000000004"/><path d="M91,191 93,190.5 95,189.8 97,189 98.9,188.2 100.9,187.6 102.9,187" stroke="#a8a8a8" stroke-width="0.45"/><path d="M102.9,187 104.4,186.5 106,186 107.5,185.5 108.9,184.8 110.3,184 111.7,183.2 113.1,182.5 114.5,181.8 116,181.3 117.6,180.9" stroke="#a8a8a8" stroke-width="0.45"/><path d="M113.1,182.5 114.2,182.4 115.3,182.8 116.4,183 117.6,182.9 118.7,182.6" stroke="#a8a8a8" stroke-width="0.405"/><path d="M246,65 246.2,62.6 246.2,60.2 246.2,57.8 246.2,55.4 246.5,53 246.9,50.6" stroke="#a8a8a8" stroke-width="0.45"/><path d="M246.9,50.6 246.5,49.2 246.8,47.8 247.6,46.3 248,44.9 247.8,43.5 247.1,42.1 246.3,40.7 245.9,39.3 246.1,37.8 246.9,36.4" stroke="#a8a8a8" stroke-width="0.45"/><path d="M247.8,43.5 248.1,42.7 248.1,41.6 248.5,40.8 249.4,40.3 250.2,39.6" stroke="#a8a8a8" stroke-width="0.405"/><path d="M248,44.9 247.3,44 246.1,43.5 245,43.1 244.1,42.3 243.6,41.2" stroke="#a8a8a8" stroke-width="0.405"/><path d="M246.9,50.6 247.7,49.3 248.5,48 249.2,46.6 249.5,45.1 249.5,43.4 249.6,41.8 249.9,40.3 250.4,38.9 251.3,37.6 252.4,36.3" stroke="#a8a8a8" stroke-width="0.45"/><path d="M249.9,40.3 250.6,39.4 251.3,38.3 252.4,37.8 253.7,37.5 254.8,37" stroke="#a8a8a8" stroke-width="0.405"/><path d="M246,65 245.2,62.9 243.9,61 242,59.5 240.4,57.9 239.3,55.9 238.5,53.8" stroke="#a8a8a8" stroke-width="0.45"/><path d="M238.5,53.8 237.5,52.5 236.6,51 235.4,49.9 233.6,49.5 231.8,49.1 230.3,48.4 229.2,47.2 228.5,45.5 227.9,43.7 227.1,42.2" stroke="#a8a8a8" stroke-width="0.45"/><path d="M235.4,49.9 235.6,48.8 235.5,47.8 234.8,46.8 234.3,45.8 234.3,44.7" stroke="#a8a8a8" stroke-width="0.405"/><path d="M229.2,47.2 227.8,46.7 226.4,46.8 224.9,47 223.6,46.6 222.3,45.8" stroke="#a8a8a8" stroke-width="0.405"/><path d="M229.2,47.2 229,46.2 228.2,45.5 227.7,44.6 227.7,43.6 228,42.5" stroke="#a8a8a8" stroke-width="0.405"/><path d="M238.5,53.8 237.9,52.4 236.9,51.3 235.5,50.3 234.6,49.1 234,47.8 233.7,46.3 233.4,44.7 233.2,43.2 232.6,41.8 231.8,40.5" stroke="#a8a8a8" stroke-width="0.45"/><path d="M235.5,50.3 236.1,49.4 236.6,48.5 236.3,47.5 236.1,46.4 236.3,45.5" stroke="#a8a8a8" stroke-width="0.405"/><path d="M246,65 244.5,63.7 243,62.3 241.3,61.4 239.5,60.6 237.6,60 235.6,59.6" stroke="#a8a8a8" stroke-width="0.45"/><path d="M235.6,59.6 234.5,59.2 233.3,58.9 232.3,58.3 231.6,57.2 230.9,56.1 230.1,55.2 229,54.7 227.8,54.4 226.6,54.1 225.5,53.6" stroke="#a8a8a8" stroke-width="0.45"/><path d="M229,54.7 228.1,54.2 227.4,53.5 227.2,52.4 226.9,51.3 226.3,50.6" stroke="#a8a8a8" stroke-width="0.405"/><path d="M229,54.7 228.2,55.1 227.2,55 226.2,54.6 225.3,54.6 224.4,55.1" stroke="#a8a8a8" stroke-width="0.405"/><path d="M232.3,58.3 231.8,57.6 230.9,57.1 230.4,56.4 230.4,55.3 230.3,54.3" stroke="#a8a8a8" stroke-width="0.405"/><path d="M246,65 246.9,62.8 247.8,60.5 249.3,58.6 250.9,56.8 252.4,54.8 253.5,52.7" stroke="#a8a8a8" stroke-width="0.45"/><path d="M253.5,52.7 253.9,50.9 254.8,49.2 255.9,47.6 256.1,45.7 255.5,43.7 254.6,41.7 254.1,39.7 254.2,37.9 255,36.2 255.8,34.4" stroke="#a8a8a8" stroke-width="0.45"/><path d="M255.5,43.7 257,43 258.4,42.2 259.4,40.9 260.3,39.5 261.6,38.5" stroke="#a8a8a8" stroke-width="0.405"/><path d="M254.6,41.7 254.1,40.6 254,39.3 253.4,38.4 252.3,37.6 251.4,36.8" stroke="#a8a8a8" stroke-width="0.405"/><path d="M255.5,43.7 256.2,43.1 256.6,42.1 257.3,41.5 258.3,41.3 259.4,41.1" stroke="#a8a8a8" stroke-width="0.405"/><path d="M253.5,52.7 254.5,51 255.3,49.2 256.2,47.6 257.9,46.5 259.9,45.7 262,45.1 263.8,44.2 265.2,43 266.3,41.4 267.3,39.7" stroke="#a8a8a8" stroke-width="0.45"/><path d="M262,45.1 262.5,43.5 262.6,41.9 262.2,40.2 262.2,38.5 262.7,37" stroke="#a8a8a8" stroke-width="0.405"/><path d="M259.9,45.7 261.2,44.9 262.5,44.5 264,44.6 265.5,44.5 266.7,43.8" stroke="#a8a8a8" stroke-width="0.405"/><path d="M246,65 247.5,63.8 249,62.6 250.8,61.6 252.6,60.8 254.2,59.7 255.7,58.5" stroke="#a8a8a8" stroke-width="0.45"/><path d="M255.7,58.5 257.2,58 258.6,57.3 259.7,56.3 260.5,54.8 261.2,53.3 262.1,52 263.2,51 264.6,50.3 266,49.7 267.6,49.1" stroke="#a8a8a8" stroke-width="0.45"/><path d="M263.2,51 264.2,51.3 265.2,51 266.2,50.7 267.2,51 268.1,51.6" stroke="#a8a8a8" stroke-width="0.405"/><path d="M263.2,51 263.4,49.6 264.1,48.4 265,47.3 265.5,46 265.5,44.6" stroke="#a8a8a8" stroke-width="0.405"/><path d="M264.6,50.3 265.9,50.2 267.2,49.9 268.5,50.3 269.8,51 271,51.4" stroke="#a8a8a8" stroke-width="0.405"/><path d="M246,65 244.8,65.1 243.5,65.3 242.6,66.1 241.6,67 240.5,67.6 239.3,67.7" stroke="#a8a8a8" stroke-width="0.45"/><path d="M239.3,67.7 238.5,68 237.7,68.5 236.9,69.1 236,69.5 235.1,69.5 234.1,69.4 233.1,69.1 232.1,68.7 231.2,68.3 230.2,67.9" stroke="#a8a8a8" stroke-width="0.45"/><path d="M236,69.5 235.4,69.1 234.6,69.4 233.9,69.7 233.2,69.6 232.6,69.1" stroke="#a8a8a8" stroke-width="0.405"/><path d="M232.1,68.7 231.8,69.1 231.1,69.1 230.8,69.5 230.8,70.2 230.9,71" stroke="#a8a8a8" stroke-width="0.405"/><path d="M233.1,69.1 232.6,69 232,69.2 231.7,68.9 231.5,68.2 231.2,67.6" stroke="#a8a8a8" stroke-width="0.405"/><path d="M246,65 245.5,66.5 245.3,68 244.4,69.3 243.3,70.4 242.2,71.4 241,72.5" stroke="#a8a8a8" stroke-width="0.45"/><path d="M241,72.5 240.8,73.6 240.6,74.7 240.3,75.6 239.4,76.4 238.4,77 237.5,77.7 236.8,78.5 236.4,79.5 236.2,80.6 236.3,81.8" stroke="#a8a8a8" stroke-width="0.45"/><path d="M237.5,77.7 236.8,77.7 236.1,77.5 235.6,77.8 235.1,78.6 234.7,79.1" stroke="#a8a8a8" stroke-width="0.405"/><path d="M238.4,77 238.1,77.8 238,78.6 238.6,79.4 239.1,80.1 239.2,80.9" stroke="#a8a8a8" stroke-width="0.405"/><path d="M240.3,75.6 239.5,75.6 238.8,75.8 238.3,76.6 237.9,77.3 237.2,77.6" stroke="#a8a8a8" stroke-width="0.405"/><path d="M246,65 247.5,68.3 249.5,71.3 251.1,74.5 252.4,77.9 253.6,81.3 254.8,84.7" stroke="#a8a8a8" stroke-width="0.45"/><path d="M254.8,84.7 255.5,87.1 256.3,89.4 257.6,91.5 259.1,93.5 260.2,95.7 260.7,98.1 260.6,100.7 260.2,103.4 260,106 260.2,108.5" stroke="#a8a8a8" stroke-width="0.45"/><path d="M260.7,98.1 260.8,100 261,102 260.5,103.9 259.8,105.7 259.3,107.6" stroke="#a8a8a8" stroke-width="0.405"/><path d="M259.1,93.5 260.6,94.5 262.3,95.2 263.6,96.3 264.7,97.8 265.8,99.2" stroke="#a8a8a8" stroke-width="0.405"/><path d="M260.7,98.1 260.4,99.6 259.6,101 259.1,102.5 259.2,104.1 259.4,105.7" stroke="#a8a8a8" stroke-width="0.405"/><path d="M246,65 247.4,65.8 248.7,66.9 250.1,67.8 251.6,68.4 253.2,69 254.8,69.6" stroke="#a8a8a8" stroke-width="0.45"/><path d="M254.8,69.6 256,70 257.4,70.3 258.6,70.7 259.6,71.6 260.4,72.8 261,74.2 261.7,75.5 262.3,76.7 263.2,77.7 264.2,78.5" stroke="#a8a8a8" stroke-width="0.45"/><path d="M262.3,76.7 263.1,77.6 263.9,78.5 264.1,79.7 264,80.9 264.3,82.1" stroke="#a8a8a8" stroke-width="0.405"/><path d="M258.6,70.7 259.7,70.5 260.6,69.8 261.7,69.8 262.8,70.1 263.9,70.4" stroke="#a8a8a8" stroke-width="0.405"/><path d="M261.7,75.5 262.4,76 262.7,76.8 262.7,77.9 262.9,78.7 263.6,79.3" stroke="#a8a8a8" stroke-width="0.405"/><path d="M246,65 248.9,64.7 251.8,64.4 254.7,64.3 257.7,64.3" stroke="#a8a8a8" stroke-width="0.45"/><path d="M257.7,64 258.6,63.7 259.6,63.6 260.6,63.6 261.6,63.4 262.5,63 263.5,62.4 264.4,62 265.4,61.8 266.4,61.9 267.4,61.9 268.3,61.8 269.3,61.4 271.5,65.2 270.3,65.4 269.2,65.3 268,65 266.8,64.7 265.7,64.6 264.6,64.7 263.4,65 262.3,65.2 261.1,65.1 260,64.9 258.8,64.7 257.7,64.6Z" fill="#e4e4e4" stroke="none"/><path d="M257.7,64 258.6,63.7 259.6,63.6 260.6,63.6 261.6,63.4 262.5,63 263.5,62.4 264.4,62 265.4,61.8 266.4,61.9 267.4,61.9 268.3,61.8 269.3,61.4" stroke="#a8a8a8" stroke-width="0.36000000000000004"/><path d="M257.7,64.2 258.7,64 259.7,64 260.7,64 261.7,63.9 262.6,63.5 263.6,63 264.6,62.7 265.6,62.6 266.6,62.7 267.6,62.8 268.6,62.7 269.6,62.4" stroke="#a8a8a8" stroke-width="0.36000000000000004"/><path d="M257.7,64.3 258.8,64.2 259.9,64.3 261,64.3 262.1,64.3 263.2,64 264.3,63.6 265.4,63.3 266.5,63.2 267.6,63.4 268.7,63.6 269.8,63.5 270.9,63.2" stroke="#a8a8a8" stroke-width="0.36000000000000004"/><path d="M257.7,64.5 258.8,64.5 259.9,64.6 260.9,64.7 262,64.8 263.1,64.5 264.2,64.2 265.2,64 266.3,64 267.4,64.2 268.5,64.5 269.6,64.5 270.7,64.3" stroke="#a8a8a8" stroke-width="0.36000000000000004"/><path d="M257.7,64.6 258.8,64.7 260,64.9 261.1,65.1 262.3,65.2 263.4,65 264.6,64.7 265.7,64.6 266.8,64.7 268,65 269.2,65.3 270.3,65.4 271.5,65.2" stroke="#a8a8a8" stroke-width="0.36000000000000004"/><path d="M194,32 192.7,32.1 191.3,32 189.9,31.8 188.6,31.7" stroke="#a8a8a8" stroke-width="0.45"/><path d="M188.6,31.9 187.7,31.8 186.8,31.8 185.8,31.8 184.9,32 184,32.3 183.1,32.7 182.1,32.9 181.2,32.9 180.3,32.9 179.4,32.7 178.4,32.4 177.5,32.2 178.4,30.2 179.3,30.6 180.1,30.9 181,31.3 181.8,31.5 182.7,31.5 183.5,31.4 184.4,31.3 185.2,31.1 186.1,31 186.9,31.2 187.8,31.4 188.6,31.6Z" fill="#d0d0d0" stroke="none"/><path d="M188.6,31.9 187.7,31.8 186.8,31.8 185.8,31.8 184.9,32 184,32.3 183.1,32.7 182.1,32.9 181.2,32.9 180.3,32.9 179.4,32.7 178.4,32.4 177.5,32.2" stroke="#a8a8a8" stroke-width="0.36000000000000004"/><path d="M188.6,31.8 187.8,31.7 186.9,31.6 186.1,31.6 185.2,31.7 184.4,32 183.6,32.3 182.7,32.4 181.9,32.5 181.1,32.3 180.2,32.1 179.4,31.8 178.5,31.6" stroke="#a8a8a8" stroke-width="0.36000000000000004"/><path d="M188.6,31.7 187.7,31.5 186.8,31.4 186,31.3 185.1,31.4 184.2,31.6 183.3,31.9 182.4,32 181.5,32 180.7,31.8 179.8,31.5 178.9,31.2 178,30.9" stroke="#a8a8a8" stroke-width="0.36000000000000004"/><path d="M188.6,31.6 187.8,31.4 186.9,31.2 186.1,31 185.2,31.1 184.4,31.3 183.5,31.4 182.7,31.5 181.8,31.5 181,31.3 180.1,30.9 179.3,30.6 178.4,30.2" stroke="#a8a8a8" stroke-width="0.36000000000000004"/><path d="M194,32 192.8,31.8 191.7,31.4 190.6,30.9 189.5,30.4 188.4,29.9 187.2,29.6" stroke="#a8a8a8" stroke-width="0.45"/><path d="M187.2,29.6 186.3,29.5 185.3,29.4 184.5,28.9 183.6,28.3 182.8,28 181.8,27.9 180.8,28.2 179.8,28.5 178.8,28.7 177.9,28.5" stroke="#a8a8a8" stroke-width="0.45"/><path d="M179.8,28.5 179.6,27.9 179.2,27.4 178.6,27.2 178.1,26.9 177.8,26.4" stroke="#a8a8a8" stroke-width="0.405"/><path d="M194,32 193.2,32.9 192.6,34 192.2,35.1 191.7,36.2 190.9,37.1 189.9,37.9" stroke="#a8a8a8" stroke-width="0.45"/><path d="M189.9,37.9 189.3,38.6 188.8,39.4 188.5,40.3 188.3,41.3 188.1,42.2 187.8,43.1 187.4,43.9 187,44.7 186.4,45.5 185.9,46.2" stroke="#a8a8a8" stroke-width="0.45"/><path d="M194,32 193.3,32.7 192.6,33.1 191.6,33.3 190.7,33.5 189.9,33.9 189.1,34.4" stroke="#d8b036" stroke-width="0.45"/><path d="M189.1,34.4 188.7,34.8 188.4,35.4 187.9,35.7 187.2,35.6 186.5,35.6 185.9,35.8 185.6,36.3 185.4,37.1 185.2,37.8 184.8,38.3" stroke="#d8b036" stroke-width="0.45"/><path d="M194,32 194.8,34.3 195.2,36.6 195.7,39 196.2,41.4" stroke="#a8a8a8" stroke-width="0.45"/><path d="M196.4,41.3 196.8,42.8 197.4,44.3 198.1,45.8 198.9,47.2 199.7,48.6 200.2,50.1 200.5,51.7 200.8,53.2 201.3,54.7 201.9,56.2 202.8,57.6 203.8,58.9 202,61.3 201,59.8 200.3,58.2 199.7,56.5 199.4,54.8 199.2,53.1 199,51.3 198.6,49.6 198,48 197.3,46.4 196.7,44.8 196.3,43.1 196,41.4Z" fill="#e4e4e4" stroke="none"/><path d="M196.4,41.3 196.8,42.8 197.4,44.3 198.1,45.8 198.9,47.2 199.7,48.6 200.2,50.1 200.5,51.7 200.8,53.2 201.3,54.7 201.9,56.2 202.8,57.6 203.8,58.9" stroke="#a8a8a8" stroke-width="0.36000000000000004"/><path d="M196.2,41.4 196.5,42.9 197,44.4 197.6,45.8 198.3,47.2 199,48.7 199.4,50.2 199.7,51.7 199.9,53.3 200.2,54.8 200.8,56.3 201.6,57.7 202.5,59" stroke="#a8a8a8" stroke-width="0.36000000000000004"/><path d="M196,41.4 196.3,43.1 196.7,44.8 197.3,46.4 198,48 198.6,49.6 199,51.3 199.2,53.1 199.4,54.8 199.7,56.5 200.3,58.2 201,59.8 202,61.3" stroke="#a8a8a8" stroke-width="0.36000000000000004"/><path d="M194,32 195.1,33.2 196.2,34.4 197.5,35.5 198.8,36.5 200.1,37.6 201.2,38.8" stroke="#a8a8a8" stroke-width="0.45"/><path d="M201.2,38.8 202,39.6 202.8,40.4 203.6,41.2 204.6,41.9 205.4,42.6 206.3,43.4 207,44.3 207.7,45.2 208.3,46.2 208.9,47.2" stroke="#a8a8a8" stroke-width="0.45"/><path d="M206.3,43.4 206.8,44.1 207,44.9 207.1,45.8 207.3,46.6 207.9,47.2" stroke="#a8a8a8" stroke-width="0.405"/><path d="M194,32 195.5,32.1 197,32.4 198.4,32.9 199.9,33.3" stroke="#a8a8a8" stroke-width="0.45"/><path d="M199.9,33.2 201,33.4 202.1,33.4 203.2,33.1 204.4,33 205.4,33.3 206.4,34.1 207.4,34.6 208.6,34.5 209.7,33.9 210.9,33.4 212,33.4 213,34 213.5,36.1 212.4,35.4 211.3,35.2 210.1,35.6 208.8,36 207.7,36 206.6,35.3 205.5,34.4 204.5,33.9 203.3,34 202.1,34.1 200.9,33.9 199.8,33.5Z" fill="#e4e4e4" stroke="none"/><path d="M199.9,33.2 201,33.4 202.1,33.4 203.2,33.1 204.4,33 205.4,33.3 206.4,34.1 207.4,34.6 208.6,34.5 209.7,33.9 210.9,33.4 212,33.4 213,34" stroke="#a8a8a8" stroke-width="0.36000000000000004"/><path d="M199.9,33.3 201,33.6 202.1,33.7 203.3,33.4 204.5,33.3 205.6,33.7 206.6,34.5 207.7,35.1 208.9,35 210.1,34.5 211.3,34 212.5,34.1 213.5,34.8" stroke="#a8a8a8" stroke-width="0.36000000000000004"/><path d="M199.9,33.4 200.8,33.7 201.7,33.8 202.7,33.6 203.7,33.5 204.6,33.9 205.5,34.8 206.4,35.3 207.4,35.3 208.4,34.8 209.5,34.3 210.4,34.5 211.3,35.1" stroke="#a8a8a8" stroke-width="0.36000000000000004"/><path d="M199.8,33.5 200.9,33.9 202.1,34.1 203.3,34 204.5,33.9 205.5,34.4 206.6,35.3 207.7,36 208.8,36 210.1,35.6 211.3,35.2 212.4,35.4 213.5,36.1" stroke="#a8a8a8" stroke-width="0.36000000000000004"/><path d="M194,32 195.4,31.8 196.7,31.6 197.9,30.9 199,30.1 200.3,29.4 201.6,29.2" stroke="#c8c8c8" stroke-width="0.45"/><path d="M201.6,29.2 202.3,28.7 203.1,28.4 204,28.5 204.9,28.7 205.8,28.8 206.5,28.5 207.2,27.8 207.8,27 208.5,26.3 209.2,26.1" stroke="#c8c8c8" stroke-width="0.45"/><path d="M204,28.5 204.6,28.9 205.4,28.9 206.1,28.9 206.8,29.2 207.4,29.8" stroke="#c8c8c8" stroke-width="0.405"/><path d="M194,32 192.7,30.5 191.5,29 190.5,27.3 189.6,25.6" stroke="#c8c8c8" stroke-width="0.45"/><path d="M189.5,25.6 188.7,24.7 188,23.8 187.4,22.8 187.1,21.6 186.7,20.5 186,19.6 185.1,18.7 184.2,17.8 183.7,16.8 183.5,15.5 183.5,14.2 183.3,13 184.6,12.2 184.7,13.5 184.6,14.8 184.7,16.1 185.2,17.2 185.9,18.2 186.7,19.1 187.3,20 187.6,21.2 187.9,22.4 188.4,23.6 189,24.5 189.7,25.5Z" fill="#d6d6d6" stroke="none"/><path d="M189.5,25.6 188.7,24.7 188,23.8 187.4,22.8 187.1,21.6 186.7,20.5 186,19.6 185.1,18.7 184.2,17.8 183.7,16.8 183.5,15.5 183.5,14.2 183.3,13" stroke="#c8c8c8" stroke-width="0.36000000000000004"/><path d="M189.6,25.6 188.8,24.6 188,23.7 187.5,22.6 187.2,21.3 186.8,20.1 186.1,19.2 185.2,18.3 184.4,17.3 183.9,16.2 183.7,14.9 183.7,13.5 183.5,12.2" stroke="#c8c8c8" stroke-width="0.36000000000000004"/><path d="M189.6,25.5 189,24.7 188.3,23.8 187.9,22.8 187.6,21.6 187.3,20.6 186.7,19.7 185.9,18.9 185.2,18 184.8,17 184.7,15.8 184.7,14.6 184.6,13.4" stroke="#c8c8c8" stroke-width="0.36000000000000004"/><path d="M189.7,25.5 189,24.5 188.4,23.6 187.9,22.4 187.6,21.2 187.3,20 186.7,19.1 185.9,18.2 185.2,17.2 184.7,16.1 184.6,14.8 184.7,13.5 184.6,12.2" stroke="#c8c8c8" stroke-width="0.36000000000000004"/><path d="M194,32 193.5,30 192.9,28.1 192.2,26.2 191.5,24.3 190.8,22.4 190.2,20.5" stroke="#c8c8c8" stroke-width="0.45"/><path d="M190.2,20.5 189.6,19.1 189.2,17.6 188.9,16.1 188.6,14.6 188,13.2 187.1,11.9 186.2,10.6 185.2,9.4 184.3,8.1 183.5,6.8" stroke="#c8c8c8" stroke-width="0.45"/><path d="M186.2,10.6 186.5,9.7 186.5,8.7 186.3,7.7 186.4,6.8 186.8,5.9" stroke="#c8c8c8" stroke-width="0.405"/><path d="M194,32 194.3,30 194.2,28 194.1,25.9 194,23.9" stroke="#c8c8c8" stroke-width="0.45"/><path d="M193.9,23.9 193.8,22.5 193.7,21.1 193.8,19.7 194.1,18.3 194.6,16.9 195,15.6 195.2,14.2 195.3,12.8 195.3,11.3 195.4,9.9 195.8,8.6 196.4,7.2 198,6.9 197.3,8.3 196.8,9.6 196.5,11.1 196.4,12.5 196.3,14 196,15.4 195.4,16.7 194.8,18.1 194.4,19.6 194.2,21 194.2,22.5 194.1,23.9Z" fill="#d0d0d0" stroke="none"/><path d="M193.9,23.9 193.8,22.5 193.7,21.1 193.8,19.7 194.1,18.3 194.6,16.9 195,15.6 195.2,14.2 195.3,12.8 195.3,11.3 195.4,9.9 195.8,8.6 196.4,7.2" stroke="#c8c8c8" stroke-width="0.36000000000000004"/><path d="M194,23.9 194,22.5 194,21 194.1,19.6 194.4,18.2 195,16.8 195.5,15.4 195.8,14 195.9,12.6 195.9,11.1 196.1,9.7 196.5,8.3 197.3,7" stroke="#c8c8c8" stroke-width="0.36000000000000004"/><path d="M194.1,23.9 194.2,22.5 194.2,21 194.4,19.6 194.8,18.1 195.4,16.7 196,15.4 196.3,14 196.4,12.5 196.5,11.1 196.8,9.6 197.3,8.3 198,6.9" stroke="#c8c8c8" stroke-width="0.36000000000000004"/><path d="M194,32 194.5,30.1 194.8,28.1 195.3,26.3 196,24.4 196.7,22.6 197.5,20.8" stroke="#c8c8c8" stroke-width="0.45"/><path d="M197.5,20.8 197.8,19.6 198.2,18.4 198.7,17.2 199.2,16 199.6,14.8 200,13.6 200.2,12.4 200.4,11.1 200.5,9.8 200.6,8.5" stroke="#c8c8c8" stroke-width="0.45"/><path d="M198.7,17.2 199.2,16.5 200,16 200.8,15.6 201.5,15 202,14.2" stroke="#c8c8c8" stroke-width="0.405"/><path d="M194,32 194.9,30.5 195.8,28.9 196.9,27.4 198.1,26" stroke="#c8c8c8" stroke-width="0.45"/><path d="M198,26 198.5,24.8 199.3,23.8 200.2,22.9 201,21.9 201.2,20.6 201.2,19.1 201.3,17.7 201.8,16.6 202.8,15.6 203.7,14.7 204.2,13.6 204.3,12.2 206.2,11.5 206.1,13 205.4,14.2 204.3,15.3 203.3,16.3 202.6,17.5 202.3,18.9 202.2,20.5 201.8,21.8 200.9,22.9 199.8,23.9 198.9,24.9 198.1,26.1Z" fill="#dedede" stroke="none"/><path d="M198,26 198.5,24.8 199.3,23.8 200.2,22.9 201,21.9 201.2,20.6 201.2,19.1 201.3,17.7 201.8,16.6 202.8,15.6 203.7,14.7 204.2,13.6 204.3,12.2" stroke="#c8c8c8" stroke-width="0.36000000000000004"/><path d="M198.1,26 198.7,24.9 199.6,23.8 200.6,22.8 201.4,21.8 201.8,20.4 201.9,18.8 202.1,17.4 202.7,16.2 203.7,15.2 204.7,14.2 205.3,13 205.4,11.5" stroke="#c8c8c8" stroke-width="0.36000000000000004"/><path d="M198.1,26.1 198.9,24.9 199.8,23.9 200.9,22.9 201.8,21.8 202.2,20.5 202.3,18.9 202.6,17.5 203.3,16.3 204.3,15.3 205.4,14.2 206.1,13 206.2,11.5" stroke="#c8c8c8" stroke-width="0.36000000000000004"/><path d="M194,32 192.8,30.9 191.6,29.7 190.2,28.8 188.8,27.9 187.3,27.1 185.9,26.2" stroke="#c8c8c8" stroke-width="0.45"/><path d="M185.9,26.2 185.2,25.5 184.4,24.8 183.4,24.4 182.5,23.9 181.6,23.3 180.9,22.6 180.2,21.7 179.7,20.8 179.1,19.9 178.5,19" stroke="#c8c8c8" stroke-width="0.45"/><path d="M390,36 387.4,34.8 384.6,33.9 382.2,32.4 380,30.5 377.9,28.4 375.8,26.4" stroke="#a8a8a8" stroke-width="0.45"/><path d="M375.8,26.4 374,24.9 372.1,23.7 370.1,22.6 367.8,21.9 365.6,21.1 363.4,20.4 361.3,19.5 359.2,18.4 357.3,17.3 355.3,16.1" stroke="#a8a8a8" stroke-width="0.45"/><path d="M365.6,21.1 365.2,19.3 365.2,17.4 364.7,15.6 363.7,14 362.6,12.3" stroke="#a8a8a8" stroke-width="0.405"/><path d="M361.3,19.5 360.1,19 358.9,19.3 357.6,19.7 356.4,19.6 355.2,18.9" stroke="#a8a8a8" stroke-width="0.405"/><path d="M363.4,20.4 363.5,19.1 363.2,17.9 362.2,16.9 361.5,15.8 361.5,14.6" stroke="#a8a8a8" stroke-width="0.405"/><path d="M390,36 388.4,34 386.8,32 385.5,29.8 384.2,27.6" stroke="#a8a8a8" stroke-width="0.45"/><path d="M384.1,27.7 382.7,26.2 381.3,24.7 380,23.1 378.9,21.4 377.8,19.6 376.5,18.1 374.8,16.8 373,15.7 371,14.7 369.1,13.7 367.4,12.6 365.8,11.3 369.1,11.8 370.4,13.1 371.9,14.2 373.6,15.2 375.3,16.1 376.9,17.1 378.3,18.4 379.4,19.8 380.2,21.5 381.1,23.1 382.1,24.6 383.2,26.1 384.4,27.5Z" fill="#dedede" stroke="none"/><path d="M384.1,27.7 382.7,26.2 381.3,24.7 380,23.1 378.9,21.4 377.8,19.6 376.5,18.1 374.8,16.8 373,15.7 371,14.7 369.1,13.7 367.4,12.6 365.8,11.3" stroke="#a8a8a8" stroke-width="0.36000000000000004"/><path d="M384.2,27.6 382.9,26.1 381.5,24.6 380.3,22.9 379.2,21.2 378.1,19.5 376.8,17.9 375.2,16.6 373.4,15.5 371.5,14.5 369.6,13.5 367.9,12.3 366.4,11" stroke="#a8a8a8" stroke-width="0.36000000000000004"/><path d="M384.3,27.6 382.9,25.9 381.6,24.3 380.4,22.6 379.3,20.8 378.2,19 376.9,17.4 375.3,16 373.5,14.8 371.5,13.7 369.6,12.6 367.9,11.4 366.3,10" stroke="#a8a8a8" stroke-width="0.36000000000000004"/><path d="M384.4,27.5 383.2,26.1 382.1,24.6 381.1,23.1 380.2,21.5 379.4,19.8 378.3,18.4 376.9,17.1 375.3,16.1 373.6,15.2 371.9,14.2 370.4,13.1 369.1,11.8" stroke="#a8a8a8" stroke-width="0.36000000000000004"/><path d="M390,36 389.1,33.7 388.2,31.5 387.8,29.1 387.5,26.7 387.3,24.3 387.1,21.9" stroke="#a8a8a8" stroke-width="0.45"/><path d="M387.1,21.9 386.5,20.2 385.6,18.7 384.6,17.2 383.8,15.6 383.3,13.9 382.8,12.1 382.2,10.4 381.5,8.8 380.5,7.3 379.3,5.9" stroke="#a8a8a8" stroke-width="0.45"/><path d="M382.2,10.4 382.2,9.2 382.3,8 383.1,7 384,6 384.4,4.8" stroke="#a8a8a8" stroke-width="0.405"/><path d="M384.6,17.2 383.9,16.6 382.8,16.4 382.2,15.8 381.9,14.7 381.6,13.7" stroke="#a8a8a8" stroke-width="0.405"/><path d="M381.5,8.8 381.7,7.2 381.8,5.6 382.7,4.3 383.8,3 384.6,1.7" stroke="#a8a8a8" stroke-width="0.405"/><path d="M387.1,21.9 387.4,20.3 387.4,18.8 387.1,17.2 386.9,15.6 386.9,14 387.3,12.5 388,11 388.8,9.5 389.5,8 390.2,6.5" stroke="#a8a8a8" stroke-width="0.45"/><path d="M386.9,14 388.1,13.3 388.8,12.4 389.1,11 389.7,9.8 390.7,9" stroke="#a8a8a8" stroke-width="0.405"/><path d="M388,11 387.6,9.6 386.6,8.6 385.3,7.7 384.5,6.6 384.3,5.1" stroke="#a8a8a8" stroke-width="0.405"/><path d="M387.1,17.2 387.7,16.5 387.6,15.4 387.7,14.5 388.4,13.8 389.4,13.4" stroke="#a8a8a8" stroke-width="0.405"/><path d="M390,36 389.9,33.5 390.2,30.9 390.3,28.3 390.3,25.8 390.1,23.2 389.8,20.7" stroke="#a8a8a8" stroke-width="0.45"/><path d="M389.8,20.7 389.7,19.1 389.8,17.5 389.7,16 388.8,14.6 387.5,13.4 386.3,12.1 385.5,10.8 385.3,9.2 385.5,7.6 385.8,5.9" stroke="#a8a8a8" stroke-width="0.45"/><path d="M385.3,9.2 385.5,8.1 386,7.1 387.1,6.4 388.1,5.7 388.5,4.7" stroke="#a8a8a8" stroke-width="0.405"/><path d="M385.5,10.8 385.9,10.1 385.6,9.2 385.5,8.3 386,7.7 386.9,7.1" stroke="#a8a8a8" stroke-width="0.405"/><path d="M389.8,20.7 390.1,19.2 390.2,17.6 390.3,16 391,14.6 392.1,13.4 393.3,12.2 394.5,11 395.5,9.8 396.3,8.5 396.9,7.1" stroke="#a8a8a8" stroke-width="0.45"/><path d="M395.5,9.8 396.4,8.7 397.6,8 399,7.7 400.3,7.2 401.2,6.1" stroke="#a8a8a8" stroke-width="0.405"/><path d="M390,36 390.6,33.7 390.9,31.3 391.5,28.9 392.2,26.7 393.2,24.4 394.3,22.3" stroke="#a8a8a8" stroke-width="0.45"/><path d="M394.3,22.3 394.4,20.8 394.2,19.3 393.8,17.8 393.7,16.3 394.1,14.9 394.9,13.5 395.9,12.3 397.1,11.1 398.4,9.9 399.5,8.8" stroke="#a8a8a8" stroke-width="0.45"/><path d="M393.8,17.8 394.3,17 394.4,15.8 395,15 396.1,14.6 397.1,14.1" stroke="#a8a8a8" stroke-width="0.405"/><path d="M394.1,14.9 393.7,13.7 392.7,12.8 392.2,11.7 392.2,10.4 392.4,9" stroke="#a8a8a8" stroke-width="0.405"/><path d="M397.1,11.1 397.7,10.2 398.1,9.1 398.9,8.5 400.1,8.2 401.2,7.9" stroke="#a8a8a8" stroke-width="0.405"/><path d="M394.3,22.3 394.8,20.7 395.1,19.1 395.6,17.6 396.6,16.2 397.7,15 398.8,13.8 399.8,12.5 400.6,11.1 401,9.5 401.2,7.8" stroke="#a8a8a8" stroke-width="0.45"/><path d="M397.7,15 398.7,14.7 399.5,14.3 399.9,13.2 400.3,12.2 401,11.6" stroke="#a8a8a8" stroke-width="0.405"/><path d="M398.8,13.8 398.3,12.7 398.4,11.5 398.7,10.3 398.6,9.1 397.8,8.1" stroke="#a8a8a8" stroke-width="0.405"/><path d="M395.6,17.6 396.2,16.9 397.1,16.7 398.1,16.9 398.9,16.7 399.4,15.9" stroke="#a8a8a8" stroke-width="0.405"/><path d="M390,36 391.3,33.6 392.9,31.4 394.5,29.2 395.9,26.9 397.1,24.5 398.2,22" stroke="#a8a8a8" stroke-width="0.45"/><path d="M398.2,22 399,20.6 399.5,18.9 399.8,17.2 400.5,15.7 401.6,14.4 402.8,13.1 403.8,11.7 404.6,10.2 404.9,8.5 404.8,6.7" stroke="#a8a8a8" stroke-width="0.45"/><path d="M403.8,11.7 404.6,11 405.6,11 406.8,11 407.6,10.5 408.3,9.6" stroke="#a8a8a8" stroke-width="0.405"/><path d="M400.5,15.7 400.7,14.6 401.3,13.6 401.2,12.5 400.7,11.4 400.2,10.3" stroke="#a8a8a8" stroke-width="0.405"/><path d="M402.8,13.1 403.6,12.8 404.6,13.1 405.5,13.1 406.2,12.4 406.9,11.5" stroke="#a8a8a8" stroke-width="0.405"/><path d="M390,36 392,33.9 393.7,31.5 395.9,29.7 398.4,28.3 401.1,27.1 403.6,25.6" stroke="#a8a8a8" stroke-width="0.45"/><path d="M403.6,25.6 405.2,24.6 406.8,23.7 408.1,22.3 408.9,20.4 409.8,18.7 411.2,17.5 412.9,16.6 414.9,16 416.6,15.1 417.9,13.8" stroke="#a8a8a8" stroke-width="0.45"/><path d="M414.9,16 415.9,15.6 417.1,15.9 418.2,16 419.3,15.6 420.2,14.7" stroke="#a8a8a8" stroke-width="0.405"/><path d="M408.9,20.4 408.9,19.3 408.6,18.2 409.1,17.1 410,16.2 410.6,15.2" stroke="#a8a8a8" stroke-width="0.405"/><path d="M411.2,17.5 412.6,16.8 413.8,16 415.3,15.8 417,16 418.5,16" stroke="#a8a8a8" stroke-width="0.405"/><path d="M390,36 392.4,35 394.9,34.6 397.5,34.4 400,33.7 402.2,32.3 404.3,30.7" stroke="#a8a8a8" stroke-width="0.45"/><path d="M404.3,30.7 406.1,29.6 407.9,28.8 409.9,28.2 412,27.9 414,27.4 415.8,26.7 417.6,25.6 419.2,24.2 420.8,22.8 422.4,21.4" stroke="#a8a8a8" stroke-width="0.45"/><path d="M409.9,28.2 410.5,27.2 411.7,26.8 412.7,26.1 413.2,25 413.5,23.7" stroke="#a8a8a8" stroke-width="0.405"/><path d="M415.8,26.7 417.4,27.6 419.3,27.8 421.1,28 422.7,28.9 424.2,30.2" stroke="#a8a8a8" stroke-width="0.405"/><path d="M390,36 392.3,36.5 394.7,37.1 397.1,37.2 399.5,37.2 401.9,37.3 404.3,37.6" stroke="#a8a8a8" stroke-width="0.45"/><path d="M404.3,37.6 406,38.2 407.8,38.8 409.6,39 411.4,38.2 413.1,37 414.8,35.9 416.5,35.2 418.3,35.1 420,35.5 421.9,36.1" stroke="#a8a8a8" stroke-width="0.45"/><path d="M413.1,37 414.2,36.6 415.4,36.6 416.3,35.9 417,34.8 417.8,33.8" stroke="#a8a8a8" stroke-width="0.405"/><path d="M416.5,35.2 417.3,36.1 418.5,36.3 419.8,36.3 420.8,36.8 421.6,37.8" stroke="#a8a8a8" stroke-width="0.405"/><path d="M390,36 392.6,37.5 395.3,38.9 397.6,40.8 399.9,42.8 402,44.9 404.2,47" stroke="#a8a8a8" stroke-width="0.45"/><path d="M404.2,47 406.4,48.2 408.7,49.1 410.9,50.1 412.8,51.6 414.4,53.4 416.1,55.3 417.8,57.1 419.6,58.7 421.6,60.1 423.9,61.1" stroke="#a8a8a8" stroke-width="0.45"/><path d="M414.4,53.4 415.4,54.9 415.8,56.6 416.4,58.3 417.5,59.6 418.9,60.8" stroke="#a8a8a8" stroke-width="0.405"/><path d="M419.6,58.7 421,58.2 422.4,58.1 423.9,58.7 425.3,59 426.7,58.8" stroke="#a8a8a8" stroke-width="0.405"/><path d="M412.8,51.6 413.5,52.9 414.1,54.1 413.9,55.6 413.7,57.1 413.9,58.4" stroke="#a8a8a8" stroke-width="0.405"/><path d="M390,36 391.8,38.8 393.6,41.6 395.1,44.5 396.5,47.5 397.7,50.6 399,53.6" stroke="#a8a8a8" stroke-width="0.45"/><path d="M399,53.6 400.2,55.6 401.4,57.6 402.7,59.5 403.7,61.6 404.5,63.8 405.2,66 405.9,68.2 406.7,70.4 407.5,72.6 408.4,74.7" stroke="#a8a8a8" stroke-width="0.45"/><path d="M404.5,63.8 404.6,65.5 404.4,67.3 403.4,68.9 402.7,70.5 402.5,72.2" stroke="#a8a8a8" stroke-width="0.405"/><path d="M402.7,59.5 403.7,60.2 405,60.2 406.3,60.3 407.3,61 408.1,62.1" stroke="#a8a8a8" stroke-width="0.405"/><path d="M406.7,70.4 406.3,71.7 405.6,72.9 405.7,74.3 406.2,75.7 406.5,77.1" stroke="#a8a8a8" stroke-width="0.405"/><path d="M390,36 389.8,38.7 389.7,41.4 389.3,44.1 388.7,46.7 388,49.4 387.3,52" stroke="#a8a8a8" stroke-width="0.45"/><path d="M387.3,52 386.5,53.8 386,55.6 386,57.6 386.2,59.6 385.9,61.6 385.2,63.4 384.1,65.1 382.6,66.6 380.9,68.1 379.4,69.5" stroke="#a8a8a8" stroke-width="0.45"/><path d="M385.9,61.6 385,62.5 383.6,62.7 382.3,63.2 381.4,64.3 380.7,65.6" stroke="#a8a8a8" stroke-width="0.405"/><path d="M385.2,63.4 384.1,64.6 382.7,65.5 381.9,67 381.5,68.6 380.8,70.2" stroke="#a8a8a8" stroke-width="0.405"/><path d="M390,36 388.1,39.2 386.4,42.6 384.4,45.8 382.2,48.8 379.8,51.7 377.3,54.6" stroke="#a8a8a8" stroke-width="0.45"/><path d="M377.3,54.6 375.4,56.8 373.8,59.3 372.3,61.9 371.1,64.5 369.8,67.2 368.5,69.8 367.1,72.5 365.7,75 364.3,77.6 362.9,80.2" stroke="#a8a8a8" stroke-width="0.45"/><path d="M365.7,75 363.7,75.8 361.6,76.4 359.8,77.7 358.2,79.3 356.4,80.6" stroke="#a8a8a8" stroke-width="0.405"/><path d="M367.1,72.5 367.6,75 368.3,77.5 368.1,80.1 367.6,82.7 367.6,85.3" stroke="#a8a8a8" stroke-width="0.405"/><path d="M368.5,69.8 366.9,70.8 365.1,71.1 363.3,71.6 361.9,72.6 360.5,74" stroke="#a8a8a8" stroke-width="0.405"/><path d="M390,36 387.8,36.6 385.7,37.4 383.7,38.4 381.6,39.3 379.4,39.9 377.2,40.2" stroke="#a8a8a8" stroke-width="0.45"/><path d="M377.2,40.2 375.6,40.3 374.1,40.4 372.6,40.6 371.2,41.2 369.8,41.9 368.3,42.5 366.9,43 365.4,43.4 363.9,43.5 362.3,43.5" stroke="#a8a8a8" stroke-width="0.45"/><path d="M371.2,41.2 370.3,41.5 369.5,41.4 368.7,40.6 368,40 367.1,40.1" stroke="#a8a8a8" stroke-width="0.405"/><path d="M372.6,40.6 371.6,41.4 370.4,41.9 369.7,42.9 369.3,44.2 368.9,45.4" stroke="#a8a8a8" stroke-width="0.405"/><path d="M366.9,43 365.8,42.9 365,42.1 364.1,41.4 363.1,41.3 361.9,41.6" stroke="#a8a8a8" stroke-width="0.405"/><path d="M390,36 386.7,36.1 383.4,35.6 380.1,34.9 376.9,34.5 373.5,34.7 370.2,35.3" stroke="#a8a8a8" stroke-width="0.45"/><path d="M370.2,35.3 368.1,35 365.9,35.6 363.9,36.8 361.8,37.5 359.6,37 357.4,35.9 355.1,35 353,35 350.9,36 348.9,37.6" stroke="#a8a8a8" stroke-width="0.45"/><path d="M359.6,37 358.4,35.9 357.1,35 355.4,34.8 353.8,34.6 352.4,33.8" stroke="#a8a8a8" stroke-width="0.405"/><path d="M359.6,37 358.4,38.5 356.9,39.6 355,40.3 353.4,41.3 352.2,42.8" stroke="#a8a8a8" stroke-width="0.405"/><path d="M363.9,36.8 363.1,36 362,35.6 360.7,35.7 359.6,35.4 358.8,34.5" stroke="#a8a8a8" stroke-width="0.405"/><path d="M298,113 296.4,114.2 294.7,115.1 292.9,115.9 291.1,116.7" stroke="#c8c8c8" stroke-width="0.45"/><path d="M291.3,117.1 290.4,117.9 289.3,118.6 288.3,119.3 287.4,120.2 286.8,121.5 286.2,122.8 285.4,123.9 284.4,124.7 283.3,125.2 282.2,125.8 281.2,126.5 280.5,127.6 277.3,122.5 278.3,121.7 279.5,121.3 280.9,121.1 282.2,120.8 283.4,120.4 284.4,119.6 285.2,118.7 286.1,117.8 287.2,117.2 288.4,116.9 289.7,116.6 290.9,116.3Z" fill="#d0d0d0" stroke="none"/><path d="M291.3,117.1 290.4,117.9 289.3,118.6 288.3,119.3 287.4,120.2 286.8,121.5 286.2,122.8 285.4,123.9 284.4,124.7 283.3,125.2 282.2,125.8 281.2,126.5 280.5,127.6" stroke="#c8c8c8" stroke-width="0.36000000000000004"/><path d="M291.2,116.8 290.1,117.5 288.8,118.1 287.6,118.7 286.6,119.6 285.8,120.9 285,122.1 284.1,123.1 283,123.9 281.7,124.4 280.5,124.9 279.3,125.6 278.4,126.6" stroke="#c8c8c8" stroke-width="0.36000000000000004"/><path d="M291,116.6 289.7,117.1 288.4,117.6 287.1,118.2 285.9,119 284.9,120.2 284,121.3 283,122.3 281.7,123 280.3,123.4 278.9,123.9 277.6,124.6 276.5,125.5" stroke="#c8c8c8" stroke-width="0.36000000000000004"/><path d="M290.9,116.3 289.7,116.6 288.4,116.9 287.2,117.2 286.1,117.8 285.2,118.7 284.4,119.6 283.4,120.4 282.2,120.8 280.9,121.1 279.5,121.3 278.3,121.7 277.3,122.5" stroke="#c8c8c8" stroke-width="0.36000000000000004"/><path d="M298,113 296.6,113.7 295.2,114 293.7,114.3 292.3,114.8" stroke="#e2c060" stroke-width="0.45"/><path d="M292.3,114.9 291.5,115.4 290.7,116.1 289.9,116.6 289,116.7 288,116.7 287.1,117.2 286.6,118.2 286.1,119.3 285.4,120.1 284.5,120.4 283.5,120.5 282.6,120.8 280.3,119.2 281.4,119 282.6,119 283.7,118.7 284.5,118 285.2,117 285.9,116.1 286.9,115.7 288.1,115.8 289.3,115.8 290.3,115.4 291.2,114.9 292.2,114.6Z" fill="#dfc068" stroke="none"/><path d="M292.3,114.9 291.5,115.4 290.7,116.1 289.9,116.6 289,116.7 288,116.7 287.1,117.2 286.6,118.2 286.1,119.3 285.4,120.1 284.5,120.4 283.5,120.5 282.6,120.8" stroke="#e2c060" stroke-width="0.36000000000000004"/><path d="M292.3,114.8 291.4,115.2 290.6,115.7 289.7,116.2 288.7,116.2 287.7,116.1 286.8,116.6 286.2,117.5 285.6,118.5 284.9,119.2 284,119.5 282.9,119.5 281.9,119.7" stroke="#e2c060" stroke-width="0.36000000000000004"/><path d="M292.2,114.6 291.2,114.9 290.3,115.4 289.3,115.8 288.1,115.8 286.9,115.7 285.9,116.1 285.2,117 284.5,118 283.7,118.7 282.6,119 281.4,119 280.3,119.2" stroke="#e2c060" stroke-width="0.36000000000000004"/><path d="M298,113 297.3,114.8 296.8,116.7 296.5,118.6 296.2,120.6" stroke="#c8c8c8" stroke-width="0.45"/><path d="M296.5,120.7 296.6,121.9 296.5,123.1 296.3,124.3 295.8,125.4 295.4,126.5 295.1,127.6 295.1,128.8 295.2,130.1 295.4,131.3 295.6,132.6 295.7,133.9 295.6,135.1 290.5,134.9 290.9,133.7 291.2,132.4 291.3,131.2 291.4,129.9 291.6,128.6 292,127.4 292.7,126.2 293.5,125.1 294.3,124 294.9,122.9 295.4,121.7 295.8,120.5Z" fill="#d6d6d6" stroke="none"/><path d="M296.5,120.7 296.6,121.9 296.5,123.1 296.3,124.3 295.8,125.4 295.4,126.5 295.1,127.6 295.1,128.8 295.2,130.1 295.4,131.3 295.6,132.6 295.7,133.9 295.6,135.1" stroke="#c8c8c8" stroke-width="0.36000000000000004"/><path d="M296.3,120.6 296.2,121.8 296,123 295.6,124.2 295.1,125.3 294.5,126.4 294.1,127.6 293.9,128.8 293.9,130 294,131.3 294.1,132.6 294.1,133.8 293.9,135" stroke="#c8c8c8" stroke-width="0.36000000000000004"/><path d="M296,120.6 295.8,121.9 295.4,123.2 294.9,124.5 294.2,125.7 293.4,126.9 292.9,128.1 292.6,129.5 292.4,130.8 292.4,132.2 292.4,133.6 292.2,135 291.8,136.3" stroke="#c8c8c8" stroke-width="0.36000000000000004"/><path d="M295.8,120.5 295.4,121.7 294.9,122.9 294.3,124 293.5,125.1 292.7,126.2 292,127.4 291.6,128.6 291.4,129.9 291.3,131.2 291.2,132.4 290.9,133.7 290.5,134.9" stroke="#c8c8c8" stroke-width="0.36000000000000004"/><path d="M298,113 298.2,115.1 298.4,117.2 298.9,119.2 299.5,121.3" stroke="#c8c8c8" stroke-width="0.45"/><path d="M300,121.2 300.4,122.5 301,123.9 301.9,125.1 302.7,126.4 302.9,127.8 302.9,129.2 303.1,130.6 304,131.8 305.3,132.9 306.5,134.1 307.1,135.3 307.3,136.7 301.6,138.3 301.7,136.8 301.4,135.4 300.6,134.1 299.7,132.9 299.2,131.5 299.3,130 299.8,128.4 299.9,127 299.6,125.6 299.1,124.2 298.9,122.8 299.1,121.3Z" fill="#dedede" stroke="none"/><path d="M300,121.2 300.4,122.5 301,123.9 301.9,125.1 302.7,126.4 302.9,127.8 302.9,129.2 303.1,130.6 304,131.8 305.3,132.9 306.5,134.1 307.1,135.3 307.3,136.7" stroke="#c8c8c8" stroke-width="0.36000000000000004"/><path d="M299.7,121.2 299.9,122.6 300.4,124 301.1,125.3 301.8,126.6 301.9,128 301.7,129.5 301.8,130.9 302.6,132.2 303.7,133.4 304.8,134.6 305.3,135.9 305.4,137.3" stroke="#c8c8c8" stroke-width="0.36000000000000004"/><path d="M299.4,121.3 299.4,122.7 299.7,124 300.3,125.3 300.8,126.6 300.8,128 300.4,129.5 300.4,130.9 301,132.2 302,133.4 303,134.5 303.4,135.9 303.3,137.3" stroke="#c8c8c8" stroke-width="0.36000000000000004"/><path d="M299.1,121.3 298.9,122.8 299.1,124.2 299.6,125.6 299.9,127 299.8,128.4 299.3,130 299.2,131.5 299.7,132.9 300.6,134.1 301.4,135.4 301.7,136.8 301.6,138.3" stroke="#c8c8c8" stroke-width="0.36000000000000004"/><path d="M298,113 297.8,116.1 297.8,119.3 297.9,122.5 297.9,125.6 297.7,128.8 297.4,131.9" stroke="#b8b8b8" stroke-width="0.45"/><path d="M297.4,131.9 297.3,134.1 297.5,136.3 297.5,138.6 297.2,140.8 296.8,143 296.7,145.2 296.9,147.4 297.4,149.6 298,151.9 298.3,154.1" stroke="#b8b8b8" stroke-width="0.45"/><path d="M296.8,143 296.5,144.1 295.8,145.1 295,146 294.4,147.1 294.1,148.3" stroke="#b8b8b8" stroke-width="0.405"/><path d="M298,113 299.5,113.9 301.1,114.8 302.6,115.9 303.9,117.1" stroke="#c8c8c8" stroke-width="0.45"/><path d="M304.1,116.8 305.4,117.3 306.7,117.9 308,118.6 309,119.6 309.9,120.7 310.9,121.7 312,122.5 313.3,123.1 314.6,123.8 315.8,124.6 316.7,125.7 317.5,126.9 312.5,129.1 312.2,127.8 311.6,126.7 310.8,125.8 309.9,125 309,124.3 308.2,123.4 307.6,122.2 307,121 306.4,119.9 305.5,119 304.6,118.2 303.7,117.4Z" fill="#e4e4e4" stroke="none"/><path d="M304.1,116.8 305.4,117.3 306.7,117.9 308,118.6 309,119.6 309.9,120.7 310.9,121.7 312,122.5 313.3,123.1 314.6,123.8 315.8,124.6 316.7,125.7 317.5,126.9" stroke="#c8c8c8" stroke-width="0.36000000000000004"/><path d="M304.1,116.9 305.1,117.4 306.2,117.9 307.2,118.5 308,119.4 308.7,120.4 309.5,121.3 310.4,122 311.5,122.5 312.6,123.1 313.6,123.8 314.4,124.7 314.9,125.8" stroke="#c8c8c8" stroke-width="0.36000000000000004"/><path d="M304,117 305.1,117.7 306.2,118.3 307.3,119.1 308.2,120.1 308.9,121.2 309.8,122.3 310.7,123.1 311.9,123.8 313,124.5 314,125.3 314.8,126.4 315.4,127.7" stroke="#c8c8c8" stroke-width="0.36000000000000004"/><path d="M303.9,117.2 304.9,117.9 306,118.6 307,119.4 307.9,120.4 308.5,121.6 309.3,122.7 310.2,123.6 311.3,124.3 312.4,125 313.3,125.9 314.1,127 314.6,128.3" stroke="#c8c8c8" stroke-width="0.36000000000000004"/><path d="M303.8,117.3 304.8,118.1 305.9,118.9 306.9,119.8 307.7,120.9 308.4,122.2 309.2,123.4 310.1,124.3 311.1,125.1 312.2,125.9 313.1,126.9 313.8,128.1 314.3,129.5" stroke="#c8c8c8" stroke-width="0.36000000000000004"/><path d="M303.7,117.4 304.6,118.2 305.5,119 306.4,119.9 307,121 307.6,122.2 308.2,123.4 309,124.3 309.9,125 310.8,125.8 311.6,126.7 312.2,127.8 312.5,129.1" stroke="#c8c8c8" stroke-width="0.36000000000000004"/><path d="M298,113 299.5,112.7 300.9,112.2 302.3,111.6 303.7,111.1 305.1,110.7 306.6,110.4" stroke="#b8b8b8" stroke-width="0.45"/><path d="M306.6,110.4 307.4,110 308.3,109.5 309.2,109.2 310.1,109 311,108.8 311.9,108.5 312.7,108.1 313.5,107.5 314.2,106.9 315,106.2" stroke="#b8b8b8" stroke-width="0.45"/><path d="M298,113 296.5,112.6 295.1,112.4 293.5,112.4 292,112.4 290.5,112.4 289,112.3" stroke="#b8b8b8" stroke-width="0.45"/><path d="M289,112.3 287.9,112.4 286.8,112.7 285.7,112.9 284.6,112.8 283.5,112.4 282.4,111.9 281.3,111.5 280.3,111.1 279.2,111 278.1,111" stroke="#b8b8b8" stroke-width="0.45"/><path d="M280.3,111.1 279.7,110.4 279,109.8 278.1,109.5 277.2,109.1 276.5,108.5" stroke="#b8b8b8" stroke-width="0.405"/><path d="M298,113 297.2,112.3 296.4,111.7 295.4,111.2 294.4,110.8 293.5,110.3 292.6,109.8" stroke="#b8b8b8" stroke-width="0.45"/><path d="M292.6,109.8 291.9,109.6 291.3,109.2 291,108.3 290.6,107.7 289.9,107.5 289,107.6 288.1,107.8 287.4,107.7 286.9,107.2 286.6,106.3" stroke="#b8b8b8" stroke-width="0.45"/><path d="M298,113 297.1,114.4 296.1,115.7 294.8,116.8 293.6,117.9 292.5,119.1 291.6,120.6" stroke="#b8b8b8" stroke-width="0.45"/><path d="M291.6,120.6 291,121.4 290.2,122.1 289.2,122.7 288.5,123.4 288.1,124.5 288,125.7 287.7,126.8 287.1,127.7 286.3,128.3 285.2,128.8" stroke="#b8b8b8" stroke-width="0.45"/><path d="M287.7,126.8 286.9,126.7 286.2,126.9 285.6,127.4 284.9,127.6 284.2,127.6" stroke="#b8b8b8" stroke-width="0.405"/><path d="M298,113 298.9,114.6 299.9,116.1 300.8,117.6 301.7,119.2 302.4,120.8 303.2,122.5" stroke="#b8b8b8" stroke-width="0.45"/><path d="M303.2,122.5 303.7,123.7 304.2,125 304.8,126.1 305.6,127.3 306.2,128.5 306.7,129.7 307,131.1 307.1,132.5 307.1,133.9 307.1,135.3" stroke="#b8b8b8" stroke-width="0.45"/><path d="M307.1,132.5 307,133.6 306.6,134.8 306.6,136 306.8,137.2 307,138.4" stroke="#b8b8b8" stroke-width="0.405"/><path d="M298,113 299.6,113.3 301.2,113.7 302.9,113.9 304.5,114.1 306.2,114.2 307.8,114.2" stroke="#b8b8b8" stroke-width="0.45"/><path d="M307.8,114.2 308.8,114.5 309.8,114.8 310.9,114.7 311.9,114.3 313,113.9 314,113.8 315,114.1 316,114.7 316.9,115.3 317.9,115.8" stroke="#b8b8b8" stroke-width="0.45"/><path d="M314,113.8 314.4,114.5 315,115 315.8,115.3 316.3,115.8 316.6,116.6" stroke="#b8b8b8" stroke-width="0.405"/><path d="M298,113 296.2,113.4 294.4,113.6 292.6,113.7 290.8,113.8 289.1,114 287.3,114.3" stroke="#b8b8b8" stroke-width="0.45"/><path d="M287.3,114.3 286,114.5 284.8,114.4 283.5,114.3 282.2,114.1 281,114.1 279.7,114.2 278.5,114.5 277.2,114.9 276,115.3 274.8,115.8" stroke="#b8b8b8" stroke-width="0.45"/><path d="M270,184 269.3,182.5 268.7,181 267.9,179.5 267,178.1" stroke="#d8b036" stroke-width="0.45"/><path d="M266.7,178.3 266.1,177.4 265.4,176.6 264.5,175.8 263.6,175 263,174.1 262.9,173 262.9,171.8 262.8,170.7 262.4,169.6 261.8,168.7 260.9,167.9 260,167 265.3,166.8 265.8,167.6 266.3,168.4 266.6,169.2 266.6,170.2 266.3,171.3 265.9,172.4 265.7,173.6 265.9,174.5 266.4,175.3 266.9,176.1 267.2,176.9 267.4,177.9Z" fill="#dfc068" stroke="none"/><path d="M266.7,178.3 266.1,177.4 265.4,176.6 264.5,175.8 263.6,175 263,174.1 262.9,173 262.9,171.8 262.8,170.7 262.4,169.6 261.8,168.7 260.9,167.9 260,167" stroke="#d8b036" stroke-width="0.36000000000000004"/><path d="M266.9,178.2 266.4,177.4 265.7,176.6 264.9,175.9 264.2,175.2 263.7,174.3 263.6,173.2 263.7,172.1 263.7,171.1 263.5,170.1 262.9,169.3 262.1,168.5 261.4,167.7" stroke="#d8b036" stroke-width="0.36000000000000004"/><path d="M267,178.1 266.6,177.3 266.1,176.5 265.4,175.8 264.7,175.2 264.3,174.3 264.3,173.3 264.5,172.2 264.6,171.2 264.4,170.2 263.9,169.4 263.2,168.7 262.5,168" stroke="#d8b036" stroke-width="0.36000000000000004"/><path d="M267.1,178.1 266.8,177.1 266.2,176.2 265.6,175.3 264.9,174.5 264.5,173.5 264.6,172.4 264.8,171.1 264.9,170 264.8,168.9 264.3,168 263.6,167.1 263,166.3" stroke="#d8b036" stroke-width="0.36000000000000004"/><path d="M267.2,178 267,176.9 266.5,175.9 265.8,175 265.2,174.1 264.9,173.1 265,171.8 265.2,170.5 265.4,169.3 265.3,168.2 264.9,167.2 264.3,166.2 263.7,165.3" stroke="#d8b036" stroke-width="0.36000000000000004"/><path d="M267.4,177.9 267.2,176.9 266.9,176.1 266.4,175.3 265.9,174.5 265.7,173.6 265.9,172.4 266.3,171.3 266.6,170.2 266.6,169.2 266.3,168.4 265.8,167.6 265.3,166.8" stroke="#d8b036" stroke-width="0.36000000000000004"/><path d="M270,184 269.9,182.3 269.7,180.7 269.3,179.1 268.8,177.5" stroke="#d8b036" stroke-width="0.45"/><path d="M268.4,177.6 268.2,176.6 267.9,175.5 267.5,174.6 266.8,173.6 266,172.7 265.4,171.7 265.1,170.7 265,169.7 265,168.6 265.1,167.5 265.1,166.5 265,165.4 269.7,163.5 269.6,164.7 269.3,165.9 268.9,167.1 268.5,168.4 268.3,169.5 268.3,170.7 268.6,171.8 269,172.9 269.3,174 269.5,175.1 269.4,176.3 269.2,177.4Z" fill="#ead69a" stroke="none"/><path d="M268.4,177.6 268.2,176.6 267.9,175.5 267.5,174.6 266.8,173.6 266,172.7 265.4,171.7 265.1,170.7 265,169.7 265,168.6 265.1,167.5 265.1,166.5 265,165.4" stroke="#d8b036" stroke-width="0.36000000000000004"/><path d="M268.7,177.5 268.6,176.5 268.4,175.4 268.1,174.4 267.5,173.4 266.9,172.5 266.4,171.5 266.2,170.5 266.2,169.4 266.3,168.3 266.5,167.2 266.7,166.1 266.6,165" stroke="#d8b036" stroke-width="0.36000000000000004"/><path d="M268.9,177.5 269,176.3 268.9,175.1 268.7,174 268.2,172.9 267.7,171.8 267.3,170.6 267.2,169.5 267.2,168.3 267.5,167 267.8,165.8 268,164.6 268,163.4" stroke="#d8b036" stroke-width="0.36000000000000004"/><path d="M269.2,177.4 269.4,176.3 269.5,175.1 269.3,174 269,172.9 268.6,171.8 268.3,170.7 268.3,169.5 268.5,168.4 268.9,167.1 269.3,165.9 269.6,164.7 269.7,163.5" stroke="#d8b036" stroke-width="0.36000000000000004"/><path d="M270,184 270.3,182.5 270.4,181 270.4,179.5 270.5,178" stroke="#e2c060" stroke-width="0.45"/><path d="M270.2,178 270.4,176.9 270.4,175.8 270.2,174.6 269.7,173.4 269.5,172.2 269.9,171.2 270.7,170.2 271.7,169.3 272.4,168.3 272.6,167.2 272.4,166 272,164.7 276.3,166.1 276.4,167.3 276.3,168.3 275.9,169.3 274.9,170.1 273.7,170.9 272.5,171.8 271.8,172.7 271.8,173.8 271.9,174.9 271.9,176 271.5,177.1 270.9,178.1Z" fill="#dfc068" stroke="none"/><path d="M270.2,178 270.4,176.9 270.4,175.8 270.2,174.6 269.7,173.4 269.5,172.2 269.9,171.2 270.7,170.2 271.7,169.3 272.4,168.3 272.6,167.2 272.4,166 272,164.7" stroke="#e2c060" stroke-width="0.36000000000000004"/><path d="M270.4,178 270.6,177 270.8,176.1 270.6,175 270.2,173.9 269.9,172.9 270.4,171.9 271.3,171.1 272.3,170.3 273,169.5 273.2,168.5 273,167.5 272.7,166.3" stroke="#e2c060" stroke-width="0.36000000000000004"/><path d="M270.5,178 270.9,176.9 271.2,175.9 271.1,174.7 270.8,173.5 270.7,172.3 271.2,171.3 272.2,170.4 273.3,169.5 274.2,168.6 274.5,167.5 274.5,166.4 274.3,165.1" stroke="#e2c060" stroke-width="0.36000000000000004"/><path d="M270.7,178 271.2,177 271.5,176 271.5,175 271.2,173.8 271.2,172.7 271.8,171.8 272.9,170.9 274,170.1 274.9,169.3 275.3,168.3 275.3,167.3 275.1,166.1" stroke="#e2c060" stroke-width="0.36000000000000004"/><path d="M270.9,178.1 271.5,177.1 271.9,176 271.9,174.9 271.8,173.8 271.8,172.7 272.5,171.8 273.7,170.9 274.9,170.1 275.9,169.3 276.3,168.3 276.4,167.3 276.3,166.1" stroke="#e2c060" stroke-width="0.36000000000000004"/><path d="M270,184 270.8,182.9 271.4,181.7 271.8,180.4 272.2,179.1" stroke="#b8b8b8" stroke-width="0.45"/><path d="M271.9,178.9 272.1,178.2 272.5,177.5 272.9,176.9 273.3,176.2 273.2,175.4 272.8,174.4 272.4,173.4 272.2,172.5 272.4,171.8 272.8,171.2 273.4,170.6 274,170 278,170.8 277.2,171.4 276.3,171.9 275.6,172.5 275.1,173.2 275,174.1 275.2,175 275.3,176 275,176.8 274.4,177.4 273.7,178 273,178.5 272.5,179.2Z" fill="#d6d6d6" stroke="none"/><path d="M271.9,178.9 272.1,178.2 272.5,177.5 272.9,176.9 273.3,176.2 273.2,175.4 272.8,174.4 272.4,173.4 272.2,172.5 272.4,171.8 272.8,171.2 273.4,170.6 274,170" stroke="#b8b8b8" stroke-width="0.36000000000000004"/><path d="M272.1,179 272.4,178.2 272.9,177.4 273.5,176.7 273.9,175.9 273.9,175 273.7,173.9 273.4,172.8 273.3,171.9 273.5,171 274.1,170.3 274.8,169.6 275.5,168.9" stroke="#b8b8b8" stroke-width="0.36000000000000004"/><path d="M272.2,179.1 272.6,178.3 273.1,177.7 273.7,177 274.2,176.3 274.3,175.5 274.1,174.5 273.8,173.5 273.8,172.6 274.1,171.8 274.7,171.2 275.5,170.6 276.2,169.9" stroke="#b8b8b8" stroke-width="0.36000000000000004"/><path d="M272.3,179.1 272.8,178.4 273.4,177.7 274.2,177 274.7,176.3 274.9,175.4 274.8,174.4 274.6,173.4 274.7,172.4 275,171.6 275.7,170.9 276.6,170.3 277.3,169.6" stroke="#b8b8b8" stroke-width="0.36000000000000004"/><path d="M272.5,179.2 273,178.5 273.7,178 274.4,177.4 275,176.8 275.3,176 275.2,175 275,174.1 275.1,173.2 275.6,172.5 276.3,171.9 277.2,171.4 278,170.8" stroke="#b8b8b8" stroke-width="0.36000000000000004"/><path d="M270,184 268.5,182.5 266.9,181.1 265.2,179.9 263.4,178.7" stroke="#a8a8a8" stroke-width="0.45"/><path d="M263.3,179 262.1,178 260.7,177.2 259.1,176.7 257.4,176.3 256,175.6 255.1,174.3 254.2,172.9 253.2,171.7 251.8,170.9 250.1,170.6 248.3,170.6 246.5,170.5 250.4,168.3 251.9,168.6 253.5,168.8 254.9,169.2 256,170.1 256.8,171.4 257.3,173 258,174.4 259.1,175.3 260.5,175.8 261.8,176.4 262.8,177.3 263.6,178.5Z" fill="#d0d0d0" stroke="none"/><path d="M263.3,179 262.1,178 260.7,177.2 259.1,176.7 257.4,176.3 256,175.6 255.1,174.3 254.2,172.9 253.2,171.7 251.8,170.9 250.1,170.6 248.3,170.6 246.5,170.5" stroke="#a8a8a8" stroke-width="0.36000000000000004"/><path d="M263.4,178.9 262.1,177.7 260.7,176.8 259.1,176.2 257.4,175.7 256,174.8 254.9,173.5 254,171.9 253,170.6 251.5,169.7 249.8,169.3 247.8,169.2 246,168.9" stroke="#a8a8a8" stroke-width="0.36000000000000004"/><path d="M263.4,178.7 262.5,177.7 261.3,176.9 259.9,176.3 258.4,175.9 257.2,175.1 256.4,173.8 255.8,172.4 254.9,171.1 253.7,170.3 252.2,170 250.5,169.9 248.9,169.7" stroke="#a8a8a8" stroke-width="0.36000000000000004"/><path d="M263.5,178.6 262.4,177.3 261.1,176.3 259.6,175.6 257.9,174.9 256.6,174 255.6,172.5 254.8,170.8 253.8,169.3 252.4,168.3 250.7,167.8 248.9,167.6 247.1,167.2" stroke="#a8a8a8" stroke-width="0.36000000000000004"/><path d="M263.6,178.5 262.8,177.3 261.8,176.4 260.5,175.8 259.1,175.3 258,174.4 257.3,173 256.8,171.4 256,170.1 254.9,169.2 253.5,168.8 251.9,168.6 250.4,168.3" stroke="#a8a8a8" stroke-width="0.36000000000000004"/><path d="M270,184 268,183 265.8,182.3 263.6,181.7 261.5,181.2" stroke="#b8b8b8" stroke-width="0.45"/><path d="M261.4,181.4 259.9,181.2 258.5,180.6 257.2,179.9 255.7,179.5 254.1,179.7 252.4,180.1 250.9,179.9 249.6,179.1 248.4,178 247,177.3 245.5,177.3 243.8,177.7 245,174 246.7,173.7 248.2,174 249.4,175 250.6,176.3 251.8,177.4 253.2,177.8 254.8,177.7 256.4,177.7 257.7,178.4 258.9,179.4 260.2,180.3 261.6,180.9Z" fill="#d0d0d0" stroke="none"/><path d="M261.4,181.4 259.9,181.2 258.5,180.6 257.2,179.9 255.7,179.5 254.1,179.7 252.4,180.1 250.9,179.9 249.6,179.1 248.4,178 247,177.3 245.5,177.3 243.8,177.7" stroke="#b8b8b8" stroke-width="0.36000000000000004"/><path d="M261.4,181.2 260,180.9 258.7,180.3 257.5,179.5 256.2,179 254.6,179.2 253,179.5 251.6,179.2 250.4,178.3 249.3,177.2 248,176.4 246.5,176.3 244.9,176.7" stroke="#b8b8b8" stroke-width="0.36000000000000004"/><path d="M261.5,181.1 260.2,180.6 259.1,179.9 258,179.1 256.8,178.6 255.3,178.7 253.9,178.9 252.6,178.6 251.5,177.7 250.5,176.5 249.4,175.6 248.1,175.5 246.6,175.8" stroke="#b8b8b8" stroke-width="0.36000000000000004"/><path d="M261.6,180.9 260.2,180.3 258.9,179.4 257.7,178.4 256.4,177.7 254.8,177.7 253.2,177.8 251.8,177.4 250.6,176.3 249.4,175 248.2,174 246.7,173.7 245,174" stroke="#b8b8b8" stroke-width="0.36000000000000004"/><path d="M270,184 271.8,183.3 273.7,182.6 275.4,181.7 277,180.6" stroke="#a8a8a8" stroke-width="0.45"/><path d="M276.9,180.4 278.1,179.7 279.4,179.2 280.7,178.7 281.9,178.2 283.1,177.4 284.1,176.4 285.1,175.3 286.2,174.4 287.4,173.7 288.7,173.2 290.1,172.9 291.4,172.6 293.5,174.9 292,175.1 290.5,175.3 289.1,175.6 287.7,176.2 286.5,176.9 285.3,177.8 284.1,178.7 282.8,179.3 281.4,179.7 279.9,180 278.5,180.4 277.1,180.8Z" fill="#e4e4e4" stroke="none"/><path d="M276.9,180.4 278.1,179.7 279.4,179.2 280.7,178.7 281.9,178.2 283.1,177.4 284.1,176.4 285.1,175.3 286.2,174.4 287.4,173.7 288.7,173.2 290.1,172.9 291.4,172.6" stroke="#a8a8a8" stroke-width="0.36000000000000004"/><path d="M277,180.6 278.1,180 279.4,179.6 280.6,179.2 281.8,178.8 282.9,178.1 283.8,177.2 284.8,176.2 285.8,175.4 287,174.8 288.2,174.4 289.5,174.2 290.8,174" stroke="#a8a8a8" stroke-width="0.36000000000000004"/><path d="M277.1,180.7 278.3,180.2 279.7,179.8 281,179.4 282.3,179 283.6,178.4 284.6,177.4 285.7,176.5 286.9,175.7 288.1,175.1 289.5,174.8 290.9,174.6 292.3,174.4" stroke="#a8a8a8" stroke-width="0.36000000000000004"/><path d="M277.1,180.8 278.5,180.4 279.9,180 281.4,179.7 282.8,179.3 284.1,178.7 285.3,177.8 286.5,176.9 287.7,176.2 289.1,175.6 290.5,175.3 292,175.1 293.5,174.9" stroke="#a8a8a8" stroke-width="0.36000000000000004"/><path d="M270,184 272.1,184.2 274.2,184.2 276.3,183.9 278.4,183.7" stroke="#a8a8a8" stroke-width="0.45"/><path d="M278.4,183.5 279.9,183.3 281.4,183.4 283,183.6 284.5,183.4 285.9,182.5 287.4,181.4 288.8,180.9 290.4,181 291.9,181.5 293.4,181.6 294.9,181 296.2,179.7 297.5,182.5 296,183.6 294.4,184.1 292.8,183.8 291.1,183.2 289.5,182.8 287.9,183.2 286.4,184.1 284.8,184.8 283.2,184.8 281.6,184.3 280,184 278.4,184Z" fill="#d6d6d6" stroke="none"/><path d="M278.4,183.5 279.9,183.3 281.4,183.4 283,183.6 284.5,183.4 285.9,182.5 287.4,181.4 288.8,180.9 290.4,181 291.9,181.5 293.4,181.6 294.9,181 296.2,179.7" stroke="#a8a8a8" stroke-width="0.36000000000000004"/><path d="M278.4,183.7 280,183.5 281.6,183.7 283.2,184 284.8,183.9 286.4,183 287.9,182 289.5,181.5 291.1,181.7 292.8,182.2 294.4,182.4 296,181.8 297.4,180.5" stroke="#a8a8a8" stroke-width="0.36000000000000004"/><path d="M278.4,183.8 280,183.7 281.7,184 283.4,184.4 285,184.3 286.6,183.6 288.2,182.6 289.8,182.1 291.5,182.4 293.2,182.9 294.9,183.2 296.5,182.6 298,181.4" stroke="#a8a8a8" stroke-width="0.36000000000000004"/><path d="M278.4,184 280,184 281.6,184.3 283.2,184.8 284.8,184.8 286.4,184.1 287.9,183.2 289.5,182.8 291.1,183.2 292.8,183.8 294.4,184.1 296,183.6 297.5,182.5" stroke="#a8a8a8" stroke-width="0.36000000000000004"/><path d="M270,184 271.8,184.6 273.8,185.1 275.6,185.7 277.4,186.5" stroke="#a8a8a8" stroke-width="0.45"/><path d="M277.5,186.3 278.9,186.5 280.2,187 281.5,187.6 282.7,188.4 284,189.1 285.4,189.4 286.9,189.5 288.4,189.4 290,189.3 291.5,189.5 292.8,189.9 294.1,190.6 294.7,194 293.3,193.1 291.9,192.4 290.4,192.1 288.8,191.9 287.1,191.7 285.6,191.4 284.1,190.9 282.8,190 281.5,188.9 280.2,188 278.8,187.3 277.3,186.7Z" fill="#d6d6d6" stroke="none"/><path d="M277.5,186.3 278.9,186.5 280.2,187 281.5,187.6 282.7,188.4 284,189.1 285.4,189.4 286.9,189.5 288.4,189.4 290,189.3 291.5,189.5 292.8,189.9 294.1,190.6" stroke="#a8a8a8" stroke-width="0.36000000000000004"/><path d="M277.4,186.5 278.8,186.9 280.2,187.5 281.5,188.3 282.7,189.2 284,190 285.5,190.4 287,190.6 288.6,190.6 290.1,190.7 291.6,190.9 293,191.5 294.3,192.3" stroke="#a8a8a8" stroke-width="0.36000000000000004"/><path d="M277.3,186.7 278.8,187.3 280.2,188 281.5,188.9 282.8,190 284.1,190.9 285.6,191.4 287.1,191.7 288.8,191.9 290.4,192.1 291.9,192.4 293.3,193.1 294.7,194" stroke="#a8a8a8" stroke-width="0.36000000000000004"/><path d="M270,184 271.7,186.1 273.3,188.3 274.6,190.6 276,193" stroke="#a8a8a8" stroke-width="0.45"/><path d="M276.2,192.8 277.3,194.4 278.6,195.9 280.2,197.1 281.8,198.3 283.2,199.6 284.2,201.3 285,203.1 286.1,204.7 287.5,206 289.4,207 291.3,207.8 293.2,208.7 289.6,209.2 288,208.3 286.2,207.4 284.7,206.4 283.5,205.1 282.7,203.4 282.1,201.6 281.4,199.9 280.3,198.6 278.9,197.4 277.6,196.1 276.6,194.7 275.8,193.1Z" fill="#d0d0d0" stroke="none"/><path d="M276.2,192.8 277.3,194.4 278.6,195.9 280.2,197.1 281.8,198.3 283.2,199.6 284.2,201.3 285,203.1 286.1,204.7 287.5,206 289.4,207 291.3,207.8 293.2,208.7" stroke="#a8a8a8" stroke-width="0.36000000000000004"/><path d="M276,193 277.1,194.7 278.4,196.3 279.9,197.7 281.5,199 282.9,200.5 283.8,202.4 284.7,204.3 285.8,206.1 287.2,207.5 289,208.6 291,209.6 292.9,210.6" stroke="#a8a8a8" stroke-width="0.36000000000000004"/><path d="M275.8,193.1 276.6,194.7 277.6,196.1 278.9,197.4 280.3,198.6 281.4,199.9 282.1,201.6 282.7,203.4 283.5,205.1 284.7,206.4 286.2,207.4 288,208.3 289.6,209.2" stroke="#a8a8a8" stroke-width="0.36000000000000004"/><path d="M270,184 270.7,186.8 271.2,189.6 271.9,192.3 272.8,195.1" stroke="#a8a8a8" stroke-width="0.45"/><path d="M273.1,195 273.6,197 274.1,199 275,200.9 276.4,202.7 277.9,204.3 279,206.1 279.6,208.1 279.9,210.2 280.4,212.3 281.5,214 283.2,215.6 285.2,216.9 281.6,217.4 279.8,216 278.4,214.4 277.5,212.6 277.2,210.5 277.1,208.4 276.8,206.4 276,204.5 274.7,202.8 273.6,201.1 273,199.2 272.8,197.1 272.5,195.1Z" fill="#d6d6d6" stroke="none"/><path d="M273.1,195 273.6,197 274.1,199 275,200.9 276.4,202.7 277.9,204.3 279,206.1 279.6,208.1 279.9,210.2 280.4,212.3 281.5,214 283.2,215.6 285.2,216.9" stroke="#a8a8a8" stroke-width="0.36000000000000004"/><path d="M273,195 273.4,196.8 273.8,198.7 274.6,200.4 275.8,202 277.3,203.5 278.2,205.1 278.6,207 278.8,208.9 279.2,210.8 280.2,212.4 281.7,213.8 283.6,215" stroke="#a8a8a8" stroke-width="0.36000000000000004"/><path d="M272.9,195 273.2,196.8 273.6,198.7 274.3,200.4 275.4,201.9 276.8,203.4 277.7,205 278,206.8 278.2,208.7 278.5,210.5 279.4,212.2 280.9,213.5 282.7,214.7" stroke="#a8a8a8" stroke-width="0.36000000000000004"/><path d="M272.7,195.1 273.1,197 273.4,198.9 274.1,200.8 275.3,202.5 276.7,204.1 277.5,205.8 277.9,207.7 278,209.8 278.4,211.8 279.3,213.5 280.8,215 282.6,216.3" stroke="#a8a8a8" stroke-width="0.36000000000000004"/><path d="M272.6,195.1 273,197.2 273.3,199.3 274,201.3 275.2,203.1 276.5,204.9 277.4,206.8 277.8,208.9 278,211.1 278.4,213.2 279.3,215.1 280.9,216.8 282.8,218.3" stroke="#a8a8a8" stroke-width="0.36000000000000004"/><path d="M272.5,195.1 272.8,197.1 273,199.2 273.6,201.1 274.7,202.8 276,204.5 276.8,206.4 277.1,208.4 277.2,210.5 277.5,212.6 278.4,214.4 279.8,216 281.6,217.4" stroke="#a8a8a8" stroke-width="0.36000000000000004"/><path d="M270,184 269.6,186.7 269.6,189.4 269.5,192.1 269.4,194.8" stroke="#b8b8b8" stroke-width="0.45"/><path d="M269.6,194.8 269.6,196.5 269.4,198.2 268.9,199.9 268.6,201.6 268.8,203.4 269.5,205.2 270,207 270.2,208.7 269.8,210.4 269.1,212.1 268.3,213.7 267.8,215.4 265,213.6 265.6,212.1 266.6,210.6 267.5,209.1 268.1,207.5 268.1,205.9 267.7,204.3 267.2,202.6 267.2,201 267.8,199.5 268.4,197.9 268.9,196.4 269.1,194.8Z" fill="#e4e4e4" stroke="none"/><path d="M269.6,194.8 269.6,196.5 269.4,198.2 268.9,199.9 268.6,201.6 268.8,203.4 269.5,205.2 270,207 270.2,208.7 269.8,210.4 269.1,212.1 268.3,213.7 267.8,215.4" stroke="#b8b8b8" stroke-width="0.36000000000000004"/><path d="M269.4,194.8 269.3,196.5 268.9,198.2 268.3,199.8 267.9,201.5 268,203.2 268.6,205 269.1,206.7 269.1,208.4 268.7,210.1 267.8,211.7 266.9,213.3 266.4,215" stroke="#b8b8b8" stroke-width="0.36000000000000004"/><path d="M269.1,194.8 268.9,196.4 268.4,197.9 267.8,199.5 267.2,201 267.2,202.6 267.7,204.3 268.1,205.9 268.1,207.5 267.5,209.1 266.6,210.6 265.6,212.1 265,213.6" stroke="#b8b8b8" stroke-width="0.36000000000000004"/><path d="M270,184 269.1,186.1 267.9,188 266.6,189.8 265.5,191.8" stroke="#a8a8a8" stroke-width="0.45"/><path d="M265.6,191.9 264.9,193.4 264.4,195.1 264.1,196.9 263.5,198.5 262.5,199.9 261.1,201.1 259.9,202.4 259,203.9 258.6,205.6 258.6,207.5 258.5,209.4 258.3,211.2 256.9,209.5 257.2,207.8 257.3,206.1 257.5,204.3 258,202.7 258.9,201.4 260.3,200.2 261.7,199.1 262.8,197.8 263.5,196.3 263.9,194.7 264.5,193.1 265.4,191.7Z" fill="#e4e4e4" stroke="none"/><path d="M265.6,191.9 264.9,193.4 264.4,195.1 264.1,196.9 263.5,198.5 262.5,199.9 261.1,201.1 259.9,202.4 259,203.9 258.6,205.6 258.6,207.5 258.5,209.4 258.3,211.2" stroke="#a8a8a8" stroke-width="0.36000000000000004"/><path d="M265.5,191.8 264.7,193.3 264.1,195 263.7,196.7 263,198.4 262,199.8 260.5,201 259.2,202.3 258.3,203.8 257.8,205.5 257.7,207.4 257.6,209.3 257.2,211" stroke="#a8a8a8" stroke-width="0.36000000000000004"/><path d="M265.4,191.7 264.5,193.1 263.9,194.7 263.5,196.3 262.8,197.8 261.7,199.1 260.3,200.2 258.9,201.4 258,202.7 257.5,204.3 257.3,206.1 257.2,207.8 256.9,209.5" stroke="#a8a8a8" stroke-width="0.36000000000000004"/><path d="M270,184 268.8,184.9 267.5,185.7 266.4,186.7 265.3,187.8 264.3,188.9 263.1,189.8" stroke="#a8a8a8" stroke-width="0.45"/><path d="M263.1,189.8 262.2,190.3 261.5,191 261,192 260.2,192.6 259.2,192.9 258,192.9 256.9,193.1 256,193.5 255.2,194.2 254.6,195.1" stroke="#a8a8a8" stroke-width="0.45"/><path d="M261,192 260.1,191.9 259.3,192.3 258.5,192.6 257.6,192.7 256.8,192.5" stroke="#a8a8a8" stroke-width="0.405"/><path d="M345,196 343.5,192.9 341.6,190 339.4,187.3 337.5,184.4 335.9,181.4 334.4,178.2" stroke="#a8a8a8" stroke-width="0.45"/><path d="M334.4,178.2 333.1,176.1 331.7,174 330.1,172.1 328.5,170.1 327.1,168 325.8,165.9 324.5,163.7 323,161.7 321.3,159.8 319.4,158.1" stroke="#a8a8a8" stroke-width="0.45"/><path d="M324.5,163.7 324.7,161.9 325.2,160.1 325.8,158.4 326.1,156.6 326.2,154.7" stroke="#a8a8a8" stroke-width="0.405"/><path d="M345,196 346.7,194.3 348.6,192.8 350.3,191.1 351.9,189.3" stroke="#b8b8b8" stroke-width="0.45"/><path d="M351.7,189.2 352.4,187.6 353,186 353.8,184.5 354.8,183.2 356.1,181.9 357.1,180.6 357.6,178.9 357.8,177.1 357.9,175.2 358.1,173.4 358.7,171.8 359.7,170.4 362,172.5 360.8,173.7 360.1,175.2 359.7,176.8 359.5,178.6 359.2,180.3 358.4,181.8 357.3,183 355.9,184.1 354.7,185.3 353.7,186.6 353,188.1 352.1,189.4Z" fill="#e4e4e4" stroke="none"/><path d="M351.7,189.2 352.4,187.6 353,186 353.8,184.5 354.8,183.2 356.1,181.9 357.1,180.6 357.6,178.9 357.8,177.1 357.9,175.2 358.1,173.4 358.7,171.8 359.7,170.4" stroke="#b8b8b8" stroke-width="0.36000000000000004"/><path d="M351.9,189.3 352.7,187.8 353.4,186.3 354.2,184.8 355.4,183.6 356.7,182.4 357.8,181.1 358.4,179.5 358.7,177.7 358.9,175.9 359.2,174.1 359.9,172.6 360.9,171.2" stroke="#b8b8b8" stroke-width="0.36000000000000004"/><path d="M352.1,189.4 353,188.1 353.7,186.6 354.7,185.3 355.9,184.1 357.3,183 358.4,181.8 359.2,180.3 359.5,178.6 359.7,176.8 360.1,175.2 360.8,173.7 362,172.5" stroke="#b8b8b8" stroke-width="0.36000000000000004"/><path d="M351.8,189.1 352.7,188.1 353.6,187 354.6,186 355.7,185.1 356.9,184.5 358.2,183.8 359.3,182.9 360.2,181.9 361,180.6 361.6,179.2 362.2,177.8 362.8,176.4 366.6,177 365.7,178.4 364.8,179.9 363.9,181.3 362.9,182.6 361.6,183.6 360.2,184.4 358.7,185.1 357.2,185.7 355.8,186.5 354.5,187.5 353.3,188.5 352,189.5Z" fill="#dedede" stroke="none"/><path d="M351.8,189.1 352.7,188.1 353.6,187 354.6,186 355.7,185.1 356.9,184.5 358.2,183.8 359.3,182.9 360.2,181.9 361,180.6 361.6,179.2 362.2,177.8 362.8,176.4" stroke="#b8b8b8" stroke-width="0.36000000000000004"/><path d="M351.9,189.3 353.1,188.3 354.2,187.1 355.4,186.1 356.7,185.3 358.1,184.6 359.5,183.8 360.8,182.9 362,181.8 362.9,180.5 363.8,179.1 364.5,177.6 365.3,176.2" stroke="#b8b8b8" stroke-width="0.36000000000000004"/><path d="M352,189.5 353.3,188.5 354.5,187.5 355.8,186.5 357.2,185.7 358.7,185.1 360.2,184.4 361.6,183.6 362.9,182.6 363.9,181.3 364.8,179.9 365.7,178.4 366.6,177" stroke="#b8b8b8" stroke-width="0.36000000000000004"/><path d="M345,196 347.2,195.4 349.3,194.7 351.4,193.8 353.4,192.8" stroke="#b8b8b8" stroke-width="0.45"/><path d="M353.3,192.6 354.9,191.9 356.3,191 357.7,190.1 359.3,189.5 361,189.4 362.7,189.3 364.4,189 365.8,188.2 367.2,187.1 368.5,185.9 369.9,184.9 371.5,184.3 371.6,186.9 370,187.3 368.6,188.2 367.3,189.2 366,190.1 364.5,190.7 362.9,190.9 361.1,190.7 359.4,190.7 357.9,191.1 356.4,191.8 355,192.5 353.5,193Z" fill="#dedede" stroke="none"/><path d="M353.3,192.6 354.9,191.9 356.3,191 357.7,190.1 359.3,189.5 361,189.4 362.7,189.3 364.4,189 365.8,188.2 367.2,187.1 368.5,185.9 369.9,184.9 371.5,184.3" stroke="#b8b8b8" stroke-width="0.36000000000000004"/><path d="M353.4,192.7 354.8,192.1 356.1,191.4 357.4,190.6 358.9,190.1 360.5,190 362.1,190.1 363.6,189.8 365,189.2 366.2,188.2 367.5,187 368.7,186.1 370.2,185.7" stroke="#b8b8b8" stroke-width="0.36000000000000004"/><path d="M353.4,192.9 355.1,192.3 356.7,191.4 358.3,190.6 360,190.1 361.8,190 363.7,190 365.5,189.8 367.1,189.1 368.6,188 370.1,186.9 371.6,186 373.3,185.5" stroke="#b8b8b8" stroke-width="0.36000000000000004"/><path d="M353.5,193 355,192.5 356.4,191.8 357.9,191.1 359.4,190.7 361.1,190.7 362.9,190.9 364.5,190.7 366,190.1 367.3,189.2 368.6,188.2 370,187.3 371.6,186.9" stroke="#b8b8b8" stroke-width="0.36000000000000004"/><path d="M345,196 343.1,196.3 341.1,196.3 339.1,196.3 337.2,196.4" stroke="#d8b036" stroke-width="0.45"/><path d="M337.2,196.6 335.8,196.9 334.3,197.3 332.9,197.7 331.4,197.8 329.9,197.5 328.4,196.9 327,196.3 325.5,196 324,196 322.6,196.2 321.1,196.6 319.6,196.8 320.6,194.4 322,194.3 323.4,194.1 324.7,194 326.1,194.2 327.5,194.7 328.8,195.4 330.2,196.1 331.6,196.6 333,196.7 334.4,196.5 335.8,196.3 337.2,196.2Z" fill="#e6cc78" stroke="none"/><path d="M337.2,196.6 335.8,196.9 334.3,197.3 332.9,197.7 331.4,197.8 329.9,197.5 328.4,196.9 327,196.3 325.5,196 324,196 322.6,196.2 321.1,196.6 319.6,196.8" stroke="#d8b036" stroke-width="0.36000000000000004"/><path d="M337.2,196.4 335.8,196.6 334.5,196.9 333.1,197.2 331.7,197.2 330.3,196.8 328.9,196.1 327.6,195.5 326.2,195.1 324.9,195 323.5,195.2 322.1,195.5 320.7,195.6" stroke="#d8b036" stroke-width="0.36000000000000004"/><path d="M337.2,196.2 335.8,196.3 334.4,196.5 333,196.7 331.6,196.6 330.2,196.1 328.8,195.4 327.5,194.7 326.1,194.2 324.7,194 323.4,194.1 322,194.3 320.6,194.4" stroke="#d8b036" stroke-width="0.36000000000000004"/><path d="M345,196 343.1,196.5 341.3,197.2 339.5,198.1 337.8,198.9" stroke="#b8b8b8" stroke-width="0.45"/><path d="M337.8,199.1 336.7,199.7 335.5,200 334.3,200.3 333.2,200.9 332.3,202 331.4,203.1 330.3,203.8 329.1,204.1 327.8,204.2 326.6,204.5 325.5,205.2 324.6,206.3 323.2,204.2 324.1,203.2 325.3,202.7 326.7,202.5 328.1,202.6 329.4,202.4 330.6,201.8 331.6,200.8 332.6,199.9 333.8,199.4 335.1,199.3 336.5,199.1 337.7,198.7Z" fill="#d0d0d0" stroke="none"/><path d="M337.8,199.1 336.7,199.7 335.5,200 334.3,200.3 333.2,200.9 332.3,202 331.4,203.1 330.3,203.8 329.1,204.1 327.8,204.2 326.6,204.5 325.5,205.2 324.6,206.3" stroke="#b8b8b8" stroke-width="0.36000000000000004"/><path d="M337.8,198.9 336.5,199.4 335.2,199.7 333.9,199.9 332.7,200.5 331.7,201.5 330.7,202.5 329.6,203.2 328.3,203.5 326.9,203.6 325.5,203.8 324.4,204.4 323.4,205.5" stroke="#b8b8b8" stroke-width="0.36000000000000004"/><path d="M337.7,198.7 336.5,199.1 335.1,199.3 333.8,199.4 332.6,199.9 331.6,200.8 330.6,201.8 329.4,202.4 328.1,202.6 326.7,202.5 325.3,202.7 324.1,203.2 323.2,204.2" stroke="#b8b8b8" stroke-width="0.36000000000000004"/><path d="M345,196 343.3,197.4 341.7,199 340,200.6 338.3,202" stroke="#b8b8b8" stroke-width="0.45"/><path d="M338.4,202.1 337.4,203.1 336.6,204.3 335.8,205.6 334.8,206.6 333.4,207.3 331.9,207.7 330.6,208.3 329.5,209.3 328.8,210.6 328.3,212.2 327.8,213.7 327.2,215.1 324,215.4 324.9,213.9 325.6,212.3 326.3,210.7 327.3,209.3 328.6,208.3 330.2,207.6 331.9,207.1 333.5,206.5 334.8,205.4 335.8,204.1 336.9,202.9 338.2,201.9Z" fill="#d6d6d6" stroke="none"/><path d="M338.4,202.1 337.4,203.1 336.6,204.3 335.8,205.6 334.8,206.6 333.4,207.3 331.9,207.7 330.6,208.3 329.5,209.3 328.8,210.6 328.3,212.2 327.8,213.7 327.2,215.1" stroke="#b8b8b8" stroke-width="0.36000000000000004"/><path d="M338.3,202 337.1,203.1 336.1,204.4 335.1,205.8 334,206.9 332.5,207.6 330.8,208.2 329.3,208.9 328,209.9 327.1,211.4 326.5,213.1 325.8,214.7 325,216.2" stroke="#b8b8b8" stroke-width="0.36000000000000004"/><path d="M338.2,201.9 337.1,202.9 336.1,204.1 335.2,205.4 334.1,206.4 332.6,207 331,207.5 329.5,208.1 328.3,209 327.5,210.4 326.8,211.9 326.2,213.5 325.4,214.9" stroke="#b8b8b8" stroke-width="0.36000000000000004"/><path d="M338.2,201.9 336.9,202.9 335.8,204.1 334.8,205.4 333.5,206.5 331.9,207.1 330.2,207.6 328.6,208.3 327.3,209.3 326.3,210.7 325.6,212.3 324.9,213.9 324,215.4" stroke="#b8b8b8" stroke-width="0.36000000000000004"/><path d="M345,196 343.6,198.1 342.5,200.4 341.5,202.8 340.4,205.1" stroke="#e2c060" stroke-width="0.45"/><path d="M340.6,205.2 340,206.8 339.5,208.4 338.9,209.9 338.1,211.3 337,212.6 335.8,213.9 334.8,215.2 333.9,216.6 333.2,218.1 332.8,219.7 332.4,221.4 332,223.1 328.7,224.9 329.3,223.1 329.9,221.2 330.6,219.5 331.6,217.8 332.7,216.2 334,214.7 335.4,213.3 336.7,211.9 337.8,210.3 338.7,208.5 339.5,206.8 340.3,205.1Z" fill="#dfc068" stroke="none"/><path d="M340.6,205.2 340,206.8 339.5,208.4 338.9,209.9 338.1,211.3 337,212.6 335.8,213.9 334.8,215.2 333.9,216.6 333.2,218.1 332.8,219.7 332.4,221.4 332,223.1" stroke="#e2c060" stroke-width="0.36000000000000004"/><path d="M340.5,205.2 339.8,206.9 339.1,208.7 338.3,210.4 337.3,212.1 336.1,213.6 334.8,215 333.6,216.5 332.5,218.1 331.7,219.8 331.1,221.6 330.5,223.5 330,225.3" stroke="#e2c060" stroke-width="0.36000000000000004"/><path d="M340.4,205.1 339.7,206.7 339.1,208.2 338.4,209.8 337.5,211.2 336.3,212.5 335,213.7 333.9,215 332.9,216.4 332.1,217.9 331.6,219.5 331.1,221.2 330.6,222.8" stroke="#e2c060" stroke-width="0.36000000000000004"/><path d="M340.3,205.1 339.5,206.8 338.7,208.5 337.8,210.3 336.7,211.9 335.4,213.3 334,214.7 332.7,216.2 331.6,217.8 330.6,219.5 329.9,221.2 329.3,223.1 328.7,224.9" stroke="#e2c060" stroke-width="0.36000000000000004"/><path d="M345,196 344.5,198.7 344.3,201.4 344.2,204.1 344.2,206.8" stroke="#b8b8b8" stroke-width="0.45"/><path d="M344.4,206.8 344.5,208.9 344.8,211 345,213.1 344.9,215.2 344.4,217.2 343.8,219.3 343.4,221.4 343.3,223.5 343.6,225.6 344.2,227.7 345,229.8 345.7,231.9 343.3,230 342.7,228 342.1,226.1 341.6,224.1 341.5,222.1 341.7,220.2 342.4,218.3 343.1,216.4 343.8,214.5 344,212.6 344,210.6 343.9,208.7 344,206.8Z" fill="#d6d6d6" stroke="none"/><path d="M344.4,206.8 344.5,208.9 344.8,211 345,213.1 344.9,215.2 344.4,217.2 343.8,219.3 343.4,221.4 343.3,223.5 343.6,225.6 344.2,227.7 345,229.8 345.7,231.9" stroke="#b8b8b8" stroke-width="0.36000000000000004"/><path d="M344.2,206.8 344.2,208.5 344.4,210.3 344.5,212.1 344.4,213.8 343.9,215.5 343.2,217.3 342.6,219 342.5,220.8 342.7,222.5 343.2,224.3 343.9,226.1 344.6,227.9" stroke="#b8b8b8" stroke-width="0.36000000000000004"/><path d="M344,206.8 343.9,208.7 344,210.6 344,212.6 343.8,214.5 343.1,216.4 342.4,218.3 341.7,220.2 341.5,222.1 341.6,224.1 342.1,226.1 342.7,228 343.3,230" stroke="#b8b8b8" stroke-width="0.36000000000000004"/><path d="M345,196 345.9,198.2 346.7,200.5 347.3,202.8 347.8,205.2" stroke="#b8b8b8" stroke-width="0.45"/><path d="M348,205.1 348.5,206.7 349.3,208.2 350.4,209.6 351.4,211 351.9,212.6 352,214.3 352.2,216 353,217.5 354.5,218.7 356.1,219.8 357.6,220.9 358.6,222.3 356.8,223.2 355.9,221.7 354.6,220.5 353,219.4 351.7,218.1 351,216.6 350.9,214.8 350.9,213 350.5,211.3 349.6,209.9 348.7,208.4 348,206.9 347.7,205.2Z" fill="#e4e4e4" stroke="none"/><path d="M348,205.1 348.5,206.7 349.3,208.2 350.4,209.6 351.4,211 351.9,212.6 352,214.3 352.2,216 353,217.5 354.5,218.7 356.1,219.8 357.6,220.9 358.6,222.3" stroke="#b8b8b8" stroke-width="0.36000000000000004"/><path d="M347.8,205.2 348.2,206.9 349,208.4 350.1,209.9 351.1,211.4 351.5,213 351.6,214.9 351.8,216.7 352.6,218.2 353.9,219.5 355.6,220.7 357,221.9 358,223.3" stroke="#b8b8b8" stroke-width="0.36000000000000004"/><path d="M347.7,205.2 348,206.9 348.7,208.4 349.6,209.9 350.5,211.3 350.9,213 350.9,214.8 351,216.6 351.7,218.1 353,219.4 354.6,220.5 355.9,221.7 356.8,223.2" stroke="#b8b8b8" stroke-width="0.36000000000000004"/><path d="M345,196 346.6,197.6 348.5,198.9 350.3,200.2 352.1,201.6" stroke="#b8b8b8" stroke-width="0.45"/><path d="M352.2,201.4 353.2,202.4 354.1,203.4 355.1,204.2 356.4,204.7 357.9,205 359.4,205.2 360.6,205.8 361.6,206.8 362.4,207.9 363.1,209.2 364,210.3 365.1,211 366.5,214.4 365.2,213.5 364.2,212.2 363.3,210.7 362.4,209.2 361.3,208 359.9,207.2 358.3,206.6 356.6,206.1 355.2,205.3 354.1,204.2 353.1,202.9 352,201.7Z" fill="#dedede" stroke="none"/><path d="M352.2,201.4 353.2,202.4 354.1,203.4 355.1,204.2 356.4,204.7 357.9,205 359.4,205.2 360.6,205.8 361.6,206.8 362.4,207.9 363.1,209.2 364,210.3 365.1,211" stroke="#b8b8b8" stroke-width="0.36000000000000004"/><path d="M352.1,201.5 353.2,202.6 354.2,203.7 355.3,204.7 356.7,205.4 358.3,205.7 359.9,206.1 361.2,206.8 362.3,207.9 363.1,209.2 364,210.6 365,211.8 366.2,212.6" stroke="#b8b8b8" stroke-width="0.36000000000000004"/><path d="M352.1,201.6 353,202.6 353.8,203.7 354.8,204.7 356.1,205.3 357.6,205.6 359,206 360.2,206.6 361.1,207.6 361.9,208.9 362.6,210.3 363.4,211.4 364.5,212.2" stroke="#b8b8b8" stroke-width="0.36000000000000004"/><path d="M352,201.7 353.1,202.9 354.1,204.2 355.2,205.3 356.6,206.1 358.3,206.6 359.9,207.2 361.3,208 362.4,209.2 363.3,210.7 364.2,212.2 365.2,213.5 366.5,214.4" stroke="#b8b8b8" stroke-width="0.36000000000000004"/><path d="M345,196 347,196.5 349.1,196.8 351.2,197.4 353.1,198.1" stroke="#b8b8b8" stroke-width="0.45"/><path d="M353.2,197.9 354.4,198.2 355.7,198.1 357,197.9 358.2,198.1 359.3,199 360.4,199.9 361.6,200.1 363,199.6 364.4,198.8 365.8,198.4 366.9,198.8 368,199.7 366.9,201.6 365.9,200.6 364.8,200 363.5,200.3 362.2,200.9 360.9,201.4 359.7,201 358.8,200 357.8,199 356.6,198.6 355.4,198.7 354.2,198.7 353.1,198.2Z" fill="#d6d6d6" stroke="none"/><path d="M353.2,197.9 354.4,198.2 355.7,198.1 357,197.9 358.2,198.1 359.3,199 360.4,199.9 361.6,200.1 363,199.6 364.4,198.8 365.8,198.4 366.9,198.8 368,199.7" stroke="#b8b8b8" stroke-width="0.36000000000000004"/><path d="M353.2,198 354.3,198.3 355.5,198.3 356.8,198.1 357.9,198.4 358.9,199.3 359.9,200.2 361,200.5 362.3,200 363.7,199.2 364.9,198.9 366,199.3 367,200.3" stroke="#b8b8b8" stroke-width="0.36000000000000004"/><path d="M353.1,198.1 354.2,198.5 355.4,198.5 356.7,198.4 357.8,198.7 358.8,199.6 359.8,200.6 360.9,200.9 362.2,200.4 363.5,199.7 364.8,199.4 365.9,199.9 366.9,200.9" stroke="#b8b8b8" stroke-width="0.36000000000000004"/><path d="M353.1,198.2 354.2,198.7 355.4,198.7 356.6,198.6 357.8,199 358.8,200 359.7,201 360.9,201.4 362.2,200.9 363.5,200.3 364.8,200 365.9,200.6 366.9,201.6" stroke="#b8b8b8" stroke-width="0.36000000000000004"/><path d="M345,196 343.4,195.6 341.8,195.4 340.1,195 338.6,194.5" stroke="#b8b8b8" stroke-width="0.45"/><path d="M338.5,194.6 337.3,194.6 336.1,194.4 335,193.7 334,192.7 332.9,192.1 331.6,192.3 330.1,192.7 328.8,192.9 327.6,192.4 326.7,191.3 325.9,190 325,189 323.8,186.4 324.8,187.6 325.7,189.1 326.7,190.4 328,191 329.5,191 331,190.8 332.4,190.8 333.6,191.6 334.7,192.8 335.9,193.7 337.2,194.1 338.6,194.4Z" fill="#dedede" stroke="none"/><path d="M338.5,194.6 337.3,194.6 336.1,194.4 335,193.7 334,192.7 332.9,192.1 331.6,192.3 330.1,192.7 328.8,192.9 327.6,192.4 326.7,191.3 325.9,190 325,189" stroke="#b8b8b8" stroke-width="0.36000000000000004"/><path d="M338.6,194.5 337.2,194.3 335.9,194 334.7,193.2 333.6,192.1 332.4,191.4 330.9,191.4 329.4,191.7 327.9,191.8 326.6,191.2 325.6,190 324.7,188.5 323.7,187.4" stroke="#b8b8b8" stroke-width="0.36000000000000004"/><path d="M338.6,194.4 337.2,194.1 335.9,193.7 334.7,192.8 333.6,191.6 332.4,190.8 331,190.8 329.5,191 328,191 326.7,190.4 325.7,189.1 324.8,187.6 323.8,186.4" stroke="#b8b8b8" stroke-width="0.36000000000000004"/><path d="M345,196 342.9,198.5 340.9,201.2 339.2,204 337.6,206.9 335.7,209.7 333.8,212.3" stroke="#a8a8a8" stroke-width="0.45"/><path d="M333.8,212.3 332.6,214.4 331.3,216.3 329.9,218.3 328.7,220.3 327.6,222.5 326.7,224.6 325.7,226.8 324.5,228.8 323.2,230.8 321.8,232.7" stroke="#a8a8a8" stroke-width="0.45"/><path d="M345,196 344,198.8 342.9,201.6 342,204.5 341.3,207.4 340.5,210.3 339.7,213.2" stroke="#a8a8a8" stroke-width="0.45"/><path d="M339.7,213.2 339.1,215.4 338.2,217.5 336.9,219.4 335.6,221.3 334.7,223.3 334.1,225.6 333.6,227.8 332.9,230 331.8,231.9 330.3,233.7" stroke="#a8a8a8" stroke-width="0.45"/><path d="M332.9,230 331.9,230.6 330.7,231.2 329.9,232.1 329.1,233.2 328.3,234.1" stroke="#a8a8a8" stroke-width="0.405"/><path d="M407,192 404.2,191.8 401.3,191.9 398.4,192.2 395.6,192.3 392.7,191.9 389.9,191.4" stroke="#a8a8a8" stroke-width="0.45"/><path d="M389.9,191.4 387.7,191.5 385.5,191.5 383.3,191.3 381.2,191.1 379,191.1 376.8,191.3 374.6,191.8 372.4,192.3 370.3,193 368.1,193.6" stroke="#a8a8a8" stroke-width="0.45"/><path d="M407,192 405.7,191.3 404.3,190.6 403.1,189.8 401.9,188.9 400.6,188.1 399.2,187.4" stroke="#a8a8a8" stroke-width="0.45"/><path d="M399.2,187.4 398.1,187 397.1,186.5 396.3,185.7 395.6,184.5 395,183.5 394.1,182.7 393.1,182.1 392,181.7 390.9,181.2 390,180.4" stroke="#a8a8a8" stroke-width="0.45"/><path d="M392,181.7 391.8,181.1 391.7,180.4 391.3,179.9 390.8,179.4 390.3,179" stroke="#a8a8a8" stroke-width="0.405"/><path d="M407,192 407.9,190.6 408.8,189.2 409.5,187.7 410.2,186.2 411,184.8 412,183.5" stroke="#a8a8a8" stroke-width="0.45"/><path d="M412,183.5 412.9,182.5 413.8,181.7 414.5,180.6 414.8,179.3 415,178 415.5,176.8 416.4,175.9 417.6,175.2 418.8,174.6 420,173.9" stroke="#a8a8a8" stroke-width="0.45"/><path d="M415.5,176.8 416.3,176.7 417.1,176.7 417.7,176.2 418.3,175.7 419,175.3" stroke="#a8a8a8" stroke-width="0.405"/><path d="M407,192 409,191 411.1,190 413.2,189.4 415.4,188.7 417.5,188 419.6,187.2" stroke="#a8a8a8" stroke-width="0.45"/><path d="M419.6,187.2 420.9,186.2 422.1,185.2 423.3,184.1 424.6,183.1 426.1,182.4 427.6,181.8 429.2,181.3 430.8,180.8 432.3,180.3 433.9,179.8" stroke="#a8a8a8" stroke-width="0.45"/><path d="M426.1,182.4 427,182.1 427.9,181.7 428.9,181.7 429.9,181.9 430.9,181.9" stroke="#a8a8a8" stroke-width="0.405"/><path d="M419.6,187.2 420.9,186.8 422.2,186.5 423.6,186.3 424.9,186.2 426.3,186.2 427.7,186.2 429,186 430.3,185.8 431.7,185.5 433,185.1" stroke="#a8a8a8" stroke-width="0.45"/><path d="M423.6,186.3 424.5,186.7 425.5,186.8 426.5,187 427.4,187.6 428.2,188.3" stroke="#a8a8a8" stroke-width="0.405"/><path d="M407,192 409.9,192.8 412.8,193.4 415.7,194.2 418.6,195 421.5,196 424.3,197.1" stroke="#a8a8a8" stroke-width="0.45"/><path d="M424.3,197.1 426,197.7 427.7,198.4 429.4,199.2 431.1,199.9 432.8,200.6 434.5,201.2 436.3,201.7 438.1,202.1 439.9,202.6 441.7,203" stroke="#a8a8a8" stroke-width="0.45"/><path d="M438.1,202.1 439,203.1 440.2,203.8 441.1,204.8 441.9,206 442.6,207.2" stroke="#a8a8a8" stroke-width="0.405"/><path d="M407,192 408.5,193.7 409.9,195.4 411.8,196.8 413.7,198 415.5,199.3 417.2,200.8" stroke="#a8a8a8" stroke-width="0.45"/><path d="M417.2,200.8 418.5,201.9 419.7,203.1 420.8,204.4 422.1,205.6 423.4,206.6 424.9,207.5 426.4,208.3 428,209 429.6,209.6 431.2,210.4" stroke="#a8a8a8" stroke-width="0.45"/><path d="M422.1,205.6 422.5,206.5 422.6,207.5 422.8,208.4 423.4,209.3 424.1,210" stroke="#a8a8a8" stroke-width="0.405"/><path d="M407,192 406.6,194.1 406.5,196.2 406.3,198.3 405.9,200.3 405.3,202.4 404.9,204.4" stroke="#a8a8a8" stroke-width="0.45"/><path d="M404.9,204.4 404.5,205.7 404.1,207 403.9,208.3 404,209.6 404.3,211 404.5,212.3 404.6,213.7 404.5,215 404.2,216.3 403.8,217.5" stroke="#a8a8a8" stroke-width="0.45"/><path d="M407,192 405.5,194.4 403.9,196.8 402.8,199.5 401.9,202.2 400.8,204.9 399.6,207.4" stroke="#d8b036" stroke-width="0.45"/><path d="M399.6,207.4 398.9,209.2 398.5,211 398,212.8 397.3,214.5 396.3,216.1 395.3,217.8 394.6,219.5 394.2,221.4 394,223.3 394,225.2" stroke="#d8b036" stroke-width="0.45"/><path d="M397.3,214.5 396.3,215.3 395.3,215.9 394.1,216.1 392.9,216.4 391.9,217" stroke="#d8b036" stroke-width="0.405"/><path d="M407,192 404.7,194 402.7,196.2 400.8,198.5 398.7,200.7" stroke="#a8a8a8" stroke-width="0.45"/><path d="M398.8,200.8 397.5,202.2 396.2,203.7 395.1,205.3 394,207 393,208.7 391.8,210.3 390.5,211.8 389.3,213.3 388.1,214.9 387.1,216.6 386.3,218.4 385.7,220.4 383.3,220.3 384.1,218.3 385.1,216.4 386.2,214.7 387.6,213 389,211.5 390.4,210 391.8,208.4 393,206.8 394.3,205.1 395.6,203.4 397,202 398.6,200.6Z" fill="#d6d6d6" stroke="none"/><path d="M398.8,200.8 397.5,202.2 396.2,203.7 395.1,205.3 394,207 393,208.7 391.8,210.3 390.5,211.8 389.3,213.3 388.1,214.9 387.1,216.6 386.3,218.4 385.7,220.4" stroke="#a8a8a8" stroke-width="0.36000000000000004"/><path d="M398.7,200.7 397.1,202.3 395.5,204 394.1,205.8 392.8,207.7 391.5,209.6 390,211.4 388.5,213.1 387,214.9 385.7,216.7 384.4,218.7 383.4,220.8 382.5,223" stroke="#a8a8a8" stroke-width="0.36000000000000004"/><path d="M398.6,200.6 397,202 395.6,203.4 394.3,205.1 393,206.8 391.8,208.4 390.4,210 389,211.5 387.6,213 386.2,214.7 385.1,216.4 384.1,218.3 383.3,220.3" stroke="#a8a8a8" stroke-width="0.36000000000000004"/><path d="M407,192 405.8,192.6 404.6,193.2 403.3,193.6 401.9,193.8" stroke="#a8a8a8" stroke-width="0.45"/><path d="M402,194 401.2,194.5 400.4,194.7 399.6,195 398.8,195.4 398.2,196.2 397.6,197.1 397,197.8 396.2,198.2 395.3,198.3 394.5,198.5 393.7,198.8 393,199.4 391.5,196.8 392.3,196.3 393.2,196.2 394.2,196.2 395.2,196.2 396.1,196 396.8,195.4 397.5,194.7 398.2,194.2 399.1,193.9 400,193.8 401,193.8 401.8,193.6Z" fill="#d6d6d6" stroke="none"/><path d="M402,194 401.2,194.5 400.4,194.7 399.6,195 398.8,195.4 398.2,196.2 397.6,197.1 397,197.8 396.2,198.2 395.3,198.3 394.5,198.5 393.7,198.8 393,199.4" stroke="#a8a8a8" stroke-width="0.36000000000000004"/><path d="M401.9,193.9 401.2,194.2 400.4,194.4 399.5,194.6 398.8,194.9 398.2,195.6 397.6,196.4 397,197 396.2,197.4 395.3,197.4 394.4,197.5 393.6,197.8 393,198.3" stroke="#a8a8a8" stroke-width="0.36000000000000004"/><path d="M401.9,193.7 401.1,194 400.4,194.1 399.5,194.1 398.8,194.4 398.2,195 397.7,195.7 397.1,196.3 396.3,196.5 395.5,196.5 394.6,196.5 393.8,196.6 393.2,197.1" stroke="#a8a8a8" stroke-width="0.36000000000000004"/><path d="M401.8,193.6 401,193.8 400,193.8 399.1,193.9 398.2,194.2 397.5,194.7 396.8,195.4 396.1,196 395.2,196.2 394.2,196.2 393.2,196.2 392.3,196.3 391.5,196.8" stroke="#a8a8a8" stroke-width="0.36000000000000004"/><path d="M29,108 29.3,106.5 29.4,105 29.5,103.5 29.8,102.1 30.3,100.6 30.8,99.2" stroke="#a8a8a8" stroke-width="0.45"/><path d="M30.8,99.2 31.1,98.2 31.4,97.3 31.4,96.3 31.1,95.2 31.1,94.2 31.4,93.2 32,92.3 32.5,91.4 32.9,90.5 32.8,89.4" stroke="#a8a8a8" stroke-width="0.45"/><path d="M31.1,94.2 31.5,93.6 32.2,93.3 32.5,92.7 32.7,91.9 32.9,91.2" stroke="#a8a8a8" stroke-width="0.405"/><path d="M32.5,91.4 32.4,90.5 32,89.7 31.5,89 31.3,88.1 31.3,87.2" stroke="#a8a8a8" stroke-width="0.405"/><path d="M29,108 28.4,106.8 27.7,105.6 27.4,104.3 27.3,102.9 27.2,101.5 27,100.1" stroke="#a8a8a8" stroke-width="0.45"/><path d="M27,100.1 26.6,99.3 26.6,98.4 26.7,97.4 26.8,96.5 26.6,95.6 26.2,94.7 25.9,93.8 25.6,92.9 25.7,92 25.9,91" stroke="#a8a8a8" stroke-width="0.45"/><path d="M26.8,96.5 26.9,95.7 27.2,95 27.8,94.5 28.3,93.9 28.6,93.2" stroke="#a8a8a8" stroke-width="0.405"/><path d="M26.2,94.7 25.6,94.3 25.1,93.6 24.5,93.2 23.7,93 22.9,92.8" stroke="#a8a8a8" stroke-width="0.405"/><path d="M29,108 29.7,107 30.1,105.9 30.5,104.7 31.1,103.6 32,102.8 33,102" stroke="#a8a8a8" stroke-width="0.45"/><path d="M33,102 33.4,101.2 33.7,100.3 34.1,99.4 34.7,98.7 35.4,98.1 36.1,97.5 36.8,96.8 37.5,96.2 38,95.4 38.4,94.6" stroke="#a8a8a8" stroke-width="0.45"/><path d="M36.8,96.8 37.4,96.7 38,96.8 38.6,96.6 39,96.2 39.5,95.7" stroke="#a8a8a8" stroke-width="0.405"/><path d="M37.5,96.2 37.5,95.3 37.3,94.6 36.9,93.8 36.8,93 37,92.1" stroke="#a8a8a8" stroke-width="0.405"/><path d="M29,108 30.4,107.4 31.8,107 33.2,106.4 34.5,105.6" stroke="#a8a8a8" stroke-width="0.45"/><path d="M34.4,105.4 35.5,104.8 36.5,104.1 37.5,103.4 38.6,102.7 39.7,102.2 40.8,101.7 42,101.3 43,100.7 44,99.9 44.9,99 45.8,98 46.7,97.1 45.7,100 44.9,100.7 44.1,101.4 43.3,102.1 42.4,102.7 41.4,103.1 40.4,103.3 39.3,103.5 38.3,103.9 37.4,104.3 36.5,104.9 35.5,105.3 34.6,105.7Z" fill="#e4e4e4" stroke="none"/><path d="M34.4,105.4 35.5,104.8 36.5,104.1 37.5,103.4 38.6,102.7 39.7,102.2 40.8,101.7 42,101.3 43,100.7 44,99.9 44.9,99 45.8,98 46.7,97.1" stroke="#a8a8a8" stroke-width="0.36000000000000004"/><path d="M34.5,105.6 35.4,105.1 36.3,104.6 37.2,104 38.1,103.4 39.1,103.1 40.1,102.8 41.1,102.5 42.1,102 42.9,101.4 43.7,100.7 44.5,99.9 45.2,99.1" stroke="#a8a8a8" stroke-width="0.36000000000000004"/><path d="M34.6,105.7 35.5,105.3 36.5,104.9 37.4,104.3 38.3,103.9 39.3,103.5 40.4,103.3 41.4,103.1 42.4,102.7 43.3,102.1 44.1,101.4 44.9,100.7 45.7,100" stroke="#a8a8a8" stroke-width="0.36000000000000004"/><path d="M29,108 30.5,108.2 32,108.5 33.5,108.7 35,108.7" stroke="#b8b8b8" stroke-width="0.45"/><path d="M35,108.5 35.9,108.4 36.8,108.3 37.7,108.1 38.6,107.9 39.5,107.9 40.4,108 41.3,108.1 42.2,108.2 43.1,108.1 44,107.8 44.9,107.4 45.8,106.9 45,109.5 44.2,109.8 43.3,110 42.5,110.1 41.6,110 40.8,109.8 39.9,109.5 39.1,109.2 38.3,109.1 37.4,109 36.6,109 35.8,109 34.9,108.9Z" fill="#d6d6d6" stroke="none"/><path d="M35,108.5 35.9,108.4 36.8,108.3 37.7,108.1 38.6,107.9 39.5,107.9 40.4,108 41.3,108.1 42.2,108.2 43.1,108.1 44,107.8 44.9,107.4 45.8,106.9" stroke="#b8b8b8" stroke-width="0.36000000000000004"/><path d="M35,108.7 35.8,108.7 36.7,108.6 37.6,108.5 38.4,108.5 39.3,108.6 40.2,108.8 41,109 41.9,109.1 42.8,109.1 43.7,108.9 44.5,108.6 45.4,108.2" stroke="#b8b8b8" stroke-width="0.36000000000000004"/><path d="M34.9,108.9 35.8,109 36.6,109 37.4,109 38.3,109.1 39.1,109.2 39.9,109.5 40.8,109.8 41.6,110 42.5,110.1 43.3,110 44.2,109.8 45,109.5" stroke="#b8b8b8" stroke-width="0.36000000000000004"/><path d="M29,108 30.4,108.9 31.8,109.8 33.3,110.5 34.8,111.1" stroke="#b8b8b8" stroke-width="0.45"/><path d="M34.9,110.9 36,111.2 37.1,111.6 38.2,112.1 39.1,112.7 40.1,113.3 41.1,113.8 42.3,114 43.5,114.1 44.7,114.1 45.9,114.2 47,114.5 48,115 47.9,117.7 46.8,117 45.7,116.5 44.5,116.2 43.3,116 42.1,115.7 40.9,115.3 39.8,114.7 38.9,113.9 37.9,113.1 36.9,112.4 35.8,111.8 34.8,111.2Z" fill="#e4e4e4" stroke="none"/><path d="M34.9,110.9 36,111.2 37.1,111.6 38.2,112.1 39.1,112.7 40.1,113.3 41.1,113.8 42.3,114 43.5,114.1 44.7,114.1 45.9,114.2 47,114.5 48,115" stroke="#b8b8b8" stroke-width="0.36000000000000004"/><path d="M34.8,111.1 36,111.6 37.2,112.1 38.4,112.7 39.4,113.5 40.5,114.3 41.7,114.9 42.9,115.2 44.3,115.4 45.6,115.6 46.9,115.9 48.1,116.3 49.3,116.9" stroke="#b8b8b8" stroke-width="0.36000000000000004"/><path d="M34.8,111.2 35.8,111.8 36.9,112.4 37.9,113.1 38.9,113.9 39.8,114.7 40.9,115.3 42.1,115.7 43.3,116 44.5,116.2 45.7,116.5 46.8,117 47.9,117.7" stroke="#b8b8b8" stroke-width="0.36000000000000004"/><path d="M29,108 30.2,109.2 31.1,110.6 32,112 33,113.2" stroke="#a8a8a8" stroke-width="0.45"/><path d="M33.1,113.1 33.8,113.8 34.6,114.4 35.5,114.8 36.3,115.4 36.7,116.2 37,117.2 37.5,118 38.3,118.6 39.4,118.8 40.5,119 41.5,119.4 42.1,120 42.2,122.8 41.5,122 40.4,121.4 39.3,121 38.2,120.6 37.3,119.8 36.8,118.7 36.5,117.5 36,116.5 35.2,115.7 34.3,115.1 33.5,114.3 32.9,113.3Z" fill="#e4e4e4" stroke="none"/><path d="M33.1,113.1 33.8,113.8 34.6,114.4 35.5,114.8 36.3,115.4 36.7,116.2 37,117.2 37.5,118 38.3,118.6 39.4,118.8 40.5,119 41.5,119.4 42.1,120" stroke="#a8a8a8" stroke-width="0.36000000000000004"/><path d="M33.1,113.2 33.7,114 34.5,114.6 35.4,115.1 36.2,115.7 36.7,116.6 37,117.7 37.4,118.6 38.2,119.2 39.3,119.6 40.5,119.8 41.4,120.2 42.1,120.9" stroke="#a8a8a8" stroke-width="0.36000000000000004"/><path d="M33,113.3 33.5,114.1 34.3,114.7 35.2,115.3 35.9,115.9 36.4,116.8 36.7,117.9 37.1,118.9 37.8,119.5 38.9,119.9 40,120.2 41,120.6 41.6,121.3" stroke="#a8a8a8" stroke-width="0.36000000000000004"/><path d="M32.9,113.3 33.5,114.3 34.3,115.1 35.2,115.7 36,116.5 36.5,117.5 36.8,118.7 37.3,119.8 38.2,120.6 39.3,121 40.4,121.4 41.5,122 42.2,122.8" stroke="#a8a8a8" stroke-width="0.36000000000000004"/><path d="M29,108 29.5,109.4 30.1,110.8 30.7,112.2 31.3,113.6 31.8,115 32.4,116.4" stroke="#d8b036" stroke-width="0.45"/><path d="M32.4,116.4 32.5,117.2 32.7,118.1 33,119 33.4,119.8 33.9,120.5 34.4,121.3 34.9,122.1 35.2,122.9 35.5,123.7 35.6,124.6" stroke="#d8b036" stroke-width="0.45"/><path d="M34.9,122.1 34.6,122.5 34.1,122.9 33.9,123.5 34,124.1 34,124.8" stroke="#d8b036" stroke-width="0.405"/><path d="M29,108 28.9,109.2 28.7,110.4 28.5,111.6 28.4,112.8 28.3,114 28.3,115.2" stroke="#d8b036" stroke-width="0.45"/><path d="M28.3,115.2 28.1,116 27.8,116.9 27.4,117.7 27.3,118.6 27.4,119.5 27.6,120.4 27.8,121.3 27.9,122.2 28,123.1 27.9,123.9" stroke="#d8b036" stroke-width="0.45"/><path d="M27.8,121.3 27.4,121.9 26.8,122.2 26,122.5 25.5,122.9 25.1,123.5" stroke="#d8b036" stroke-width="0.405"/><path d="M27.4,119.5 27.5,120 27.8,120.4 28.3,120.8 28.5,121.2 28.5,121.8" stroke="#d8b036" stroke-width="0.405"/><path d="M29,108 28.5,109.1 27.8,110.1 27.1,111.1 26.4,112 25.6,113 24.9,113.9" stroke="#a8a8a8" stroke-width="0.45"/><path d="M24.9,113.9 24.5,114.6 24.1,115.3 23.5,115.9 22.9,116.4 22.3,117 21.8,117.6 21.3,118.3 21,119 20.7,119.7 20.4,120.5" stroke="#a8a8a8" stroke-width="0.45"/><path d="M29,108 27.8,108.6 26.7,109.3 25.5,110.1 24.3,110.7 23.1,111.2 21.8,111.6" stroke="#a8a8a8" stroke-width="0.45"/><path d="M21.8,111.6 21,112 20.3,112.5 19.5,112.9 18.7,113.2 17.9,113.4 17,113.5 16.1,113.7 15.3,113.8 14.4,114 13.6,114.3" stroke="#a8a8a8" stroke-width="0.45"/><path d="M19.5,112.9 18.8,112.8 18.3,112.3 17.7,111.8 17,111.6 16.3,111.6" stroke="#a8a8a8" stroke-width="0.405"/><path d="M18.7,113.2 18.2,113.8 17.5,114.2 16.9,114.6 16.5,115.3 16.2,116.1" stroke="#a8a8a8" stroke-width="0.405"/><path d="M29,108 27.8,107.7 26.7,107.3 25.5,107.2 24.3,107.3 23,107.4 21.8,107.4" stroke="#a8a8a8" stroke-width="0.45"/><path d="M21.8,107.4 20.9,107.5 20,107.5 19.2,107.2 18.4,106.7 17.6,106.2 16.8,105.8 15.9,105.7 15,105.8 14.1,106.1 13.1,106.4" stroke="#a8a8a8" stroke-width="0.45"/><path d="M15,105.8 14.6,105.1 14,104.7 13.2,104.5 12.5,104.1 12.1,103.5" stroke="#a8a8a8" stroke-width="0.405"/><path d="M17.6,106.2 17,106.5 16.4,106.5 15.7,106.4 15.1,106.5 14.6,107" stroke="#a8a8a8" stroke-width="0.405"/><path d="M28,168 28.5,165.5 28.8,163 28.8,160.4 28.9,157.8" stroke="#a8a8a8" stroke-width="0.45"/><path d="M28.7,157.8 28.8,156.1 29,154.4 29.1,152.7 29,151 28.5,149.3 27.8,147.5 27.4,145.9 27.3,144.2 27.4,142.5 27.5,140.8 27.3,139.1 26.8,137.4 29.3,137.7 29.7,139.4 29.7,141.1 29.4,142.8 29.1,144.5 29.1,146.1 29.3,147.8 29.8,149.5 30.1,151.2 30.1,152.9 29.8,154.5 29.4,156.2 29.1,157.9Z" fill="#dedede" stroke="none"/><path d="M28.7,157.8 28.8,156.1 29,154.4 29.1,152.7 29,151 28.5,149.3 27.8,147.5 27.4,145.9 27.3,144.2 27.4,142.5 27.5,140.8 27.3,139.1 26.8,137.4" stroke="#a8a8a8" stroke-width="0.36000000000000004"/><path d="M28.9,157.8 29.1,155.8 29.4,153.8 29.7,151.8 29.6,149.8 29.2,147.7 28.6,145.7 28.2,143.7 28.2,141.7 28.3,139.7 28.4,137.7 28.3,135.6 27.7,133.6" stroke="#a8a8a8" stroke-width="0.36000000000000004"/><path d="M29.1,157.9 29.4,156.2 29.8,154.5 30.1,152.9 30.1,151.2 29.8,149.5 29.3,147.8 29.1,146.1 29.1,144.5 29.4,142.8 29.7,141.1 29.7,139.4 29.3,137.7" stroke="#a8a8a8" stroke-width="0.36000000000000004"/><path d="M28,168 26.7,168.4 25.4,168.8 24,168.9 22.7,168.9" stroke="#a8a8a8" stroke-width="0.45"/><path d="M22.7,169.1 21.8,169.3 21,169.5 20.2,170.1 19.5,170.9 18.7,171.4 17.8,171.4 16.9,171.2 16,171.2 15.2,171.6 14.5,172.5 13.9,173.5 13.3,174.2 12.2,171.4 13,170.8 13.7,170 14.5,169.3 15.3,169 16.3,169.2 17.4,169.6 18.3,169.8 19.2,169.5 20,168.9 20.8,168.6 21.7,168.6 22.6,168.7Z" fill="#d6d6d6" stroke="none"/><path d="M22.7,169.1 21.8,169.3 21,169.5 20.2,170.1 19.5,170.9 18.7,171.4 17.8,171.4 16.9,171.2 16,171.2 15.2,171.6 14.5,172.5 13.9,173.5 13.3,174.2" stroke="#a8a8a8" stroke-width="0.36000000000000004"/><path d="M22.7,168.9 21.8,168.9 21,169 20.2,169.5 19.4,170.1 18.7,170.6 17.8,170.5 16.8,170.2 15.9,170 15.1,170.4 14.4,171.1 13.8,172.1 13.1,172.7" stroke="#a8a8a8" stroke-width="0.36000000000000004"/><path d="M22.6,168.7 21.7,168.6 20.8,168.6 20,168.9 19.2,169.5 18.3,169.8 17.4,169.6 16.3,169.2 15.3,169 14.5,169.3 13.7,170 13,170.8 12.2,171.4" stroke="#a8a8a8" stroke-width="0.36000000000000004"/><path d="M28,168 26.9,167.6 25.7,167.4 24.4,167.4 23.2,167.3" stroke="#a8a8a8" stroke-width="0.45"/><path d="M23.2,167.5 22.3,167.5 21.4,167.3 20.6,167.1 19.7,166.8 18.8,166.8 17.9,167 16.9,167.3 16,167.6 15.1,167.7 14.2,167.6 13.3,167.4 12.5,167.2 14.3,164.8 15.1,165.2 15.8,165.6 16.5,165.9 17.3,165.9 18.1,165.8 18.9,165.7 19.7,165.6 20.4,165.8 21.1,166.2 21.8,166.6 22.5,166.9 23.3,167.1Z" fill="#d0d0d0" stroke="none"/><path d="M23.2,167.5 22.3,167.5 21.4,167.3 20.6,167.1 19.7,166.8 18.8,166.8 17.9,167 16.9,167.3 16,167.6 15.1,167.7 14.2,167.6 13.3,167.4 12.5,167.2" stroke="#a8a8a8" stroke-width="0.36000000000000004"/><path d="M23.2,167.3 22.3,167.2 21.4,166.9 20.6,166.6 19.7,166.2 18.8,166.1 17.8,166.3 16.9,166.5 15.9,166.7 15,166.7 14.1,166.5 13.2,166.2 12.3,165.9" stroke="#a8a8a8" stroke-width="0.36000000000000004"/><path d="M23.3,167.1 22.5,166.9 21.8,166.6 21.1,166.2 20.4,165.8 19.7,165.6 18.9,165.7 18.1,165.8 17.3,165.9 16.5,165.9 15.8,165.6 15.1,165.2 14.3,164.8" stroke="#a8a8a8" stroke-width="0.36000000000000004"/><path d="M28,168 27,168.7 25.9,169.2 24.8,169.6 23.7,170.1 22.7,170.7 21.7,171.5" stroke="#a8a8a8" stroke-width="0.45"/><path d="M21.7,171.5 20.9,171.8 20.1,172.2 19.4,172.7 18.7,173.3 18,173.9 17.4,174.4 16.6,174.9 15.9,175.4 15.1,175.7 14.3,176.1" stroke="#a8a8a8" stroke-width="0.45"/><path d="M15.9,175.4 15.4,175.1 14.8,175.2 14.2,175.4 13.7,175.2 13.2,174.9" stroke="#a8a8a8" stroke-width="0.405"/><path d="M28,168 27.4,168.9 26.8,169.7 26.1,170.5 25.6,171.4 25.1,172.4 24.6,173.3" stroke="#a8a8a8" stroke-width="0.45"/><path d="M24.6,173.3 23.9,173.8 23.3,174.4 22.9,175.2 22.8,176.1 22.7,177 22.7,178 22.5,178.8 22.2,179.5 21.7,180.2 21.1,180.9" stroke="#a8a8a8" stroke-width="0.45"/><path d="M28,168 27.7,169 27.9,170.1 28.2,171.2 28.2,172.2 28,173.3 27.5,174.3" stroke="#d8b036" stroke-width="0.45"/><path d="M27.5,174.3 27.3,175.1 27,175.9 27,176.7 27.3,177.5 27.7,178.3 28,179.1 28.3,180 28.4,180.8 28.4,181.6 28.3,182.4" stroke="#d8b036" stroke-width="0.45"/><path d="M27,176.7 26.6,176.9 26.3,177.3 26.3,177.8 26.2,178.3 25.8,178.6" stroke="#d8b036" stroke-width="0.405"/><path d="M28,168 28.5,169.1 29.1,170.2 29.6,171.2 30.2,172.3 30.7,173.4 31.1,174.5" stroke="#a8a8a8" stroke-width="0.45"/><path d="M31.1,174.5 31.5,175.3 31.8,176.2 32,177.2 32,178.1 32.3,179 32.7,179.9 33.4,180.6 34.1,181.3 34.9,182 35.5,182.7" stroke="#a8a8a8" stroke-width="0.45"/><path d="M33.4,180.6 33.2,181.3 32.8,181.9 32.5,182.5 32.6,183.2 32.7,184" stroke="#a8a8a8" stroke-width="0.405"/><path d="M28,168 29.8,167.4 31.8,167 33.7,166.7 35.6,166.3" stroke="#a8a8a8" stroke-width="0.45"/><path d="M35.6,166.1 36.8,165.7 38,165.1 39.1,164.3 40.3,163.6 41.6,163.4 43,163.6 44.3,163.6 45.6,163.1 46.7,162.2 47.7,161.2 48.9,160.4 50.2,160.1 51,163 49.7,163.1 48.5,163.7 47.4,164.6 46.2,165.3 44.9,165.5 43.5,165.3 42,165 40.7,165 39.5,165.4 38.3,166 37,166.4 35.7,166.5Z" fill="#e4e4e4" stroke="none"/><path d="M35.6,166.1 36.8,165.7 38,165.1 39.1,164.3 40.3,163.6 41.6,163.4 43,163.6 44.3,163.6 45.6,163.1 46.7,162.2 47.7,161.2 48.9,160.4 50.2,160.1" stroke="#a8a8a8" stroke-width="0.36000000000000004"/><path d="M35.6,166.3 36.8,166.1 38,165.6 39,165 40.1,164.4 41.4,164.3 42.7,164.6 44,164.7 45.2,164.4 46.2,163.6 47.2,162.7 48.3,162 49.5,161.8" stroke="#a8a8a8" stroke-width="0.36000000000000004"/><path d="M35.7,166.5 37,166.4 38.3,166 39.5,165.4 40.7,165 42,165 43.5,165.3 44.9,165.5 46.2,165.3 47.4,164.6 48.5,163.7 49.7,163.1 51,163" stroke="#a8a8a8" stroke-width="0.36000000000000004"/><path d="M28,168 29.3,168.3 30.7,168.4 32,168.9 33.2,169.4 34.4,170 35.6,170.7" stroke="#a8a8a8" stroke-width="0.45"/><path d="M35.6,170.7 36.6,171.1 37.5,171.8 38.3,172.6 39.3,172.9 40.5,172.9 41.7,172.9 42.7,173.1 43.6,173.8 44.3,174.8 44.9,175.9" stroke="#a8a8a8" stroke-width="0.45"/><path d="M42.7,173.1 43.4,173.7 44,174.3 44.3,175.1 44.5,175.9 45,176.6" stroke="#a8a8a8" stroke-width="0.405"/><path d="M28,168 28.6,167.1 29.2,166.3 30.1,165.7 31,165 31.8,164.3 32.5,163.6" stroke="#d8b036" stroke-width="0.45"/><path d="M32.5,163.6 33.2,163.2 33.9,162.8 34.6,162.4 35.1,161.8 35.5,161.1 36,160.5 36.5,159.8 37,159.2 37.7,158.8 38.4,158.4" stroke="#d8b036" stroke-width="0.45"/><path d="M470,46 472.4,46.8 474.9,47.3 477.5,47.7 479.9,48.3 482.3,49.3 484.7,50.3" stroke="#d8b036" stroke-width="0.5"/><path d="M484.7,50.3 486.7,50.2 488.7,50 490.7,50 492.7,50.4 494.6,51 496.6,51.6 498.6,52.1 500.5,52.5 502.5,52.8 504.5,52.9" stroke="#d8b036" stroke-width="0.5"/><path d="M500.5,52.5 501.5,53.4 502.4,54.5 503.6,55.2 504.8,55.8 506.1,56.4" stroke="#d8b036" stroke-width="0.45"/><path d="M484.7,50.3 486.1,51.2 487.4,52.2 488.8,53.1 490.3,53.8 491.9,54.5 493.4,55.1 494.9,55.9 496.3,56.8 497.6,57.9 498.8,59.1" stroke="#d8b036" stroke-width="0.5"/><path d="M493.4,55.1 493.7,56.1 494.3,57 494.8,57.9 494.9,58.9 494.9,60" stroke="#d8b036" stroke-width="0.45"/><path d="M470,46 471.9,47.7 473.9,49.2 475.9,50.9 477.8,52.6 479.5,54.5 481.2,56.4" stroke="#d8b036" stroke-width="0.5"/><path d="M481.2,56.4 482.6,58 484,59.4 485.7,60.7 487.3,61.9 488.9,63.3 490.3,64.8 491.6,66.4 492.8,68.1 493.9,69.9 494.9,71.7" stroke="#d8b036" stroke-width="0.5"/><path d="M470,46 470.8,47.9 471.7,49.9 472.3,51.9 472.8,53.9 473.4,55.9 474,57.9" stroke="#d8b036" stroke-width="0.5"/><path d="M474,57.9 474.5,59.3 475.2,60.5 476,61.7 476.4,63.1 476.4,64.6 476.3,66.1 476.4,67.6 476.8,68.9 477.5,70.2 478.4,71.4" stroke="#d8b036" stroke-width="0.5"/><path d="M476,61.7 476,62.5 475.7,63.2 475.5,64 475.6,64.7 475.9,65.5" stroke="#d8b036" stroke-width="0.45"/><path d="M470,46 471.4,47.8 472.6,49.6 473.9,51.5 475.3,53.3 476.8,55 478.4,56.6" stroke="#d8b036" stroke-width="0.5"/><path d="M478.4,56.6 479.6,57.5 480.8,58.5 481.8,59.6 482.5,61 483.3,62.4 484.2,63.6 485.4,64.5 486.8,65.3 488.2,66 489.5,66.9" stroke="#d8b036" stroke-width="0.5"/><path d="M470,46 468.5,47.3 467,48.5 465.7,50 464.5,51.5" stroke="#a8a8a8" stroke-width="0.5"/><path d="M464.7,51.7 463.7,52.7 462.7,53.8 461.9,55.1 461.1,56.3 460.2,57.5 459.1,58.4 457.9,59.3 456.8,60.2 456,61.4 455.3,62.8 454.6,64.1 453.6,65.2 450.7,63.9 451.8,62.9 452.7,61.6 453.6,60.3 454.7,59.2 456,58.3 457.4,57.5 458.8,56.7 459.9,55.6 460.8,54.4 461.9,53.3 463.1,52.3 464.3,51.4Z" fill="#d6d6d6" stroke="none"/><path d="M464.7,51.7 463.7,52.7 462.7,53.8 461.9,55.1 461.1,56.3 460.2,57.5 459.1,58.4 457.9,59.3 456.8,60.2 456,61.4 455.3,62.8 454.6,64.1 453.6,65.2" stroke="#a8a8a8" stroke-width="0.4"/><path d="M464.5,51.6 463.5,52.6 462.5,53.6 461.7,54.7 460.9,55.9 460,57 458.8,57.9 457.6,58.6 456.5,59.5 455.6,60.7 454.9,61.9 454.1,63.2 453.2,64.3" stroke="#a8a8a8" stroke-width="0.4"/><path d="M464.4,51.5 463.4,52.4 462.4,53.3 461.5,54.4 460.7,55.5 459.7,56.5 458.5,57.3 457.3,58 456.1,58.8 455.2,59.9 454.5,61.1 453.7,62.3 452.8,63.2" stroke="#a8a8a8" stroke-width="0.4"/><path d="M464.3,51.4 463.1,52.3 461.9,53.3 460.8,54.4 459.9,55.6 458.8,56.7 457.4,57.5 456,58.3 454.7,59.2 453.6,60.3 452.7,61.6 451.8,62.9 450.7,63.9" stroke="#a8a8a8" stroke-width="0.4"/><path d="M470,46 468.3,47.2 466.4,48.2 464.5,49 462.6,50" stroke="#a8a8a8" stroke-width="0.5"/><path d="M462.7,50.1 461.5,51 460.4,52 459.2,52.8 457.9,53.5 456.5,53.9 455,54.2 453.6,54.6 452.3,55.3 451,56.1 449.8,57 448.6,57.8 447.2,58.3 445.3,55.8 446.8,55.4 448.2,54.9 449.5,54.1 450.9,53.5 452.3,53 453.8,52.7 455.4,52.6 457,52.4 458.5,51.9 459.8,51.2 461.1,50.4 462.5,49.8Z" fill="#dedede" stroke="none"/><path d="M462.7,50.1 461.5,51 460.4,52 459.2,52.8 457.9,53.5 456.5,53.9 455,54.2 453.6,54.6 452.3,55.3 451,56.1 449.8,57 448.6,57.8 447.2,58.3" stroke="#a8a8a8" stroke-width="0.4"/><path d="M462.6,50 461.2,50.9 459.9,51.8 458.5,52.7 457,53.4 455.4,53.8 453.7,54.1 452.1,54.6 450.6,55.2 449.2,56 447.8,56.9 446.3,57.7 444.8,58.2" stroke="#a8a8a8" stroke-width="0.4"/><path d="M462.5,49.9 461.1,50.7 459.7,51.6 458.3,52.4 456.7,53.1 455,53.4 453.3,53.7 451.7,54 450.1,54.6 448.7,55.4 447.2,56.2 445.7,56.9 444.1,57.4" stroke="#a8a8a8" stroke-width="0.4"/><path d="M462.5,49.8 461.1,50.4 459.8,51.2 458.5,51.9 457,52.4 455.4,52.6 453.8,52.7 452.3,53 450.9,53.5 449.5,54.1 448.2,54.9 446.8,55.4 445.3,55.8" stroke="#a8a8a8" stroke-width="0.4"/><path d="M470,46 468.2,46.4 466.5,47 464.9,47.7 463.1,48.1" stroke="#a8a8a8" stroke-width="0.5"/><path d="M463.2,48.3 462,48.8 460.8,49 459.6,49.1 458.3,49.2 457.2,49.7 456.1,50.5 455,51.2 453.8,51.7 452.6,51.9 451.3,51.8 450,51.5 448.7,51.3 448.8,48.7 450,49.2 451.3,49.6 452.6,49.9 453.8,49.8 454.9,49.5 456,48.9 457.1,48.3 458.2,48.1 459.4,48.1 460.7,48.2 461.9,48.2 463.1,48Z" fill="#e4e4e4" stroke="none"/><path d="M463.2,48.3 462,48.8 460.8,49 459.6,49.1 458.3,49.2 457.2,49.7 456.1,50.5 455,51.2 453.8,51.7 452.6,51.9 451.3,51.8 450,51.5 448.7,51.3" stroke="#a8a8a8" stroke-width="0.4"/><path d="M463.1,48.1 462.1,48.4 461,48.5 459.9,48.5 458.8,48.5 457.8,48.9 456.9,49.5 455.9,50.1 454.9,50.5 453.9,50.6 452.7,50.4 451.6,50.1 450.5,49.7" stroke="#a8a8a8" stroke-width="0.4"/><path d="M463.1,48 461.9,48.2 460.7,48.2 459.4,48.1 458.2,48.1 457.1,48.3 456,48.9 454.9,49.5 453.8,49.8 452.6,49.9 451.3,49.6 450,49.2 448.8,48.7" stroke="#a8a8a8" stroke-width="0.4"/><path d="M470,46 469.6,45.2 469.4,44.3 469,43.5 468.4,42.8 467.8,42.1 467.3,41.3" stroke="#a8a8a8" stroke-width="0.5"/><path d="M467.3,41.3 466.9,40.8 466.7,40.1 466.8,39.3 466.8,38.6 466.6,38 466.1,37.4 465.5,36.9 464.9,36.4 464.5,35.9 464.2,35.3" stroke="#a8a8a8" stroke-width="0.5"/><path d="M470,46 471.1,45.5 472.2,44.9 473.2,44.3 474.2,43.6 475.2,43 476.2,42.4" stroke="#a8a8a8" stroke-width="0.5"/><path d="M476.2,42.4 477,42 477.8,41.7 478.6,41.4 479.4,41.1 480.1,40.6 480.8,40 481.4,39.3 481.9,38.6 482.4,37.8 483,37.1" stroke="#a8a8a8" stroke-width="0.5"/><path d="M495,30 Q502,24 509,24" stroke="#aaa" stroke-width="0.5"/><path d="M468,108 466.7,108.4 465.3,108.5 464,108.6 462.7,109 461.4,109.6 460.2,110.3" stroke="#d8b036" stroke-width="0.45"/><path d="M460.2,110.3 459.2,110.7 458.1,110.9 457,110.7 455.9,110.5 454.8,110.5 453.8,110.8 452.7,111.3 451.7,111.7 450.6,111.9 449.5,111.7" stroke="#d8b036" stroke-width="0.45"/><path d="M454.8,110.5 454,110 453.3,109.4 452.4,109 451.4,108.9 450.5,108.7" stroke="#d8b036" stroke-width="0.405"/><path d="M468,108 466.8,109.3 465.6,110.7 464.6,112.2 463.6,113.7 462.7,115.2 461.7,116.8" stroke="#a8a8a8" stroke-width="0.45"/><path d="M461.7,116.8 460.8,117.8 459.9,118.8 458.9,119.7 458.2,120.8 457.5,122 456.8,123.2 455.9,124.2 454.9,125.1 453.7,125.9 452.4,126.5" stroke="#a8a8a8" stroke-width="0.45"/><path d="M457.5,122 456.9,122.4 456.1,122.5 455.5,122.8 455,123.4 454.5,124" stroke="#a8a8a8" stroke-width="0.405"/><path d="M468,108 467.9,109.8 467.7,111.6 467.6,113.4 467.5,115.2 467.5,117 467.5,118.8" stroke="#a8a8a8" stroke-width="0.45"/><path d="M467.5,118.8 467.5,120.2 467.9,121.5 468.4,122.9 468.7,124.3 468.7,125.6 468.4,127 468,128.5 467.7,129.9 467.6,131.3 467.9,132.6" stroke="#a8a8a8" stroke-width="0.45"/><path d="M468,128.5 467.6,129.3 467,130.1 466.2,130.7 465.4,131.2 464.8,132" stroke="#a8a8a8" stroke-width="0.405"/><path d="M468,108 468.7,109.5 469.6,110.9 470.7,112.1 471.8,113.4 472.9,114.6 473.9,115.9" stroke="#a8a8a8" stroke-width="0.45"/><path d="M473.9,115.9 474.5,116.8 475.2,117.4 476.1,118 477,118.6 477.8,119.2 478.5,119.8 479.2,120.5 479.8,121.3 480.5,122 481.2,122.7" stroke="#a8a8a8" stroke-width="0.45"/><path d="M468,108 470.1,108.3 472.2,108.6 474.3,108.6 476.4,108.7 478.5,109 480.5,109.3" stroke="#a8a8a8" stroke-width="0.45"/><path d="M480.5,109.3 481.8,109.3 483.1,109.3 484.3,109.3 485.6,109 486.8,108.7 488.1,108.4 489.4,108.4 490.7,108.5 491.9,108.8 493.2,109.1" stroke="#a8a8a8" stroke-width="0.45"/><path d="M489.4,108.4 490.2,108.6 491,109.1 491.8,109.5 492.7,109.5 493.6,109.4" stroke="#a8a8a8" stroke-width="0.405"/><path d="M480.5,109.3 482,109.8 483.6,110.1 485.2,110.2 486.8,110.4 488.3,110.7 489.8,111.1 491.4,111.6 492.9,111.9 494.5,112.1 496.1,112.1" stroke="#a8a8a8" stroke-width="0.45"/><path d="M491.4,111.6 492,112.3 492.7,113 492.9,114 493.2,115 493.6,115.8" stroke="#a8a8a8" stroke-width="0.405"/><path d="M468,108 469.2,107.4 470.4,106.8 471.8,106.5 473.1,106.2 474.4,105.9 475.7,105.4" stroke="#a8a8a8" stroke-width="0.45"/><path d="M475.7,105.4 476.5,104.8 477.4,104.5 478.4,104.6 479.5,104.7 480.4,104.6 481.3,104.1 482.1,103.5 482.9,103 483.9,102.8 484.9,103" stroke="#a8a8a8" stroke-width="0.45"/><path d="M468,108 467.8,107.1 467.4,106.3 467.2,105.4 467.2,104.5 467.2,103.6 467.2,102.6" stroke="#a8a8a8" stroke-width="0.45"/><path d="M467.2,102.6 466.9,102 466.5,101.3 466.3,100.6 466.5,99.9 467,99.1 467.5,98.3 467.6,97.6 467.4,96.9 467,96.2 466.6,95.5" stroke="#a8a8a8" stroke-width="0.45"/><path d="M468,108 467.1,107.4 466.1,107 465,107 463.9,107.1 462.8,106.9 461.9,106.6" stroke="#a8a8a8" stroke-width="0.45"/><path d="M461.9,106.6 461.3,106.3 460.7,105.9 460.1,105.7 459.5,105.7 458.8,105.8 458.1,106 457.5,105.9 456.9,105.7 456.3,105.3 455.8,104.8" stroke="#a8a8a8" stroke-width="0.45"/><path d="M468,160 467.2,160.5 466.4,160.8 465.6,161.2 464.8,161.6 464,162.1 463.3,162.6" stroke="#d8b036" stroke-width="0.5"/><path d="M463.3,162.6 462.8,163 462.3,163.5 461.9,164.1 461.4,164.4 460.7,164.5 460,164.5 459.3,164.6 458.7,164.9 458.2,165.3 457.8,165.8" stroke="#d8b036" stroke-width="0.5"/><path d="M468,160 467.6,160.6 467.3,161.3 467.1,162.1 466.8,162.8 466.4,163.4 465.8,164" stroke="#d8b036" stroke-width="0.5"/><path d="M465.8,164 465.7,164.4 465.1,164.7 464.4,164.9 464.1,165.3 464.3,166.1 464.7,166.9 465,167.5 464.8,168 464.1,168.3 463.4,168.5" stroke="#d8b036" stroke-width="0.5"/><path d="M468,160 468.6,160.7 469.1,161.4 469.5,162.3 469.8,163.1 470.3,163.9 470.8,164.6" stroke="#d8b036" stroke-width="0.5"/><path d="M470.8,164.6 471,165.2 471.2,165.9 471.5,166.5 472.1,166.9 472.8,167.1 473.5,167.4 474,167.8 474.3,168.4 474.4,169.1 474.5,169.9" stroke="#d8b036" stroke-width="0.5"/><path d="M468,160 468.9,160.2 469.8,160.3 470.6,160.6 471.5,161 472.3,161.3 473.1,161.7" stroke="#d8b036" stroke-width="0.5"/><path d="M473.1,161.7 473.6,161.9 474.2,162 474.7,162 475.3,161.8 475.9,161.7 476.4,161.6 477,161.7 477.5,161.8 478,161.9 478.5,162.2" stroke="#d8b036" stroke-width="0.5"/><path d="M468,160 468.7,159.8 469.3,159.3 469.8,158.6 470.4,158.2 471.2,158.1 472.1,158.1" stroke="#a8a8a8" stroke-width="0.5"/><path d="M472.1,158.1 472.5,157.7 473,157.3 473.5,157.3 474.2,157.5 474.8,157.4 475.3,157.1 475.6,156.4 475.9,155.7 476.2,155.2 476.7,155" stroke="#a8a8a8" stroke-width="0.5"/><path d="M468,160 467.2,159.9 466.5,159.8 465.8,159.5 465.1,159.1 464.5,158.6 463.9,158.1" stroke="#d8b036" stroke-width="0.5"/><path d="M463.9,158.1 463.4,158.1 462.8,158.1 462.3,158.1 461.8,157.9 461.4,157.6 460.9,157.3 460.5,156.9 460.1,156.6 459.6,156.4 459.1,156.2" stroke="#d8b036" stroke-width="0.5"/><path d="M477,210 476.1,210.3 475.3,210.7 474.6,211.2 473.8,211.6 472.9,212 472.1,212.3" stroke="#d8b036" stroke-width="0.5"/><path d="M472.1,212.3 471.4,212.4 470.8,212.6 470.2,212.8 469.7,213.3 469.1,213.7 468.6,214.1 467.9,214.3 467.3,214.4 466.6,214.3 465.8,214.2" stroke="#d8b036" stroke-width="0.5"/><path d="M477,210 476.7,211 476.2,212 476,213 475.9,214.1 475.9,215.1 475.9,216.2" stroke="#d8b036" stroke-width="0.5"/><path d="M475.9,216.2 476,216.9 476.2,217.7 476.3,218.4 475.8,219.1 475.2,219.7 474.9,220.4 475,221.2 475.4,221.9 476,222.6 476.4,223.4" stroke="#d8b036" stroke-width="0.5"/><path d="M477,210 477.5,210.6 478.1,211 478.8,211.4 479.4,211.8 480,212.2 480.5,212.8" stroke="#a8a8a8" stroke-width="0.5"/><path d="M480.5,212.8 481,213.1 481.5,213.4 482,213.7 482.3,214.2 482.6,214.7 482.8,215.2 483.1,215.7 483.4,216.2 483.7,216.7 484.1,217.1" stroke="#a8a8a8" stroke-width="0.5"/><path d="M477,210 477.4,209.4 478.1,208.9 478.5,208.3 478.7,207.5 478.8,206.7 479,205.9" stroke="#a8a8a8" stroke-width="0.5"/><path d="M479,205.9 479.3,205.5 479.4,205 479.4,204.5 479.5,203.9 479.7,203.5 480,203 480.3,202.6 480.7,202.3 481,201.9 481.4,201.5" stroke="#a8a8a8" stroke-width="0.5"/><path d="M477,210 476.4,209.5 475.9,208.9 475.7,208.1 475.6,207.3 475.5,206.5 475.4,205.8" stroke="#d8b036" stroke-width="0.5"/><path d="M475.4,205.8 475.1,205.4 474.7,205.1 474.3,204.7 474.3,204.2 474.7,203.6 475.1,203 475.3,202.5 475.1,202.1 474.7,201.7 474.1,201.4" stroke="#d8b036" stroke-width="0.5"/><path d="M55,30 54.4,29.9 53.8,29.7 53.3,29.5 52.7,29.4 52.1,29.3 51.5,29.3" stroke="#a8a8a8" stroke-width="0.45"/><path d="M51.5,29.3 51,29.4 50.6,29.4 50.1,29.2 49.7,28.8 49.4,28.4 48.9,28.2 48.5,28.1 48,28.3 47.6,28.5 47.1,28.8" stroke="#a8a8a8" stroke-width="0.45"/><path d="M55,30 55,29.5 54.8,29 54.9,28.6 55.3,28.2 55.7,27.9 56,27.5" stroke="#a8a8a8" stroke-width="0.45"/><path d="M56,27.5 55.9,27.1 55.7,26.8 55.7,26.5 55.9,26.3 56.3,26.1 56.7,25.9 57.1,25.7 57.3,25.5 57.4,25.3 57.4,25" stroke="#a8a8a8" stroke-width="0.45"/><path d="M55,30 55.2,30.6 55.3,31.2 55.3,31.8 55.2,32.4 55.3,33 55.4,33.6" stroke="#d8b036" stroke-width="0.45"/><path d="M55.4,33.6 55.3,34 55.3,34.4 55.5,34.8 56.1,35 56.6,35.3 56.7,35.6 56.5,36.1 56.1,36.6 55.7,37.1 55.6,37.5" stroke="#d8b036" stroke-width="0.45"/><path d="M55,30 55.4,30.2 55.8,30.6 56.3,30.7 56.8,30.5 57.3,30.1 57.7,29.8" stroke="#a8a8a8" stroke-width="0.45"/><path d="M57.7,29.8 58,30.1 58.3,30.2 58.6,30 59,29.6 59.3,29.4 59.6,29.5 59.8,29.8 60.1,30.3 60.3,30.8 60.5,31.1" stroke="#a8a8a8" stroke-width="0.45"/><path d="M16,59 Q30,70 48,58" stroke="#bbb" stroke-width="0.45"/><path d="M22,62 Q28,64 40,60" stroke="#c4c4c4" stroke-width="0.4"/><path d="M31,63 31,61.8 30.7,60.6 30.5,59.4 30.3,58.2 30.3,57 30.3,55.8" stroke="#a8a8a8" stroke-width="0.4"/><path d="M30.3,55.8 30.3,54.9 30.4,54 30.4,53 30.1,52.2 29.6,51.3 29.1,50.5 28.7,49.6 28.5,48.7 28.5,47.8 28.7,46.8" stroke="#a8a8a8" stroke-width="0.4"/><path d="M28.7,49.6 29.2,48.9 29.4,48.1 29.9,47.5 30.6,47 31.3,46.5" stroke="#a8a8a8" stroke-width="0.36000000000000004"/><path d="M31,63 30.6,62.2 30.2,61.4 29.7,60.6 29.1,59.9 28.5,59.3 27.9,58.6" stroke="#a8a8a8" stroke-width="0.4"/><path d="M27.9,58.6 27.5,58 27.2,57.4 26.9,56.7 26.4,56.2 25.9,55.7 25.3,55.4 24.6,55 24,54.6 23.4,54.2 22.9,53.8" stroke="#a8a8a8" stroke-width="0.4"/><path d="M31,63 31.6,62.1 32.1,61.2 32.5,60.2 32.9,59.2 33.3,58.3 33.8,57.3" stroke="#a8a8a8" stroke-width="0.4"/><path d="M33.8,57.3 33.9,56.7 34.1,56 34.3,55.4 34.7,54.9 35.2,54.4 35.8,54 36.4,53.6 36.9,53.2 37.5,52.8 38,52.3" stroke="#a8a8a8" stroke-width="0.4"/><path d="M348,94 Q356,104 345,115 M352,104 Q360,101 366,103" stroke="#aaa" stroke-width="0.5"/><path d="M337,133 Q344,135 350,136 Q358,137 365,141 M350,136 L349,141" stroke="#aaa" stroke-width="0.5"/><path d="M400,122 399.7,121 399.4,120 399.3,118.9 399.1,117.9 399,116.8 398.8,115.8" stroke="#a8a8a8" stroke-width="0.45"/><path d="M398.8,115.8 398.7,115.2 398.6,114.6 398.3,114 397.9,113.4 397.6,112.9 397.5,112.2 397.6,111.6 397.7,110.9 397.8,110.2 397.8,109.6" stroke="#a8a8a8" stroke-width="0.45"/><path d="M400,122 400.2,121 400.5,119.9 401.1,119 401.7,118.2 402.2,117.2 402.5,116.2" stroke="#a8a8a8" stroke-width="0.45"/><path d="M402.5,116.2 402.7,115.5 402.9,114.8 403,114.1 403.1,113.4 403.3,112.7 403.5,112.1 403.9,111.4 404.3,110.8 404.7,110.2 405.1,109.6" stroke="#a8a8a8" stroke-width="0.45"/><path d="M400,122 401.2,122 402.4,122.2 403.6,122.3 404.8,122.4 406,122.3 407.2,122.3" stroke="#a8a8a8" stroke-width="0.45"/><path d="M407.2,122.3 408.1,122.6 408.9,122.6 409.8,122.3 410.8,122 411.6,122.2 412.4,122.8 413.2,123.5 414,124.1 414.9,124.4 415.8,124.2" stroke="#a8a8a8" stroke-width="0.45"/><path d="M411.6,122.2 412,122.8 412.5,123.1 413.2,123.3 413.8,123.6 414.1,124.1" stroke="#a8a8a8" stroke-width="0.405"/><path d="M400,122 399.1,122.5 398.1,122.8 397.1,123.2 396.2,123.8 395.3,124.4 394.4,124.9" stroke="#a8a8a8" stroke-width="0.45"/><path d="M394.4,124.9 393.7,125.3 392.9,125.4 392.1,125.4 391.3,125.4 390.5,125.6 389.8,125.9 389.2,126.4 388.6,127 387.9,127.6 387.2,128" stroke="#a8a8a8" stroke-width="0.45"/><path d="M400,122 399.9,122.9 399.7,123.8 399.4,124.6 399.1,125.5 399,126.4 398.9,127.3" stroke="#a8a8a8" stroke-width="0.45"/><path d="M398.9,127.3 399.1,128 399.2,128.8 399.2,129.5 399,130.2 398.7,130.9 398.4,131.6 398.2,132.3 397.9,133 397.8,133.7 397.7,134.4" stroke="#a8a8a8" stroke-width="0.45"/><path d="M400,149 Q398,155 401,162" stroke="#aaa" stroke-width="0.5"/><path d="M232,18 Q252,24 272,14" stroke="#b0b0b0" stroke-width="0.5"/><path d="M238,20 Q256,22 268,18" stroke="#b0b0b0" stroke-width="0.4"/></g></g>
<g id="labels"><text x="16.5" y="25.6" class="sf" textLength="55.5" lengthAdjust="spacingAndGlyphs">Circadian Clock</text><text x="93.75" y="24.35" class="sf" textLength="55.5" lengthAdjust="spacingAndGlyphs">Immune System</text><text x="176.25" y="20.9" class="sf" textLength="41.2" lengthAdjust="spacingAndGlyphs">Metabolism</text><text x="184.6" y="29.0" class="sf" textLength="27.0" lengthAdjust="spacingAndGlyphs">of RNA</text><text x="14" y="102.6" class="sf" textLength="39.0" lengthAdjust="spacingAndGlyphs">Hemostasis</text><text x="117.5" y="101.6" class="sf" textLength="22.0" lengthAdjust="spacingAndGlyphs">Signal</text><text x="107.5" y="110.1" class="sf" textLength="43.5" lengthAdjust="spacingAndGlyphs">Transduction</text><text x="14" y="156.1" class="sf" textLength="52.0" lengthAdjust="spacingAndGlyphs">Developmental</text><text x="27" y="165.1" class="sf" textLength="27.0" lengthAdjust="spacingAndGlyphs">Biology</text><text x="150.4" y="199.9" class="sf" textLength="27.4" lengthAdjust="spacingAndGlyphs">Disease</text><text x="261.5" y="192.6" class="sf" textLength="18.0" lengthAdjust="spacingAndGlyphs">Gene</text><text x="228" y="201.1" class="sf" textLength="87.5" lengthAdjust="spacingAndGlyphs">expression(Transcription)</text><text x="284" y="101.2" class="sf" textLength="43.0" lengthAdjust="spacingAndGlyphs">Transport of</text><text x="277" y="109.2" class="sf" textLength="55.5" lengthAdjust="spacingAndGlyphs">small molecules</text><text x="322" y="180.1" class="sf" textLength="40.0" lengthAdjust="spacingAndGlyphs">Metabolism</text><text x="324.5" y="187.6" class="sf" textLength="35.5" lengthAdjust="spacingAndGlyphs">of proteins</text><text x="380.5" y="173.1" class="sf" textLength="57.5" lengthAdjust="spacingAndGlyphs">Vesicle-mediated</text><text x="394" y="180.6" class="sf" textLength="30.0" lengthAdjust="spacingAndGlyphs">transport</text><text x="453" y="28.1" class="sf" textLength="44.5" lengthAdjust="spacingAndGlyphs">Programmed</text><text x="457.5" y="36.6" class="sf" textLength="35.0" lengthAdjust="spacingAndGlyphs">Cell Death</text><text x="426" y="90.8" class="sf" textLength="62.0" lengthAdjust="spacingAndGlyphs">Cellular responses</text><text x="426" y="98.4" class="sf" textLength="61.5" lengthAdjust="spacingAndGlyphs">to external stimuli</text><text x="436" y="149.6" class="sf" textLength="43.0" lengthAdjust="spacingAndGlyphs">Extracellular</text><text x="425" y="155.6" class="sf" textLength="65.0" lengthAdjust="spacingAndGlyphs">matrix organization</text><text x="470" y="199.6" class="sf" textLength="31.0" lengthAdjust="spacingAndGlyphs">Cell-Cell</text><text x="459.5" y="206.1" class="sf" textLength="52.5" lengthAdjust="spacingAndGlyphs">communication</text><text x="19.1" y="58.9" class="sm" textLength="26.0" lengthAdjust="spacingAndGlyphs">Reproduction</text><text x="243" y="10.6" class="sm" textLength="20.8" lengthAdjust="spacingAndGlyphs">Chromatin</text><text x="241.3" y="15.4" class="sm" textLength="23.5" lengthAdjust="spacingAndGlyphs">organization</text><text x="235" y="59.1" class="sm" textLength="22.7" lengthAdjust="spacingAndGlyphs">DNA Repair</text><text x="289.1" y="24.9" class="sm" textLength="31.8" lengthAdjust="spacingAndGlyphs">DNA Replication</text><text x="381.5" y="33.5" class="sm" textLength="19.8" lengthAdjust="spacingAndGlyphs">Cell Cycle</text><text x="198.8" y="112.7" class="sm" textLength="22.4" lengthAdjust="spacingAndGlyphs">Metabolism</text><text x="341.3" y="87.8" class="sm" textLength="18.4" lengthAdjust="spacingAndGlyphs">Digestion</text><text x="336" y="93.4" class="sm" textLength="28.3" lengthAdjust="spacingAndGlyphs">and absorption</text><text x="343.4" y="130.6" class="sm" textLength="13.5" lengthAdjust="spacingAndGlyphs">Muscle</text><text x="339.2" y="135.5" class="sm" textLength="21.6" lengthAdjust="spacingAndGlyphs">contraction</text><text x="384.7" y="105.1" class="sm" textLength="41.2" lengthAdjust="spacingAndGlyphs">Organelle biogenesis</text><text x="388.8" y="110.8" class="sm" textLength="32.9" lengthAdjust="spacingAndGlyphs">and maintenance</text><text x="389.8" y="147.9" class="sm" textLength="20.7" lengthAdjust="spacingAndGlyphs">Mitophagy</text><text x="72.2" y="196.1" class="sm" textLength="33.7" lengthAdjust="spacingAndGlyphs">Neuronal System</text></g>
<defs><linearGradient id="pg" x1="0" y1="0" x2="0" y2="1"><stop offset="0" stop-color="#d9a21e"/><stop offset="0.5" stop-color="#9a7c28"/><stop offset="1" stop-color="#4a4220"/></linearGradient></defs><rect x="496.6" y="75.8" width="20" height="89.5" rx="3.5" fill="#d6d6d6" stroke="#7a7a7a" stroke-width="1"/><rect x="499.8" y="84" width="13.2" height="70.5" fill="url(#pg)"/><text x="493.3" y="74.8" class="pv" textLength="24.8" lengthAdjust="spacingAndGlyphs">P value</text><text x="506.3" y="83.6" class="pvb" text-anchor="middle">0</text><text x="499.8" y="165" class="pvb" textLength="19.4" lengthAdjust="spacingAndGlyphs">0.05</text>
<g id="chart"><rect x="34" y="245.5" width="210" height="165.1" fill="none" stroke="#999" stroke-width="0.9"/><line x1="36" y1="396.73" x2="243.5" y2="396.73" stroke="#bdbdbd" stroke-width="0.75" stroke-dasharray="0.8,0.6"/><line x1="32.3" y1="396.73" x2="34" y2="396.73" stroke="#444" stroke-width="0.8"/><text x="23.46" y="399.23" class="yl" textLength="7.34" lengthAdjust="spacingAndGlyphs">20</text><line x1="36" y1="382.85" x2="243.5" y2="382.85" stroke="#bdbdbd" stroke-width="0.75" stroke-dasharray="0.8,0.6"/><line x1="32.3" y1="382.85" x2="34" y2="382.85" stroke="#444" stroke-width="0.8"/><text x="23.46" y="385.35" class="yl" textLength="7.34" lengthAdjust="spacingAndGlyphs">40</text><line x1="36" y1="368.98" x2="243.5" y2="368.98" stroke="#bdbdbd" stroke-width="0.75" stroke-dasharray="0.8,0.6"/><line x1="32.3" y1="368.98" x2="34" y2="368.98" stroke="#444" stroke-width="0.8"/><text x="23.46" y="371.48" class="yl" textLength="7.34" lengthAdjust="spacingAndGlyphs">60</text><line x1="36" y1="355.11" x2="243.5" y2="355.11" stroke="#bdbdbd" stroke-width="0.75" stroke-dasharray="0.8,0.6"/><line x1="32.3" y1="355.11" x2="34" y2="355.11" stroke="#444" stroke-width="0.8"/><text x="23.46" y="357.61" class="yl" textLength="7.34" lengthAdjust="spacingAndGlyphs">80</text><line x1="36" y1="341.24" x2="243.5" y2="341.24" stroke="#bdbdbd" stroke-width="0.75" stroke-dasharray="0.8,0.6"/><line x1="32.3" y1="341.24" x2="34" y2="341.24" stroke="#444" stroke-width="0.8"/><text x="19.79" y="343.74" class="yl" textLength="11.01" lengthAdjust="spacingAndGlyphs">100</text><line x1="36" y1="327.36" x2="243.5" y2="327.36" stroke="#bdbdbd" stroke-width="0.75" stroke-dasharray="0.8,0.6"/><line x1="32.3" y1="327.36" x2="34" y2="327.36" stroke="#444" stroke-width="0.8"/><text x="19.79" y="329.86" class="yl" textLength="11.01" lengthAdjust="spacingAndGlyphs">120</text><line x1="36" y1="313.49" x2="243.5" y2="313.49" stroke="#bdbdbd" stroke-width="0.75" stroke-dasharray="0.8,0.6"/><line x1="32.3" y1="313.49" x2="34" y2="313.49" stroke="#444" stroke-width="0.8"/><text x="19.79" y="315.99" class="yl" textLength="11.01" lengthAdjust="spacingAndGlyphs">140</text><line x1="36" y1="299.62" x2="243.5" y2="299.62" stroke="#bdbdbd" stroke-width="0.75" stroke-dasharray="0.8,0.6"/><line x1="32.3" y1="299.62" x2="34" y2="299.62" stroke="#444" stroke-width="0.8"/><text x="19.79" y="302.12" class="yl" textLength="11.01" lengthAdjust="spacingAndGlyphs">160</text><line x1="36" y1="285.75" x2="243.5" y2="285.75" stroke="#bdbdbd" stroke-width="0.75" stroke-dasharray="0.8,0.6"/><line x1="32.3" y1="285.75" x2="34" y2="285.75" stroke="#444" stroke-width="0.8"/><text x="19.79" y="288.25" class="yl" textLength="11.01" lengthAdjust="spacingAndGlyphs">180</text><line x1="36" y1="271.87" x2="243.5" y2="271.87" stroke="#bdbdbd" stroke-width="0.75" stroke-dasharray="0.8,0.6"/><line x1="32.3" y1="271.87" x2="34" y2="271.87" stroke="#444" stroke-width="0.8"/><text x="19.79" y="274.37" class="yl" textLength="11.01" lengthAdjust="spacingAndGlyphs">200</text><line x1="36" y1="258.00" x2="243.5" y2="258.00" stroke="#bdbdbd" stroke-width="0.75" stroke-dasharray="0.8,0.6"/><line x1="32.3" y1="258.00" x2="34" y2="258.00" stroke="#444" stroke-width="0.8"/><text x="19.79" y="260.50" class="yl" textLength="11.01" lengthAdjust="spacingAndGlyphs">220</text><line x1="32.3" y1="410.6" x2="34" y2="410.6" stroke="#444" stroke-width="0.8"/><text x="27.13" y="413.10" class="yl" textLength="3.67" lengthAdjust="spacingAndGlyphs">0</text><line x1="34.4" y1="245.5" x2="34.4" y2="410.6" stroke="#777" stroke-width="0.8"/><line x1="34" y1="410.6" x2="244" y2="410.6" stroke="#aaa" stroke-width="0.9"/><rect x="44.50" y="395.34" width="6.0" height="15.26" fill="#2a2a58" stroke="#333" stroke-width="0.35"/><rect x="52.14" y="373.84" width="6.0" height="36.76" fill="#c89ac8" stroke="#333" stroke-width="0.35"/><rect x="59.77" y="402.28" width="6.0" height="8.32" fill="#7fcfd8" stroke="#333" stroke-width="0.35"/><rect x="67.41" y="409.21" width="6.0" height="1.39" fill="#3e3e96" stroke="#333" stroke-width="0.35"/><rect x="75.05" y="393.95" width="6.0" height="16.65" fill="#f0a23c" stroke="#333" stroke-width="0.35"/><rect x="82.69" y="347.48" width="6.0" height="63.12" fill="#3a98d6" stroke="#333" stroke-width="0.35"/><rect x="90.33" y="366.21" width="6.0" height="44.39" fill="#4a1010" stroke="#333" stroke-width="0.35"/><rect x="97.96" y="397.42" width="6.0" height="13.18" fill="#a8dce6" stroke="#333" stroke-width="0.35"/><rect x="105.60" y="344.70" width="6.0" height="65.90" fill="#f0a030" stroke="#333" stroke-width="0.35"/><rect x="113.24" y="404.36" width="6.0" height="6.24" fill="#4a1c58" stroke="#333" stroke-width="0.35"/><rect x="120.88" y="403.66" width="6.0" height="6.94" fill="#82d0de" stroke="#333" stroke-width="0.35"/><rect x="128.51" y="404.36" width="6.0" height="6.24" fill="#3e4ea0" stroke="#333" stroke-width="0.35"/><rect x="136.15" y="404.36" width="6.0" height="6.24" fill="#a060b8" stroke="#333" stroke-width="0.35"/><rect x="143.79" y="344.01" width="6.0" height="66.59" fill="#4a2060" stroke="#333" stroke-width="0.35"/><rect x="151.43" y="380.77" width="6.0" height="29.83" fill="#f2efb0" stroke="#333" stroke-width="0.35"/><rect x="159.06" y="321.81" width="6.0" height="88.79" fill="#ee6666" stroke="#333" stroke-width="0.35"/><rect x="166.70" y="267.02" width="6.0" height="143.58" fill="#5a2462" stroke="#333" stroke-width="0.35"/><rect x="174.34" y="408.52" width="6.0" height="2.08" fill="#a6dae6" stroke="#333" stroke-width="0.35"/><rect x="181.97" y="406.44" width="6.0" height="4.16" fill="#70c060" stroke="#333" stroke-width="0.35"/><rect x="189.61" y="408.52" width="6.0" height="2.08" fill="#f2eec0" stroke="#333" stroke-width="0.35"/><rect x="197.25" y="356.50" width="6.0" height="54.10" fill="#2f58a8" stroke="#333" stroke-width="0.35"/><rect x="204.89" y="392.57" width="6.0" height="18.03" fill="#60b848" stroke="#333" stroke-width="0.35"/><rect x="212.53" y="360.66" width="6.0" height="49.94" fill="#f0e050" stroke="#333" stroke-width="0.35"/><rect x="220.16" y="408.52" width="6.0" height="2.08" fill="#921a1a" stroke="#333" stroke-width="0.35"/><rect x="227.80" y="381.47" width="6.0" height="29.13" fill="#283680" stroke="#333" stroke-width="0.35"/><text x="122.2" y="420.6" class="cat" textLength="35" lengthAdjust="spacingAndGlyphs">Category</text><text transform="translate(14.8,337.8) rotate(-90)" class="gn" textLength="19.8" lengthAdjust="spacingAndGlyphs">Genes</text><text x="1.5" y="252" class="pl">B</text><text x="1.8" y="10.2" class="pl">A</text></g>
<g id="legend"><rect x="255.7" y="244.40" width="6.2" height="4.3" fill="#2a2a58" stroke="#555" stroke-width="0.3"/><text x="265.6" y="248.60" class="lg" textLength="131.5" lengthAdjust="spacingAndGlyphs">calcium-binding protein (PC00060)</text><line x1="265.5" y1="249.40" x2="397.0" y2="249.40" stroke="#3a4266" stroke-width="0.5"/><rect x="255.7" y="251.53" width="6.2" height="4.3" fill="#c89ac8" stroke="#555" stroke-width="0.3"/><text x="265.6" y="255.73" class="lg" textLength="128.6" lengthAdjust="spacingAndGlyphs">cell adhesion molecule (PC00069)</text><line x1="265.5" y1="256.53" x2="394.1" y2="256.53" stroke="#3a4266" stroke-width="0.5"/><rect x="255.7" y="258.67" width="6.2" height="4.3" fill="#7fcfd8" stroke="#555" stroke-width="0.3"/><text x="265.6" y="262.87" class="lg" textLength="117.0" lengthAdjust="spacingAndGlyphs">cell junction protein (PC00070)</text><line x1="265.5" y1="263.67" x2="382.5" y2="263.67" stroke="#3a4266" stroke-width="0.5"/><rect x="255.7" y="265.80" width="6.2" height="4.3" fill="#3e3e96" stroke="#555" stroke-width="0.3"/><text x="265.6" y="270.00" class="lg" textLength="82.1" lengthAdjust="spacingAndGlyphs">chaperone (PC00072)</text><line x1="265.5" y1="270.80" x2="347.6" y2="270.80" stroke="#3a4266" stroke-width="0.5"/><rect x="255.7" y="272.94" width="6.2" height="4.3" fill="#f0a23c" stroke="#555" stroke-width="0.3"/><text x="265.6" y="277.14" class="lg" textLength="116.7" lengthAdjust="spacingAndGlyphs">cytoskeletal protein (PC00085)</text><line x1="265.5" y1="277.94" x2="382.2" y2="277.94" stroke="#3a4266" stroke-width="0.5"/><rect x="255.7" y="280.07" width="6.2" height="4.3" fill="#3a98d6" stroke="#555" stroke-width="0.3"/><text x="265.6" y="284.28" class="lg" textLength="139.9" lengthAdjust="spacingAndGlyphs">defense/immunity protein (PC00090)</text><line x1="265.5" y1="285.07" x2="405.4" y2="285.07" stroke="#3a4266" stroke-width="0.5"/><rect x="255.7" y="287.21" width="6.2" height="4.3" fill="#4a1010" stroke="#555" stroke-width="0.3"/><text x="265.6" y="291.41" class="lg" textLength="113.4" lengthAdjust="spacingAndGlyphs">enzyme modulator (PC00095)</text><line x1="265.5" y1="292.21" x2="378.9" y2="292.21" stroke="#3a4266" stroke-width="0.5"/><rect x="255.7" y="294.34" width="6.2" height="4.3" fill="#a8dce6" stroke="#555" stroke-width="0.3"/><text x="265.6" y="298.55" class="lg" textLength="145.7" lengthAdjust="spacingAndGlyphs">extracellular matrix protein (PC00102)</text><line x1="265.5" y1="299.34" x2="411.2" y2="299.34" stroke="#3a4266" stroke-width="0.5"/><rect x="255.7" y="301.48" width="6.2" height="4.3" fill="#f0a030" stroke="#555" stroke-width="0.3"/><text x="265.6" y="305.68" class="lg" textLength="79.0" lengthAdjust="spacingAndGlyphs">hydrolase (PC00121)</text><line x1="265.5" y1="306.48" x2="344.5" y2="306.48" stroke="#3a4266" stroke-width="0.5"/><rect x="255.7" y="308.62" width="6.2" height="4.3" fill="#4a1c58" stroke="#555" stroke-width="0.3"/><text x="265.6" y="312.82" class="lg" textLength="81.1" lengthAdjust="spacingAndGlyphs">isomerase (PC00135)</text><line x1="265.5" y1="313.62" x2="346.6" y2="313.62" stroke="#3a4266" stroke-width="0.5"/><rect x="255.7" y="315.75" width="6.2" height="4.3" fill="#82d0de" stroke="#555" stroke-width="0.3"/><text x="265.6" y="319.95" class="lg" textLength="64.3" lengthAdjust="spacingAndGlyphs">ligase (PC00142)</text><line x1="265.5" y1="320.75" x2="329.8" y2="320.75" stroke="#3a4266" stroke-width="0.5"/><rect x="255.7" y="322.88" width="6.2" height="4.3" fill="#3e4ea0" stroke="#555" stroke-width="0.3"/><text x="265.6" y="327.09" class="lg" textLength="61.9" lengthAdjust="spacingAndGlyphs">lyase (PC00144)</text><line x1="265.5" y1="327.88" x2="327.4" y2="327.88" stroke="#3a4266" stroke-width="0.5"/><rect x="255.7" y="330.02" width="6.2" height="4.3" fill="#a060b8" stroke="#555" stroke-width="0.3"/><text x="265.6" y="334.22" class="lg" textLength="137.2" lengthAdjust="spacingAndGlyphs">membrane traffic protein (PC00150)</text><line x1="265.5" y1="335.02" x2="402.7" y2="335.02" stroke="#3a4266" stroke-width="0.5"/><rect x="255.7" y="337.15" width="6.2" height="4.3" fill="#4a2060" stroke="#555" stroke-width="0.3"/><text x="265.6" y="341.36" class="lg" textLength="117.5" lengthAdjust="spacingAndGlyphs">nucleic acid binding (PC00171)</text><line x1="265.5" y1="342.15" x2="383.0" y2="342.15" stroke="#3a4266" stroke-width="0.5"/><rect x="255.7" y="344.29" width="6.2" height="4.3" fill="#f2efb0" stroke="#555" stroke-width="0.3"/><text x="265.6" y="348.49" class="lg" textLength="100.0" lengthAdjust="spacingAndGlyphs">oxidoreductase (PC00176)</text><line x1="265.5" y1="349.29" x2="365.5" y2="349.29" stroke="#3a4266" stroke-width="0.5"/><rect x="255.7" y="351.42" width="6.2" height="4.3" fill="#ee6666" stroke="#555" stroke-width="0.3"/><text x="265.6" y="355.62" class="lg" textLength="74.0" lengthAdjust="spacingAndGlyphs">receptor (PC00197)</text><line x1="265.5" y1="356.42" x2="339.5" y2="356.42" stroke="#3a4266" stroke-width="0.5"/><rect x="255.7" y="358.56" width="6.2" height="4.3" fill="#5a2462" stroke="#555" stroke-width="0.3"/><text x="265.6" y="362.76" class="lg" textLength="112.9" lengthAdjust="spacingAndGlyphs">signaling molecule (PC00207)</text><line x1="265.5" y1="363.56" x2="378.4" y2="363.56" stroke="#3a4266" stroke-width="0.5"/><rect x="255.7" y="365.69" width="6.2" height="4.3" fill="#a6dae6" stroke="#555" stroke-width="0.3"/><text x="265.6" y="369.90" class="lg" textLength="100.1" lengthAdjust="spacingAndGlyphs">storage protein (PC00210)</text><line x1="265.5" y1="370.69" x2="365.6" y2="370.69" stroke="#3a4266" stroke-width="0.5"/><rect x="255.7" y="372.83" width="6.2" height="4.3" fill="#70c060" stroke="#555" stroke-width="0.3"/><text x="265.6" y="377.03" class="lg" textLength="107.9" lengthAdjust="spacingAndGlyphs">structural protein (PC00211)</text><line x1="265.5" y1="377.83" x2="373.4" y2="377.83" stroke="#3a4266" stroke-width="0.5"/><rect x="255.7" y="379.96" width="6.2" height="4.3" fill="#f2eec0" stroke="#555" stroke-width="0.3"/><text x="265.6" y="384.17" class="lg" textLength="80.7" lengthAdjust="spacingAndGlyphs">surfactant (PC00212)</text><line x1="265.5" y1="384.96" x2="346.2" y2="384.96" stroke="#3a4266" stroke-width="0.5"/><rect x="255.7" y="387.10" width="6.2" height="4.3" fill="#2f58a8" stroke="#555" stroke-width="0.3"/><text x="265.6" y="391.30" class="lg" textLength="114.7" lengthAdjust="spacingAndGlyphs">transcription factor (PC00218)</text><line x1="265.5" y1="392.10" x2="380.2" y2="392.10" stroke="#3a4266" stroke-width="0.5"/><rect x="255.7" y="394.24" width="6.2" height="4.3" fill="#60b848" stroke="#555" stroke-width="0.3"/><text x="265.6" y="398.44" class="lg" textLength="128.4" lengthAdjust="spacingAndGlyphs">transfer/carrier protein (PC00219)</text><line x1="265.5" y1="399.24" x2="393.9" y2="399.24" stroke="#3a4266" stroke-width="0.5"/><rect x="255.7" y="401.37" width="6.2" height="4.3" fill="#f0e050" stroke="#555" stroke-width="0.3"/><text x="265.6" y="405.57" class="lg" textLength="85.2" lengthAdjust="spacingAndGlyphs">transferase (PC00220)</text><line x1="265.5" y1="406.37" x2="350.7" y2="406.37" stroke="#3a4266" stroke-width="0.5"/><rect x="255.7" y="408.50" width="6.2" height="4.3" fill="#921a1a" stroke="#555" stroke-width="0.3"/><text x="265.6" y="412.71" class="lg" textLength="239.8" lengthAdjust="spacingAndGlyphs">transmembrane receptor regulatory/adaptor protein (PC00226)</text><line x1="265.5" y1="413.50" x2="505.3" y2="413.50" stroke="#3a4266" stroke-width="0.5"/><rect x="255.7" y="415.64" width="6.2" height="4.3" fill="#283680" stroke="#555" stroke-width="0.3"/><text x="265.6" y="419.84" class="lg" textLength="84.8" lengthAdjust="spacingAndGlyphs">transporter (PC00227)</text><line x1="265.5" y1="420.64" x2="350.3" y2="420.64" stroke="#3a4266" stroke-width="0.5"/></g>
</svg></body></html>
